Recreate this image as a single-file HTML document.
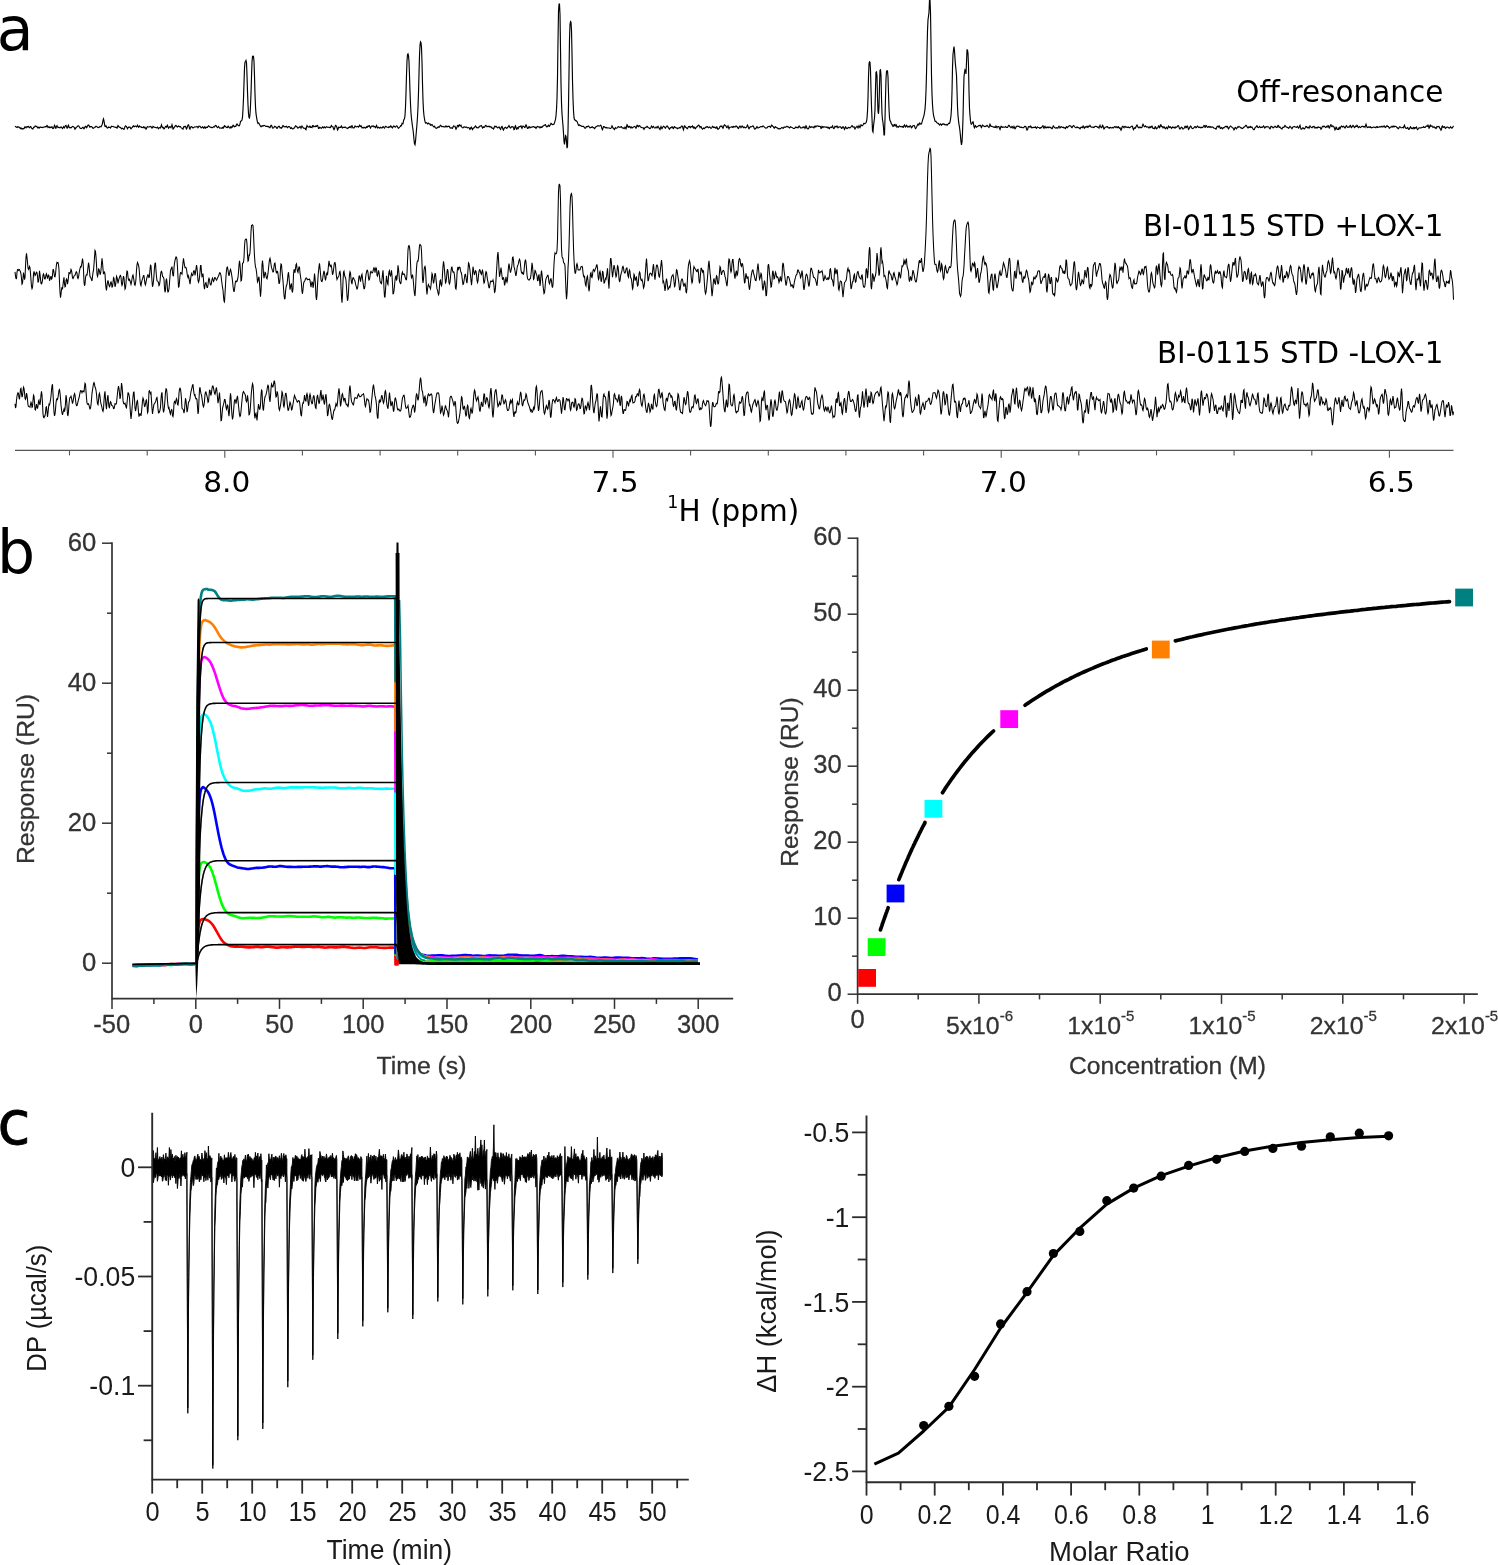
<!DOCTYPE html>
<html lang="en">
<head>
<meta charset="utf-8">
<title>BI-0115 binding to LOX-1: STD NMR, SPR and ITC</title>
<style>
html,body{margin:0;padding:0;background:#fff;}
body{width:1498px;height:1565px;overflow:hidden;}
svg{display:block;will-change:transform;}
text{white-space:pre;}
.pb text{stroke:#333;stroke-width:0.3px;}
.pb text.pl{stroke:none;}
</style>
</head>
<body>
<svg width="1498" height="1565" viewBox="0 0 1498 1565">
<rect x="0" y="0" width="1498" height="1565" fill="#ffffff"/>
<g id="panel-a">
<polyline points="15,126.9 15.5,126.5 16,126.9 16.5,127.3 17,127.5 17.5,126.8 18,126.6 18.5,127.2 19,127.2 19.5,127.2 20,128.2 20.5,128.6 21,127.8 21.5,128.3 22,129.2 22.5,128.8 23,128.4 23.5,128.9 24,128.8 24.5,127.5 25,126.7 25.5,127.4 26,127.8 26.5,127 27,126.7 27.5,127.1 28,126.6 28.5,126.4 29,127.4 29.5,127.8 30,127.2 30.5,126.6 31,126.9 31.5,128.1 32,128.6 32.5,128.8 33,128.8 33.5,127.6 34,127.1 34.5,127.1 35,126.2 35.5,126 36,126.4 36.5,126.4 37,126.9 37.5,127.7 38,127.1 38.5,127.3 39,128.2 39.5,127.8 40,127.1 40.5,127 41,127.3 41.5,127.3 42,127.4 42.5,127.6 43,127.2 43.5,127 44,127.2 44.5,127.1 45,126.5 45.5,126.5 46,127 46.5,126.4 47,125.5 47.5,126.1 48,127.5 48.5,127.1 49,126.7 49.5,127.6 50,127.6 50.5,127.2 51,127.5 51.5,126.9 52,126.7 52.5,128.1 53,128.6 53.5,128.3 54,127 54.5,125.3 55,125.9 55.5,128.1 56,128.1 56.5,126.4 57,125.7 57.5,126.7 58,127.6 58.5,127.4 59,127.3 59.5,127.7 60,127.8 60.5,127.2 61,127 61.5,127.3 62,128 62.5,128.5 63,127.7 63.5,126.7 64,127.5 64.5,127.9 65,126.6 65.5,125.6 66,125.5 66.5,126.6 67,128.1 67.5,128 68,125.9 68.5,125.2 69,127.2 69.5,127.8 70,127.4 70.5,127.8 71,127.9 71.5,127.6 72,126.9 72.5,126.4 73,126.5 73.5,126.8 74,127.1 74.5,128 75,129.3 75.5,128.8 76,127.5 76.5,127.2 77,126.9 77.5,126.2 78,125.8 78.5,125.8 79,126.3 79.5,127.3 80,128.1 80.5,128.3 81,128.3 81.5,128.5 82,128.1 82.5,127.5 83,127.3 83.5,128.1 84,128.8 84.5,128 85,126.7 85.5,126.2 86,126.7 86.5,127.8 87,127.3 87.5,125.8 88,125.3 88.5,124.9 89,125.3 89.5,127 90,127.1 90.5,126.6 91,126.5 91.5,126.6 92,126.9 92.5,127.6 93,128.4 93.5,128.2 94,127.8 94.5,127.6 95,127.3 95.5,126.7 96,126.3 96.5,126.6 97,126.8 97.5,127.2 98,127.5 98.5,127.6 99,127.4 99.5,126.9 100,126.5 100.5,126.7 101,126.8 101.5,125.8 102,125 102.5,123.3 103,120.2 103.5,118.9 104,120.9 104.5,124.1 105,126.4 105.5,126.5 106,125.8 106.5,126.7 107,127.8 107.5,128 108,127.6 108.5,127 109,127.5 109.5,127.2 110,127.2 110.5,128 111,127.2 111.5,126.2 112,126.5 112.5,126.5 113,126.4 113.5,126.7 114,127 114.5,127 115,127.2 115.5,127.4 116,127.2 116.5,127.8 117,128.1 117.5,126.8 118,125.6 118.5,126.1 119,127 119.5,127.1 120,127.4 120.5,127.5 121,128.1 121.5,128.9 122,128.4 122.5,128.2 123,128.7 123.5,129.2 124,129.3 124.5,128.2 125,126.4 125.5,125.8 126,126.3 126.5,126.6 127,127.8 127.5,128.7 128,127.7 128.5,127.1 129,127.3 129.5,127 130,127.1 130.5,128.2 131,128.8 131.5,128.1 132,127.6 132.5,127.3 133,126.1 133.5,125.8 134,126.7 134.5,126.6 135,126.1 135.5,126 136,126.4 136.5,126.9 137,126.1 137.5,125.2 138,126.2 138.5,127.2 139,126.6 139.5,126 140,126.8 140.5,127 141,126.8 141.5,127.4 142,127.4 142.5,127.5 143,127.7 143.5,126.7 144,127 144.5,127.8 145,127.4 145.5,128.1 146,129.1 146.5,128.4 147,127.1 147.5,126.7 148,126.9 148.5,127 149,127 149.5,126.8 150,126.4 150.5,126.6 151,126.8 151.5,127.2 152,128.1 152.5,127.6 153,126.3 153.5,126.6 154,127.2 154.5,127.3 155,127.4 155.5,127.5 156,127.6 156.5,127.9 157,127.8 157.5,127.1 158,127.7 158.5,128.7 159,128.2 159.5,127.6 160,127.7 160.5,127.9 161,126.1 161.5,124.9 162,126.8 162.5,127.6 163,127.3 163.5,127.9 164,128.9 164.5,128.6 165,127.4 165.5,126.5 166,126.3 166.5,127.1 167,126.3 167.5,125.3 168,127.1 168.5,128.2 169,127.6 169.5,127 170,126.6 170.5,127.1 171,127.7 171.5,126.4 172,124.8 172.5,126.4 173,128.9 173.5,128.7 174,127.7 174.5,127.2 175,126.4 175.5,125.6 176,125.5 176.5,126.2 177,126.8 177.5,127.1 178,126.5 178.5,126 179,126.5 179.5,126.8 180,126.4 180.5,126.7 181,127.5 181.5,128.1 182,128.2 182.5,128.9 183,129.2 183.5,127.3 184,126.5 184.5,126.8 185,126.4 185.5,126.4 186,127.7 186.5,129 187,128.1 187.5,126.3 188,125.2 188.5,124.8 189,125.9 189.5,128.4 190,129.1 190.5,127.6 191,126.7 191.5,126.6 192,126.9 192.5,127.7 193,128.1 193.5,127.6 194,127.3 194.5,127 195,126.8 195.5,127 196,127 196.5,126.8 197,126.5 197.5,126.8 198,127.7 198.5,127.2 199,126.2 199.5,126.3 200,126.4 200.5,126.8 201,127.8 201.5,127.9 202,127.3 202.5,126.7 203,127.1 203.5,128.1 204,128.1 204.5,126.9 205,126.9 205.5,128.2 206,127.9 206.5,127.3 207,127.2 207.5,127.3 208,126.5 208.5,125.8 209,126.2 209.5,126.6 210,127 210.5,127.4 211,127.1 211.5,127.4 212,127.8 212.5,127.6 213,127.1 213.5,126.7 214,127.1 214.5,127 215,125.9 215.5,125.4 216,125.6 216.5,126.2 217,127.1 217.5,127.6 218,127.1 218.5,126.5 219,127.2 219.5,128.1 220,128.2 220.5,128 221,127.9 221.5,128.3 222,128.4 222.5,127.4 223,127.6 223.5,128 224,126.3 224.5,125.7 225,126.6 225.5,126.4 226,126.9 226.5,127.6 227,127.7 227.5,127.5 228,126.2 228.5,126.3 229,127.3 229.5,127.8 230,128.1 230.5,127.2 231,126.7 231.5,127.7 232,127.5 232.5,126.2 233,125.2 233.5,125.2 234,126.5 234.5,126.8 235,126.3 235.5,126.3 236,126 236.5,124.6 237,124 237.5,124.8 238,125.2 238.5,125.4 239,126 239.5,125.5 240,123.8 240.5,121.6 241,120.9 241.5,120.7 242,120 242.5,117.2 243,109.4 243.5,97.9 244,83 244.5,68.1 245,62 245.5,61.6 246,60.5 246.5,62.9 247,75 247.5,91.6 248,104.7 248.5,113.5 249,117.6 249.5,118 250,114.3 250.5,105.8 251,93.5 251.5,76.8 252,62 252.5,56.5 253,56 253.5,56.6 254,61.4 254.5,76 255,94 255.5,106.9 256,113.7 256.5,116.9 257,119.8 257.5,122.4 258,123.5 258.5,122.9 259,123.3 259.5,124.5 260,125.2 260.5,126.2 261,126.8 261.5,126.5 262,125.7 262.5,125.8 263,126.2 263.5,125.6 264,125.3 264.5,125.5 265,125.7 265.5,126.3 266,126.5 266.5,126.3 267,126.2 267.5,126.5 268,126.8 268.5,126.4 269,126.9 269.5,127.7 270,127.7 270.5,126.4 271,125.3 271.5,125.3 272,126.5 272.5,128 273,128.2 273.5,127.9 274,127.4 274.5,126.4 275,126.4 275.5,126.8 276,127 276.5,127.9 277,128.4 277.5,127.8 278,126.9 278.5,126.4 279,126.1 279.5,126.6 280,127.9 280.5,127.9 281,127.7 281.5,128.2 282,127.6 282.5,126.2 283,125.5 283.5,125.9 284,126.8 284.5,126.9 285,126.6 285.5,126.9 286,126.5 286.5,126.2 287,127.2 287.5,127.7 288,127.2 288.5,126.5 289,126.5 289.5,126.7 290,127.3 290.5,128.5 291,128.3 291.5,127.7 292,128.3 292.5,128.9 293,128.9 293.5,128.4 294,128 294.5,127.9 295,126.8 295.5,125.9 296,126.2 296.5,126.2 297,126.9 297.5,128 298,128.2 298.5,127.7 299,127.4 299.5,127.3 300,126.4 300.5,127 301,128.2 301.5,126.8 302,126.1 302.5,126.9 303,127.4 303.5,128.1 304,128.3 304.5,128.2 305,128.1 305.5,129.3 306,129.7 306.5,127.1 307,125.6 307.5,126.5 308,126.8 308.5,127 309,127.2 309.5,126.3 310,126.2 310.5,127.3 311,127.1 311.5,127.3 312,127.6 312.5,125.8 313,125.6 313.5,126.6 314,126.3 314.5,126.6 315,126.8 315.5,126.1 316,126.4 316.5,126.4 317,125.5 317.5,125.4 318,126.6 318.5,128.5 319,128.5 319.5,127.3 320,127.4 320.5,127.9 321,128 321.5,128.2 322,127.6 322.5,126.9 323,127.4 323.5,127.8 324,127 324.5,126.9 325,127.8 325.5,127.9 326,127.2 326.5,126.7 327,126.9 327.5,127.3 328,127.4 328.5,127.2 329,127.1 329.5,127.4 330,127.8 330.5,127.4 331,126.1 331.5,125.6 332,126.7 332.5,126.7 333,126.8 333.5,128.9 334,129.7 334.5,128.8 335,126.9 335.5,125.3 336,125.6 336.5,126.3 337,127.9 337.5,130 338,129.5 338.5,127.3 339,127.2 339.5,127.7 340,127.5 340.5,127.5 341,126.4 341.5,126 342,127.7 342.5,128 343,127.4 343.5,127.4 344,127.4 344.5,127.5 345,127 345.5,127 346,127.8 346.5,128 347,128.1 347.5,128.6 348,128.3 348.5,127.4 349,127.3 349.5,127.3 350,126.5 350.5,127.2 351,127.7 351.5,126 352,125.6 352.5,127.1 353,127.9 353.5,127.8 354,127.8 354.5,127.1 355,126 355.5,126.3 356,126.8 356.5,126.9 357,126.8 357.5,126.3 358,126.4 358.5,127.1 359,126.4 359.5,125.2 360,126.1 360.5,126.4 361,125.8 361.5,126.8 362,127.8 362.5,127.4 363,127.8 363.5,127.8 364,127.2 364.5,127.4 365,128 365.5,128.1 366,127.4 366.5,126.8 367,127.5 367.5,127.1 368,126.1 368.5,126.3 369,125.8 369.5,125.7 370,127.3 370.5,128.1 371,127.1 371.5,126.1 372,126.2 372.5,126.3 373,125.7 373.5,126.1 374,126.9 374.5,126.4 375,126.7 375.5,127.6 376,126.9 376.5,125.5 377,126.4 377.5,128 378,127.8 378.5,127.2 379,127.5 379.5,128.1 380,128 380.5,127.3 381,127.6 381.5,127.9 382,127.9 382.5,127.5 383,126.6 383.5,126.7 384,127.7 384.5,128.1 385,127.3 385.5,126.4 386,126.4 386.5,126.9 387,127.2 387.5,127.2 388,127.5 388.5,127.6 389,126.7 389.5,127.1 390,127.1 390.5,126 391,126.1 391.5,126.9 392,127.7 392.5,128 393,126.7 393.5,126 394,126.3 394.5,126.3 395,127.1 395.5,127.2 396,126.3 396.5,125.9 397,126 397.5,126.8 398,127.8 398.5,128.2 399,127.8 399.5,127.4 400,126.8 400.5,125.8 401,126.1 401.5,125.4 402,123.4 402.5,123.8 403,123.7 403.5,121 404,119.4 404.5,118.8 405,115.6 405.5,107.1 406,92.9 406.5,75.2 407,60.9 407.5,54.8 408,54 408.5,55.7 409,61.5 409.5,75.5 410,91.7 410.5,104.1 411,113 411.5,118.5 412,122.6 412.5,126.5 413,129.7 413.5,134.3 414,139.8 414.5,143.8 415,144.7 415.5,141.3 416,135.5 416.5,129.8 417,124 417.5,116.8 418,107.2 418.5,92.8 419,73.6 419.5,55.5 420,45.3 420.5,41.8 421,42.6 421.5,47.6 422,62.2 422.5,83.4 423,100.4 423.5,110.6 424,115.8 424.5,118.9 425,121.6 425.5,123.1 426,123 426.5,122.7 427,123.2 427.5,123.9 428,123.5 428.5,123.1 429,123.9 429.5,124.1 430,124 430.5,125.1 431,125.4 431.5,124.7 432,124.5 432.5,125.3 433,126 433.5,126.7 434,126.9 434.5,126.3 435,127 435.5,128 436,128 436.5,128.4 437,128.1 437.5,127.5 438,127.1 438.5,126.9 439,127.4 439.5,127 440,125.8 440.5,125.3 441,125.6 441.5,126.4 442,126.8 442.5,126.5 443,126.4 443.5,126.8 444,126.9 444.5,126.8 445,127 445.5,126.3 446,125.8 446.5,126.6 447,127 447.5,126.5 448,126.3 448.5,126.3 449,126.2 449.5,126.7 450,127.8 450.5,128.1 451,127.9 451.5,127.8 452,128.2 452.5,128.3 453,127 453.5,125.9 454,126.1 454.5,126.2 455,126.3 455.5,128.1 456,129.2 456.5,128.3 457,127 457.5,125.5 458,125.6 458.5,126.4 459,125.2 459.5,124.8 460,125.8 460.5,125.7 461,125.2 461.5,126.4 462,127.4 462.5,127.7 463,127.9 463.5,127.4 464,126.9 464.5,126.8 465,127.2 465.5,127.3 466,127 466.5,127.1 467,127.5 467.5,127.9 468,127.8 468.5,127.6 469,127.7 469.5,128.4 470,129.4 470.5,128.8 471,127.3 471.5,127.2 472,128.8 472.5,129.6 473,128.7 473.5,127.9 474,128 474.5,127.7 475,126.5 475.5,125.9 476,126.6 476.5,127.6 477,127.5 477.5,127.8 478,128 478.5,127 479,127 479.5,127 480,126 480.5,125.8 481,125.8 481.5,125.7 482,126.7 482.5,128 483,127.6 483.5,126.9 484,127.4 484.5,127.3 485,126.4 485.5,125.5 486,125.4 486.5,126.1 487,126.7 487.5,126.4 488,126.5 488.5,126.6 489,126.1 489.5,126.6 490,127.1 490.5,126.6 491,126.7 491.5,127.4 492,128.1 492.5,128.1 493,128.3 493.5,129 494,128.2 494.5,126.4 495,126.4 495.5,126.7 496,126.3 496.5,126.7 497,127.4 497.5,127.9 498,127.7 498.5,127.2 499,126.9 499.5,127.4 500,128.8 500.5,129.4 501,128.3 501.5,126.9 502,126.5 502.5,127.5 503,129.5 503.5,130.1 504,128.8 504.5,127.9 505,127.6 505.5,127.2 506,127.6 506.5,128.4 507,128.2 507.5,127.4 508,127.1 508.5,126.4 509,125.6 509.5,126.5 510,127.6 510.5,128 511,127.6 511.5,126.7 512,126.6 512.5,126.9 513,126.9 513.5,127.7 514,129.7 514.5,129.4 515,126.4 515.5,125.7 516,127.5 516.5,128.9 517,128.2 517.5,127.7 518,128.8 518.5,128.1 519,126.6 519.5,126.5 520,126.6 520.5,126.1 521,125.8 521.5,127.5 522,128.4 522.5,126.9 523,126 523.5,126.3 524,126.6 524.5,127.6 525,127.7 525.5,126 526,124.9 526.5,125.6 527,127.3 527.5,128.5 528,128.5 528.5,127.5 529,126.6 529.5,127 530,127.9 530.5,127.5 531,127 531.5,127 532,127.1 532.5,127 533,126.6 533.5,126.6 534,127.1 534.5,127.3 535,127 535.5,127.7 536,128.4 536.5,127.5 537,126.6 537.5,126.4 538,126.7 538.5,127 539,126.8 539.5,127 540,127.9 540.5,127.6 541,126.7 541.5,127.4 542,127.4 542.5,126.3 543,126 543.5,125.9 544,125.4 544.5,125.3 545,124.8 545.5,124.7 546,126.1 546.5,126.8 547,126.7 547.5,126.7 548,125.7 548.5,125.2 549,126.3 549.5,126.4 550,125.3 550.5,124.2 551,123.4 551.5,123.7 552,124.5 552.5,124.7 553,124.3 553.5,124.3 554,124.1 554.5,122.7 555,121.1 555.5,119.4 556,115.8 556.5,109.4 557,98.8 557.5,77.6 558,41.2 558.5,11.4 559,4.2 559.5,4 560,14.3 560.5,48.7 561,83.2 561.5,103 562,113.7 562.5,120 563,125.6 563.5,133.1 564,141.5 564.5,144.4 565,139.9 565.5,135.6 566,136.2 566.5,141.4 567,148.1 567.5,146.4 568,130.6 568.5,105.7 569,72.9 569.5,39.8 570,24.2 570.5,21.6 571,22.3 571.5,30.2 572,53.3 572.5,80.7 573,99 573.5,110.6 574,117.7 574.5,119.7 575,119.8 575.5,120.5 576,120.9 576.5,120.9 577,121.6 577.5,122.6 578,124.1 578.5,125.4 579,125 579.5,124.9 580,125.6 580.5,125.4 581,125.6 581.5,126.3 582,126.5 582.5,126.4 583,126.4 583.5,126.4 584,126.9 584.5,127.8 585,128.1 585.5,128.1 586,127.4 586.5,126.5 587,126.5 587.5,126.8 588,126.2 588.5,126 589,126.7 589.5,127.1 590,127.8 590.5,127.7 591,127.3 591.5,127.4 592,126.8 592.5,126.8 593,127.6 593.5,127.6 594,128 594.5,128.6 595,128.1 595.5,127.2 596,126.7 596.5,126.6 597,126.3 597.5,126.1 598,125.6 598.5,125.8 599,126.2 599.5,126 600,125.6 600.5,125.1 601,125.4 601.5,127.2 602,129.1 602.5,129.7 603,128.1 603.5,126.6 604,126.5 604.5,127 605,127.6 605.5,127.8 606,127.4 606.5,127.6 607,128 607.5,127.8 608,128 608.5,128 609,127.8 609.5,128.1 610,128.5 610.5,128.5 611,128.2 611.5,127.2 612,125.9 612.5,126.8 613,128 613.5,128.2 614,129.1 614.5,129.5 615,128.2 615.5,127.6 616,128.2 616.5,128.2 617,128.1 617.5,127.5 618,126.8 618.5,126.6 619,127 619.5,127.3 620,127 620.5,127.1 621,126.9 621.5,126.7 622,127.7 622.5,128.1 623,127.7 623.5,128.2 624,128.7 624.5,128.1 625,127.1 625.5,127.9 626,128.7 626.5,126.8 627,124.8 627.5,125.4 628,127 628.5,127.2 629,126.5 629.5,126.4 630,127.3 630.5,127.8 631,126.9 631.5,127 632,128.1 632.5,127.9 633,127.2 633.5,127 634,126.6 634.5,126.3 635,126.6 635.5,127.6 636,128.1 636.5,126.8 637,125.3 637.5,125.3 638,126.6 638.5,126.8 639,125.7 639.5,125.6 640,126.2 640.5,126.9 641,127.3 641.5,127.4 642,127.7 642.5,127.7 643,127.6 643.5,128.4 644,129.3 644.5,128.5 645,127.4 645.5,127.3 646,127.4 646.5,126.9 647,126.3 647.5,126.7 648,127.5 648.5,127.7 649,127.8 649.5,128.6 650,128.7 650.5,128.2 651,127.2 651.5,126.1 652,126.6 652.5,127.6 653,127 653.5,126.4 654,127.3 654.5,128 655,128 655.5,127.7 656,127 656.5,127 657,127.9 657.5,127.2 658,126.3 658.5,127.1 659,127.9 659.5,129 660,129.6 660.5,127.9 661,126.6 661.5,127.9 662,128.7 662.5,127.7 663,126.8 663.5,126.2 664,126.4 664.5,127 665,127.8 665.5,128.1 666,127.1 666.5,126.3 667,126 667.5,126.2 668,127.2 668.5,127.8 669,128.7 669.5,129.2 670,128.1 670.5,127.6 671,127.8 671.5,127.1 672,126.8 672.5,127.2 673,128.3 673.5,128.6 674,127.1 674.5,126.6 675,127.3 675.5,127.7 676,127.7 676.5,127.7 677,128.5 677.5,128.7 678,128 678.5,128.2 679,128.2 679.5,127.5 680,127.8 680.5,127.9 681,126.8 681.5,126.1 682,126 682.5,126.4 683,128.6 683.5,129.8 684,127.7 684.5,125.8 685,126.1 685.5,127.3 686,127.4 686.5,127.8 687,128.7 687.5,128.7 688,127.4 688.5,126.6 689,126.6 689.5,126.4 690,127.3 690.5,127.7 691,126.6 691.5,126.9 692,126.6 692.5,126 693,127.5 693.5,128 694,126.9 694.5,127.3 695,128.5 695.5,128.7 696,127.6 696.5,126.8 697,126.9 697.5,126.3 698,125.4 698.5,125.2 699,125.3 699.5,126.4 700,127.6 700.5,126.8 701,126.6 701.5,127.6 702,128.7 702.5,129.2 703,128.7 703.5,128.1 704,128.4 704.5,128.5 705,127.8 705.5,127.1 706,127.3 706.5,127 707,126.5 707.5,126.8 708,127.3 708.5,127.7 709,127.4 709.5,127 710,127.3 710.5,127.9 711,128.3 711.5,128 712,127.3 712.5,126.4 713,126.7 713.5,127.6 714,127.4 714.5,127.2 715,127.3 715.5,128 716,128.2 716.5,126.9 717,127 717.5,128.7 718,129.3 718.5,128.8 719,128.5 719.5,127.7 720,126.4 720.5,126.1 721,126.5 721.5,126 722,126.1 722.5,127.8 723,128.3 723.5,127 724,125.6 724.5,124.8 725,125.1 725.5,125.6 726,126.1 726.5,127.3 727,127.6 727.5,126.8 728,125.9 728.5,127.3 729,128.8 729.5,127.7 730,127.1 730.5,127.2 731,127.2 731.5,127 732,126.6 732.5,127.2 733,127.4 733.5,126.4 734,126.5 734.5,126.9 735,126.9 735.5,126.7 736,126 736.5,126.3 737,126.8 737.5,127.2 738,128.2 738.5,128.4 739,127.4 739.5,126.4 740,126 740.5,126.8 741,127.7 741.5,127 742,126.1 742.5,126.1 743,127.1 743.5,127.6 744,127.1 744.5,127.1 745,127.7 745.5,127.9 746,127.5 746.5,127.1 747,126.1 747.5,125.1 748,126.2 748.5,128 749,128.7 749.5,128 750,126.9 750.5,126.7 751,126.9 751.5,126.7 752,126.5 752.5,125.9 753,125.8 753.5,126.6 754,127.8 754.5,129 755,129.2 755.5,128.7 756,128.3 756.5,127.1 757,126.6 757.5,127.4 758,128 758.5,127.8 759,127.5 759.5,127.5 760,127 760.5,126.8 761,126.6 761.5,126.6 762,126.9 762.5,126.5 763,125.9 763.5,126.4 764,126.7 764.5,127.1 765,127.7 765.5,128.1 766,128 766.5,127.8 767,127.9 767.5,127.4 768,126.6 768.5,126.5 769,126.4 769.5,126.3 770,126.8 770.5,127.3 771,126.4 771.5,125 772,125.3 772.5,126.1 773,126.4 773.5,127 774,128.1 774.5,128.2 775,127 775.5,126.7 776,127.3 776.5,127.7 777,127.7 777.5,128 778,128.7 778.5,128.8 779,128.5 779.5,128.9 780,128.9 780.5,128.5 781,128.2 781.5,127.7 782,127.5 782.5,127.9 783,128.3 783.5,128 784,127 784.5,127 785,127.4 785.5,127.1 786,127 786.5,126.5 787,126.2 787.5,126.8 788,127 788.5,126.9 789,127.7 789.5,128 790,127.1 790.5,126.8 791,127.2 791.5,127.3 792,127.6 792.5,127.8 793,128.1 793.5,128.5 794,128.5 794.5,128.5 795,127.9 795.5,127 796,127.4 796.5,127.6 797,127.2 797.5,127.5 798,127.9 798.5,127.2 799,126.1 799.5,126.1 800,127.2 800.5,127.8 801,127.8 801.5,127.9 802,127.9 802.5,127.3 803,126.9 803.5,127.4 804,126.8 804.5,126.9 805,128.4 805.5,127.6 806,125.9 806.5,126.6 807,128.3 807.5,128.7 808,128.8 808.5,128.7 809,127.5 809.5,126.2 810,126.6 810.5,127.6 811,127.4 811.5,126.7 812,126.9 812.5,127.2 813,127 813.5,127.7 814,127.8 814.5,126.5 815,126 815.5,126.8 816,126.8 816.5,126 817,126 817.5,125.9 818,126 818.5,126.5 819,126.4 819.5,126.4 820,126.4 820.5,126.9 821,128.5 821.5,128.2 822,126.4 822.5,126.7 823,127.5 823.5,126.9 824,126.6 824.5,127 825,127 825.5,127.1 826,127.4 826.5,127 827,126.9 827.5,127.8 828,127.7 828.5,127.4 829,128.5 829.5,128.7 830,127.4 830.5,127.1 831,127.3 831.5,127.6 832,126.9 832.5,125.9 833,127.1 833.5,128.5 834,128.6 834.5,127.5 835,126.3 835.5,126.5 836,127 836.5,126.7 837,126 837.5,126.9 838,127.8 838.5,127.3 839,127 839.5,126.9 840,126.8 840.5,126.9 841,127.4 841.5,128.4 842,128.3 842.5,127.1 843,126.8 843.5,127.2 844,128.2 844.5,129.3 845,128.3 845.5,126.9 846,127.4 846.5,128.3 847,128.6 847.5,128.2 848,127.7 848.5,127.4 849,127.5 849.5,127.8 850,127.8 850.5,127.2 851,126.9 851.5,126.4 852,125.7 852.5,126.2 853,127.1 853.5,127 854,126.8 854.5,127.9 855,128.9 855.5,128 856,127.2 856.5,127 857,126.3 857.5,126.9 858,127.9 858.5,126.8 859,125.7 859.5,127 860,127.6 860.5,126.1 861,124.8 861.5,125.1 862,125.9 862.5,125.8 863,125 863.5,123.8 864,123.3 864.5,123.7 865,123.6 865.5,123.2 866,122.6 866.5,121.5 867,118.3 867.5,111.4 868,98 868.5,77 869,63.8 869.5,61.8 870,62.3 870.5,70.2 871,89.8 871.5,106.4 872,118.4 872.5,130.8 873,131.9 873.5,125.7 874,121.9 874.5,117.8 875,109.5 875.5,88.8 876,72.3 876.5,71.9 877,76.1 877.5,96.9 878,111.3 878.5,113.8 879,106.7 879.5,86.5 880,70.2 880.5,69.8 881,75 881.5,97.9 882,114 882.5,119.7 883,122.7 883.5,127.4 884,134.9 884.5,134.9 885,119.1 885.5,97.5 886,79 886.5,71.4 887,70.7 887.5,70.9 888,77 888.5,92.9 889,108.4 889.5,117.6 890,120.8 890.5,121.2 891,122.7 891.5,124.1 892,124.4 892.5,125.4 893,126.5 893.5,126.2 894,124.6 894.5,124.4 895,125.9 895.5,125.9 896,124.6 896.5,125.3 897,127.3 897.5,126.9 898,126.5 898.5,127.2 899,126.7 899.5,126 900,126.2 900.5,126.6 901,126.8 901.5,126.7 902,126.4 902.5,126.5 903,127.4 903.5,127.2 904,125.6 904.5,124.9 905,125.9 905.5,127 906,126.5 906.5,125.3 907,125.8 907.5,127 908,126.8 908.5,126.5 909,127 909.5,126.8 910,125.7 910.5,125.7 911,126.9 911.5,127.8 912,127.4 912.5,126.2 913,125.8 913.5,125.7 914,125.4 914.5,125.8 915,127.5 915.5,128.6 916,128.2 916.5,127.3 917,126.1 917.5,124.7 918,124.1 918.5,125 919,124.8 919.5,123.1 920,123.3 920.5,124.1 921,124.2 921.5,123.8 922,122.1 922.5,120.3 923,118.6 923.5,117.1 924,115.3 924.5,112.6 925,109.1 925.5,102.5 926,91.2 926.5,74 927,51.3 927.5,30.9 928,19.7 928.5,16.3 929,12.2 929.5,0.3 930,0.3 930.5,12 931,43.6 931.5,75.2 932,94.3 932.5,104.7 933,111 933.5,115.2 934,117.2 934.5,119.1 935,121.1 935.5,121.4 936,121.4 936.5,122.4 937,122.8 937.5,123.1 938,123.6 938.5,123.5 939,124.2 939.5,125.1 940,124.5 940.5,123.9 941,124.4 941.5,125.2 942,124.6 942.5,124 943,124.2 943.5,123.9 944,123.9 944.5,124.6 945,124.9 945.5,124.7 946,124.4 946.5,124.8 947,125.2 947.5,124.8 948,124.2 948.5,123.4 949,123.2 949.5,123.4 950,122.1 950.5,119.3 951,115.6 951.5,107.9 952,91.7 952.5,68.1 953,54.3 953.5,50.2 954,46.5 954.5,50.7 955,58.9 955.5,65.1 956,69.8 956.5,75.2 957,90.7 957.5,106.9 958,115.6 958.5,120.6 959,124.3 959.5,127.4 960,131.2 960.5,136.5 961,141.9 961.5,144.8 962,142 962.5,132.9 963,118.1 963.5,95.2 964,76.8 964.5,72.5 965,69.8 965.5,70.5 966,74 966.5,62.3 967,49.9 967.5,50 968,53.2 968.5,65.8 969,91.4 969.5,108.2 970,115.6 970.5,120.9 971,124 971.5,124.3 972,123.5 972.5,122.3 973,121.8 973.5,123.5 974,126.7 974.5,127.7 975,126 975.5,125.6 976,126.9 976.5,127.2 977,126.7 977.5,126.4 978,126.2 978.5,125.7 979,125.4 979.5,125.7 980,125.2 980.5,125.2 981,127 981.5,127.6 982,126 982.5,125.1 983,125.5 983.5,126 984,126.2 984.5,126.4 985,126.6 985.5,126.4 986,126.1 986.5,125.9 987,125.3 987.5,125.8 988,126.6 988.5,127 989,127.4 989.5,125.7 990,124.3 990.5,125.3 991,126.3 991.5,126.3 992,126.4 992.5,126.7 993,126.7 993.5,127 994,127.3 994.5,127 995,127.5 995.5,127.4 996,126 996.5,126.7 997,127.7 997.5,126.8 998,126.5 998.5,126.5 999,126.7 999.5,128.4 1000,129.5 1000.5,128 1001,126.4 1001.5,126.4 1002,127.2 1002.5,127.3 1003,126.9 1003.5,127.1 1004,127.2 1004.5,127.2 1005,127 1005.5,126.5 1006,127.1 1006.5,127.4 1007,127.5 1007.5,127.4 1008,126.5 1008.5,125.5 1009,125.3 1009.5,126.2 1010,126.8 1010.5,127.1 1011,127.7 1011.5,127.3 1012,126.4 1012.5,126.8 1013,128.2 1013.5,127.9 1014,126.5 1014.5,127.4 1015,128.9 1015.5,128.5 1016,127.1 1016.5,126.2 1017,126.2 1017.5,126.1 1018,126.3 1018.5,126.3 1019,126.3 1019.5,126.9 1020,127.1 1020.5,127.5 1021,127.4 1021.5,127.1 1022,127.4 1022.5,127.6 1023,127.7 1023.5,127.6 1024,127.1 1024.5,126.5 1025,126.6 1025.5,126.4 1026,126.9 1026.5,129 1027,130 1027.5,129.6 1028,128 1028.5,126.6 1029,126.4 1029.5,127 1030,127.1 1030.5,126.1 1031,126.4 1031.5,127.7 1032,127.9 1032.5,127.5 1033,127.5 1033.5,127.6 1034,127.1 1034.5,127.3 1035,127.3 1035.5,126.9 1036,127.9 1036.5,128.3 1037,127.3 1037.5,127 1038,127.3 1038.5,127.5 1039,127.5 1039.5,128.2 1040,128.4 1040.5,127.6 1041,127.8 1041.5,127.5 1042,126.8 1042.5,125.9 1043,125.7 1043.5,127.5 1044,128.3 1044.5,126.9 1045,126.3 1045.5,127.4 1046,127.9 1046.5,127.3 1047,127.6 1047.5,127.4 1048,126.9 1048.5,127.6 1049,127.6 1049.5,127.1 1050,127.1 1050.5,127.5 1051,127.9 1051.5,128.1 1052,128.7 1052.5,128.1 1053,126.4 1053.5,125.9 1054,126.8 1054.5,127.6 1055,127.7 1055.5,127.9 1056,128.2 1056.5,127.6 1057,127.7 1057.5,128.2 1058,128.1 1058.5,126.8 1059,126.2 1059.5,127 1060,128 1060.5,127.5 1061,126.7 1061.5,126.9 1062,127.1 1062.5,127.5 1063,127.5 1063.5,127.3 1064,128.1 1064.5,127.9 1065,127.8 1065.5,128.4 1066,127.4 1066.5,126.7 1067,127.3 1067.5,127.7 1068,126.8 1068.5,126.2 1069,126.1 1069.5,125.6 1070,125.7 1070.5,125.9 1071,126.2 1071.5,127.4 1072,127.7 1072.5,126.9 1073,126.1 1073.5,125.5 1074,125.8 1074.5,126.6 1075,127.1 1075.5,127.5 1076,127.8 1076.5,127.4 1077,126.9 1077.5,127.4 1078,127.6 1078.5,127.5 1079,127.7 1079.5,128.4 1080,128.8 1080.5,127.9 1081,127.3 1081.5,127.1 1082,127.6 1082.5,127.6 1083,126.1 1083.5,126.1 1084,127.7 1084.5,128.2 1085,127.2 1085.5,126.8 1086,127.2 1086.5,126.6 1087,126.2 1087.5,127.2 1088,127.4 1088.5,126.3 1089,126.5 1089.5,126.3 1090,125.4 1090.5,126.2 1091,127 1091.5,127.1 1092,127.2 1092.5,127 1093,127.1 1093.5,127.6 1094,127.4 1094.5,126.8 1095,126.5 1095.5,126.2 1096,126.2 1096.5,126.4 1097,126.8 1097.5,127.3 1098,127 1098.5,127.1 1099,128 1099.5,126.4 1100,125.3 1100.5,126.8 1101,127.3 1101.5,127.7 1102,126.9 1102.5,125.3 1103,125.8 1103.5,127.7 1104,129 1104.5,128.4 1105,127.3 1105.5,127.2 1106,127.2 1106.5,126.8 1107,126.6 1107.5,126.6 1108,127.5 1108.5,127.8 1109,127.7 1109.5,128.2 1110,127.5 1110.5,127.3 1111,127.8 1111.5,127.8 1112,127.7 1112.5,127.5 1113,127.8 1113.5,127.8 1114,127.2 1114.5,126.8 1115,126.5 1115.5,127.1 1116,127.6 1116.5,126.8 1117,126.8 1117.5,127.7 1118,127.3 1118.5,126.7 1119,127.7 1119.5,128.2 1120,127.9 1120.5,129 1121,130.1 1121.5,129.2 1122,127.3 1122.5,126.4 1123,126.4 1123.5,127.2 1124,127.7 1124.5,126.8 1125,126.4 1125.5,127 1126,126.9 1126.5,127.1 1127,127.1 1127.5,127.4 1128,127.6 1128.5,127 1129,127.4 1129.5,127.8 1130,127.5 1130.5,126.9 1131,126.7 1131.5,126.5 1132,126.1 1132.5,126.6 1133,128.5 1133.5,129.6 1134,128.6 1134.5,127.9 1135,128.3 1135.5,128 1136,126.7 1136.5,125.5 1137,125 1137.5,126 1138,127.2 1138.5,127.8 1139,127.9 1139.5,127.1 1140,126.9 1140.5,127.6 1141,127.6 1141.5,127.7 1142,127.3 1142.5,125.4 1143,124.2 1143.5,125.1 1144,126.1 1144.5,126.8 1145,126.6 1145.5,125.9 1146,126.5 1146.5,127.1 1147,126.9 1147.5,126.9 1148,126.8 1148.5,127.3 1149,128 1149.5,127.3 1150,126.6 1150.5,127.7 1151,127.6 1151.5,126.3 1152,126 1152.5,127.1 1153,128.4 1153.5,128.4 1154,128.6 1154.5,128.6 1155,127 1155.5,126.8 1156,128.3 1156.5,128.8 1157,128.1 1157.5,128 1158,127.4 1158.5,125.8 1159,126.1 1159.5,127.5 1160,126.9 1160.5,124.9 1161,124.9 1161.5,126.6 1162,126.7 1162.5,126.6 1163,127.9 1163.5,127.6 1164,126.7 1164.5,127.4 1165,128.3 1165.5,128.7 1166,128 1166.5,127.3 1167,128.1 1167.5,128.7 1168,127.5 1168.5,126.1 1169,126.7 1169.5,127.5 1170,127.2 1170.5,126.8 1171,127.7 1171.5,128.4 1172,127.8 1172.5,127 1173,127.2 1173.5,127.6 1174,127.2 1174.5,127.9 1175,128.2 1175.5,127.1 1176,127 1176.5,127.3 1177,126.9 1177.5,126.1 1178,125.7 1178.5,125.8 1179,126.9 1179.5,128.8 1180,129 1180.5,128.1 1181,127.7 1181.5,127.2 1182,127.5 1182.5,128.7 1183,129 1183.5,128.8 1184,128.4 1184.5,127.5 1185,126.4 1185.5,126.4 1186,127.7 1186.5,127.5 1187,126 1187.5,126 1188,127.7 1188.5,129.3 1189,128.8 1189.5,127.8 1190,126.9 1190.5,126 1191,126.4 1191.5,127.5 1192,128.4 1192.5,128.7 1193,128.4 1193.5,128.1 1194,127.6 1194.5,127 1195,126.6 1195.5,127 1196,127.8 1196.5,127.6 1197,126.5 1197.5,126.1 1198,126.7 1198.5,127.4 1199,127.6 1199.5,127.1 1200,127.1 1200.5,127.8 1201,127.9 1201.5,127.3 1202,127.3 1202.5,127.6 1203,127.2 1203.5,126.5 1204,125.5 1204.5,125.7 1205,127.3 1205.5,127 1206,125.5 1206.5,125.7 1207,126.8 1207.5,127.4 1208,127.3 1208.5,126.5 1209,126.8 1209.5,127.2 1210,126.6 1210.5,127 1211,127.5 1211.5,127 1212,126.8 1212.5,127 1213,127.3 1213.5,127.8 1214,128.2 1214.5,128.2 1215,128.2 1215.5,128.7 1216,129.1 1216.5,128 1217,126.6 1217.5,126.2 1218,126.6 1218.5,127.1 1219,125.9 1219.5,126 1220,127.9 1220.5,128.5 1221,128 1221.5,127.5 1222,128.1 1222.5,128.8 1223,127.9 1223.5,127.6 1224,127.8 1224.5,127.1 1225,126.8 1225.5,126.4 1226,126.6 1226.5,126.9 1227,126.3 1227.5,126.5 1228,128 1228.5,128.9 1229,128.1 1229.5,127.1 1230,126.6 1230.5,126 1231,126.4 1231.5,126.9 1232,127.3 1232.5,127.8 1233,128 1233.5,128.7 1234,129.9 1234.5,129.2 1235,127.6 1235.5,127.4 1236,128.1 1236.5,128.7 1237,128 1237.5,126.9 1238,127.1 1238.5,127.1 1239,126.4 1239.5,126.9 1240,127.2 1240.5,127.2 1241,128 1241.5,127.9 1242,128.2 1242.5,128.5 1243,128.1 1243.5,127.4 1244,127.1 1244.5,127 1245,126.5 1245.5,125.6 1246,125.3 1246.5,125.9 1247,126.6 1247.5,127.7 1248,128 1248.5,127.3 1249,126.7 1249.5,127.3 1250,127.3 1250.5,126.5 1251,127.2 1251.5,127.4 1252,127.1 1252.5,128.2 1253,129 1253.5,129.5 1254,129.8 1254.5,129.2 1255,127.8 1255.5,127.2 1256,127 1256.5,126 1257,125.8 1257.5,126.9 1258,127.6 1258.5,127.7 1259,127.2 1259.5,126.4 1260,126.8 1260.5,127.5 1261,127.4 1261.5,127.1 1262,127.3 1262.5,127.2 1263,126.7 1263.5,125.9 1264,126.5 1264.5,128 1265,127.7 1265.5,127 1266,127.1 1266.5,126.7 1267,126.5 1267.5,126.8 1268,127 1268.5,126.9 1269,127.3 1269.5,128.5 1270,128.9 1270.5,127.8 1271,126.3 1271.5,126.3 1272,126.8 1272.5,127.2 1273,127.9 1273.5,127.7 1274,127.1 1274.5,126.7 1275,126.2 1275.5,126.5 1276,127.2 1276.5,127.4 1277,127.4 1277.5,126.7 1278,125.3 1278.5,125.4 1279,127.2 1279.5,127.3 1280,127 1280.5,127.9 1281,128.3 1281.5,128.7 1282,129 1282.5,127.7 1283,127.1 1283.5,127.3 1284,127.2 1284.5,126.2 1285,125.4 1285.5,126 1286,126.8 1286.5,127.2 1287,127.3 1287.5,127.4 1288,127.8 1288.5,128.3 1289,128 1289.5,127 1290,126.4 1290.5,126.9 1291,127.5 1291.5,128.2 1292,128.7 1292.5,127.5 1293,126.9 1293.5,126.7 1294,126.5 1294.5,126.8 1295,126.9 1295.5,127 1296,127.2 1296.5,127.3 1297,126.7 1297.5,126.3 1298,127.4 1298.5,128.1 1299,127.6 1299.5,126.2 1300,125.3 1300.5,127.4 1301,129.2 1301.5,129.1 1302,128.9 1302.5,128.2 1303,127.8 1303.5,128.2 1304,128.8 1304.5,128.8 1305,128.1 1305.5,127.3 1306,126.3 1306.5,126.4 1307,127.6 1307.5,127.8 1308,127.1 1308.5,127.3 1309,128.2 1309.5,127.2 1310,125.9 1310.5,126.5 1311,127.1 1311.5,127.6 1312,127.8 1312.5,126.9 1313,126.6 1313.5,126.8 1314,126.4 1314.5,127.1 1315,128.2 1315.5,127.8 1316,127.4 1316.5,127.6 1317,128 1317.5,127.8 1318,126.9 1318.5,127 1319,127.5 1319.5,127.5 1320,127.3 1320.5,128.1 1321,129.3 1321.5,128.8 1322,127.4 1322.5,126.3 1323,126.3 1323.5,126.7 1324,126.1 1324.5,126.2 1325,127 1325.5,127.6 1326,127.3 1326.5,126.4 1327,126.9 1327.5,126.9 1328,125.7 1328.5,126 1329,127.7 1329.5,127.9 1330,126.6 1330.5,124.9 1331,124.7 1331.5,126.2 1332,126.6 1332.5,126 1333,126.1 1333.5,126.7 1334,126.9 1334.5,128.3 1335,129.9 1335.5,129.1 1336,127.2 1336.5,127.3 1337,129.2 1337.5,129.3 1338,129.1 1338.5,129.4 1339,127.6 1339.5,127.3 1340,128.7 1340.5,127.7 1341,126.5 1341.5,126 1342,126.5 1342.5,127.1 1343,126.8 1343.5,126.3 1344,126.6 1344.5,127.5 1345,128 1345.5,127.3 1346,126.2 1346.5,125.7 1347,126.5 1347.5,127.4 1348,127.3 1348.5,126.9 1349,127.2 1349.5,127.1 1350,125.5 1350.5,125.4 1351,127.1 1351.5,127.6 1352,126.9 1352.5,126.2 1353,125.4 1353.5,125.8 1354,126.9 1354.5,127.7 1355,127.2 1355.5,126.1 1356,126.5 1356.5,126.4 1357,125.2 1357.5,125.7 1358,127.2 1358.5,127.7 1359,127 1359.5,126.5 1360,127.1 1360.5,127.6 1361,127.2 1361.5,126.5 1362,126.4 1362.5,126.3 1363,126.5 1363.5,127 1364,126.4 1364.5,126.5 1365,127.3 1365.5,125.7 1366,124.3 1366.5,125.7 1367,127.2 1367.5,127.6 1368,127.4 1368.5,127 1369,126.7 1369.5,127.3 1370,127.5 1370.5,126.8 1371,127.2 1371.5,127.9 1372,127.8 1372.5,127.6 1373,127.2 1373.5,127.1 1374,127.1 1374.5,127.2 1375,127.4 1375.5,127.6 1376,127.6 1376.5,126.6 1377,126.4 1377.5,127.5 1378,127.5 1378.5,127 1379,127 1379.5,126.9 1380,126.5 1380.5,127.1 1381,127.2 1381.5,126.4 1382,126.2 1382.5,126.7 1383,127 1383.5,126.7 1384,125.9 1384.5,126 1385,127.3 1385.5,127.5 1386,126.9 1386.5,126.1 1387,125.7 1387.5,126.4 1388,126.5 1388.5,126.6 1389,127.9 1389.5,128.3 1390,127.7 1390.5,127.2 1391,127.1 1391.5,126.7 1392,126.2 1392.5,127 1393,127.1 1393.5,126.1 1394,126.1 1394.5,126.7 1395,126.5 1395.5,126.3 1396,126.5 1396.5,126.9 1397,127.5 1397.5,128 1398,128.6 1398.5,128.8 1399,127.8 1399.5,126.8 1400,126.9 1400.5,127.4 1401,127.7 1401.5,127.7 1402,127.7 1402.5,127.5 1403,127.4 1403.5,127.8 1404,126.3 1404.5,125.2 1405,126.7 1405.5,128 1406,128.3 1406.5,128.4 1407,128.2 1407.5,127.5 1408,127.9 1408.5,129.2 1409,129.4 1409.5,128.9 1410,127.6 1410.5,126.8 1411,127.6 1411.5,128.5 1412,128.2 1412.5,128.3 1413,128.7 1413.5,127.5 1414,127.6 1414.5,128.4 1415,127.8 1415.5,128.1 1416,127.5 1416.5,127 1417,128.7 1417.5,129.6 1418,129.2 1418.5,128.5 1419,127.9 1419.5,127.9 1420,128 1420.5,127.8 1421,127.9 1421.5,127.8 1422,127.3 1422.5,127.5 1423,127.3 1423.5,126.7 1424,127.2 1424.5,127.4 1425,127.4 1425.5,127 1426,126.4 1426.5,125.9 1427,126.2 1427.5,126.3 1428,125.2 1428.5,126.2 1429,128.2 1429.5,127.7 1430,125.3 1430.5,125.1 1431,126.3 1431.5,126.1 1432,125.9 1432.5,126.8 1433,127.5 1433.5,127.1 1434,126.6 1434.5,127.3 1435,127.8 1435.5,127.7 1436,128.5 1436.5,127.9 1437,126.4 1437.5,126.5 1438,126.9 1438.5,126.6 1439,126.4 1439.5,127.6 1440,128.6 1440.5,128.9 1441,130.2 1441.5,129.3 1442,126.4 1442.5,126 1443,127.2 1443.5,127.4 1444,126.8 1444.5,126.7 1445,127.7 1445.5,128.4 1446,127.9 1446.5,127.2 1447,127.1 1447.5,127.1 1448,127.2 1448.5,127.7 1449,127.9 1449.5,128.1 1450,127.7 1450.5,126.8 1451,127.3 1451.5,128.1 1452,127.9 1452.5,127.7 1453,126.8 1453.5,125.9" fill="none" stroke="#000" stroke-width="1.15" stroke-linejoin="miter"/>
<polyline points="15,271.9 15.5,276.1 16,278.6 16.5,278.7 17,272.3 17.5,269.7 18,269.4 18.5,270.3 19,269.7 19.5,269.6 20,271.1 20.5,271.8 21,274.1 21.5,278.5 22,284.1 22.5,283.3 23,278 23.5,272.5 24,275.6 24.5,279.7 25,277.7 25.5,266.6 26,257.4 26.5,253.4 27,257.3 27.5,262.5 28,268.1 28.5,269.4 29,268.2 29.5,266.5 30,267.9 30.5,273.4 31,280.1 31.5,286.5 32,288.7 32.5,287.3 33,282 33.5,273.9 34,271.3 34.5,273 35,275.6 35.5,275 36,273.2 36.5,272.2 37,272.8 37.5,275.7 38,282.1 38.5,281.9 39,278 39.5,270.9 40,274.2 40.5,278.9 41,283.5 41.5,283.9 42,282.8 42.5,280.1 43,275.1 43.5,273.9 44,275.1 44.5,278.7 45,279 45.5,277.5 46,274.6 46.5,273.7 47,275.9 47.5,278.6 48,276.5 48.5,275.2 49,275.9 49.5,280.7 50,279.4 50.5,277.6 51,276.1 51.5,279.1 52,278.6 52.5,275 53,269.7 53.5,269.6 54,272.3 54.5,276.7 55,276.9 55.5,274.3 56,268.8 56.5,264.4 57,262.4 57.5,263 58,262.6 58.5,264.7 59,269.8 59.5,282.3 60,292.2 60.5,297.7 61,294.2 61.5,289.3 62,287.2 62.5,289.4 63,284.8 63.5,280.4 64,277.4 64.5,284 65,286.9 65.5,286.3 66,280.6 66.5,279 67,280.2 67.5,284.2 68,281.1 68.5,276.7 69,272.1 69.5,273.7 70,273.7 70.5,272.2 71,269.4 71.5,270.5 72,273.6 72.5,277.9 73,278.5 73.5,277.7 74,276 74.5,275.7 75,275.2 75.5,274.1 76,272 76.5,271.7 77,273.1 77.5,277.5 78,278.5 78.5,277.3 79,273.8 79.5,270.9 80,268.5 80.5,266.6 81,267 81.5,265.5 82,262.2 82.5,258.5 83,261.7 83.5,269.8 84,282 84.5,285.8 85,284.4 85.5,277.8 86,275.5 86.5,274.7 87,274.9 87.5,271.9 88,267.4 88.5,262.7 89,265 89.5,271 90,276.8 90.5,276.9 91,278.2 91.5,279.7 92,281 92.5,276.5 93,272.7 93.5,270.2 94,264.5 94.5,257.3 95,250.5 95.5,251.5 96,256.9 96.5,264.7 97,273.9 97.5,276.5 98,275 98.5,269 99,269.4 99.5,271.3 100,274.1 100.5,274.2 101,270 101.5,263.7 102,258.3 102.5,262.5 103,269.1 103.5,274.2 104,272.6 104.5,272.1 105,274.1 105.5,282.3 106,287.9 106.5,290.5 107,285.6 107.5,282.1 108,280.4 108.5,282.9 109,285.4 109.5,286.6 110,285.7 110.5,282.8 111,281.8 111.5,283.1 112,287.1 112.5,286.7 113,283 113.5,277.6 114,278.3 114.5,282 115,286.7 115.5,285.4 116,281.8 116.5,276.2 117,277.3 117.5,279.9 118,283.3 118.5,280.8 119,278.9 119.5,277.4 120,275.9 120.5,275.4 121,277.2 121.5,283.2 122,285.4 122.5,284.1 123,278.8 123.5,276.1 124,278.2 124.5,284 125,289.2 125.5,288.2 126,283.2 126.5,274.7 127,271.1 127.5,271.6 128,277 128.5,279.8 129,280.5 129.5,279.4 130,280.7 130.5,282.7 131,284.4 131.5,282.4 132,279 132.5,275.9 133,275 133.5,277.4 134,280.7 134.5,284.6 135,285.3 135.5,283.4 136,278.7 136.5,270.1 137,264.8 137.5,262.5 138,263.8 138.5,265.1 139,267.8 139.5,273.6 140,280.3 140.5,284.5 141,285.7 141.5,282.6 142,280.4 142.5,278.9 143,277.1 143.5,275.6 144,275.7 144.5,280.3 145,283.8 145.5,285 146,282.2 146.5,279.6 147,277.5 147.5,275.7 148,274.7 148.5,276 149,278 149.5,275.8 150,269.8 150.5,264.8 151,266 151.5,273.7 152,281.3 152.5,286.8 153,285 153.5,280.9 154,274.9 154.5,267.3 155,263.2 155.5,263.1 156,270.8 156.5,276.8 157,280.7 157.5,281.2 158,281.5 158.5,282.9 159,285.6 159.5,284.9 160,281.2 160.5,275.4 161,271.9 161.5,271.3 162,272.7 162.5,276.4 163,276.8 163.5,277.3 164,279.4 164.5,288.2 165,292.3 165.5,290.3 166,280.9 166.5,278.7 167,282 167.5,289.8 168,291.9 168.5,291.2 169,288.7 169.5,282.7 170,276.3 170.5,270.5 171,269.2 171.5,267.9 172,266.6 172.5,272.2 173,275.6 173.5,275.8 174,267.8 174.5,263.2 175,260.3 175.5,258.5 176,256.9 176.5,257.1 177,259.4 177.5,267.5 178,277.2 178.5,287 179,286.7 179.5,281.7 180,275.4 180.5,272.5 181,272.6 181.5,273.5 182,274.1 182.5,268.1 183,262.5 183.5,258.3 184,262.1 184.5,265.2 185,267.6 185.5,267.4 186,267.6 186.5,269 187,272.8 187.5,276.1 188,277.5 188.5,276 189,278.3 189.5,281.2 190,284.1 190.5,280.1 191,276.3 191.5,273.6 192,274.8 192.5,275.5 193,274.7 193.5,271.2 194,270.7 194.5,272 195,275.3 195.5,272.4 196,268.7 196.5,265 197,267.9 197.5,274.1 198,280.5 198.5,282.3 199,280.8 199.5,277.4 200,271.7 200.5,265.4 201,265.4 201.5,272.4 202,276.7 202.5,276 203,273.6 203.5,279.7 204,285.9 204.5,289.2 205,285.5 205.5,283 206,282.6 206.5,285 207,287.4 207.5,287.4 208,284.9 208.5,279.9 209,278.3 209.5,279.5 210,283.3 210.5,285 211,284.9 211.5,282.6 212,279.3 212.5,278.1 213,279.9 213.5,281.4 214,280.5 214.5,277.9 215,277.5 215.5,278.2 216,279.3 216.5,280.2 217,279.3 217.5,278 218,276.9 218.5,276.2 219,274.8 219.5,272.8 220,272.8 220.5,273.7 221,275.7 221.5,279.7 222,283.7 222.5,287.3 223,290 223.5,296.5 224,301.1 224.5,301.9 225,293.6 225.5,284.8 226,276.3 226.5,270.2 227,267.3 227.5,267 228,270.2 228.5,273.8 229,275.8 229.5,273.9 230,270.6 230.5,269.4 231,271 231.5,273.8 232,277.1 232.5,281 233,286 233.5,289.9 234,291.9 234.5,290 235,285.1 235.5,281.3 236,281 236.5,281.8 237,281.4 237.5,279.5 238,277.5 238.5,272.2 239,265.3 239.5,260.8 240,264.4 240.5,271.8 241,281 241.5,280.4 242,274.4 242.5,263.3 243,263.1 243.5,262.4 244,257.9 244.5,246.8 245,240.3 245.5,239.4 246,239.1 246.5,239.2 247,243.9 247.5,255 248,261.2 248.5,260.6 249,255.1 249.5,255.4 250,252.5 250.5,244.1 251,231.7 251.5,225.6 252,225.3 252.5,224.8 253,225.6 253.5,233.6 254,245.9 254.5,256.2 255,263 255.5,267.1 256,268.4 256.5,271.8 257,276.8 257.5,282 258,280.9 258.5,277.9 259,276.7 259.5,283.1 260,290.3 260.5,296.6 261,290.6 261.5,279.6 262,265.2 262.5,260.6 263,265.2 263.5,273.9 264,278.1 264.5,275.4 265,272.3 265.5,272.7 266,275.9 266.5,278.1 267,278.8 267.5,276.6 268,273.2 268.5,268.7 269,263.5 269.5,259.9 270,258.3 270.5,260.6 271,264.5 271.5,267.7 272,268.9 272.5,270.9 273,272 273.5,271.7 274,266.2 274.5,263.3 275,263.1 275.5,267.5 276,271.2 276.5,273.3 277,271.5 277.5,271.4 278,273.7 278.5,279.1 279,283.4 279.5,283.3 280,278.8 280.5,268.4 281,264.1 281.5,264.7 282,271 282.5,275.9 283,281 283.5,287.7 284,294.9 284.5,298.8 285,298.6 285.5,291.9 286,287.6 286.5,285.3 287,284.3 287.5,279.9 288,274.6 288.5,272.2 289,277 289.5,283.5 290,289.6 290.5,287.2 291,284.7 291.5,283.5 292,290.9 292.5,292.5 293,288.3 293.5,274.4 294,269.7 294.5,269.7 295,272.8 295.5,268.5 296,264.7 296.5,263.9 297,268.4 297.5,271.4 298,272.4 298.5,268.9 299,266.9 299.5,267.1 300,272.8 300.5,276.3 301,279.8 301.5,284.7 302,291.7 302.5,293.8 303,289.5 303.5,284.2 304,281.8 304.5,281.5 305,280.3 305.5,278.9 306,277.9 306.5,277.9 307,278.9 307.5,279.7 308,279.4 308.5,279.5 309,279.4 309.5,279.1 310,280.5 310.5,283.8 311,287.1 311.5,284 312,282 312.5,282.4 313,287.8 313.5,285.3 314,280.3 314.5,273.5 315,277.5 315.5,285.5 316,296.4 316.5,300 317,294.9 317.5,285.1 318,277.2 318.5,271.3 319,266.6 319.5,263.4 320,268 320.5,273.7 321,279.6 321.5,281.4 322,281.6 322.5,280 323,276.4 323.5,273 324,270.8 324.5,272.8 325,277.8 325.5,280.5 326,277.7 326.5,273.8 327,272.9 327.5,275.1 328,270.5 328.5,265.2 329,260.8 329.5,264.1 330,266.1 330.5,266.6 331,264.7 331.5,266.8 332,270.3 332.5,274.7 333,273.4 333.5,270.3 334,265.6 334.5,262.6 335,262.5 335.5,265 336,271.7 336.5,276.7 337,279.4 337.5,278.3 338,277.4 338.5,276.6 339,275.7 339.5,271.9 340,271.4 340.5,274.7 341,286.9 341.5,297.4 342,302.8 342.5,294.6 343,281.6 343.5,272.2 344,271.2 344.5,274.7 345,276.9 345.5,277.5 346,280.5 346.5,287.3 347,295.8 347.5,300.8 348,298.4 348.5,291.8 349,281.8 349.5,274.9 350,271.7 350.5,272.8 351,278.8 351.5,282.7 352,284.1 352.5,279.7 353,277.8 353.5,277.8 354,279.2 354.5,280 355,281.2 355.5,283.8 356,285.7 356.5,287.4 357,289 357.5,288.3 358,285.3 358.5,280.7 359,276.2 359.5,276 360,278.3 360.5,281.6 361,278.6 361.5,275.4 362,274.3 362.5,278.5 363,282.4 363.5,285.6 364,288.7 364.5,288.5 365,285.4 365.5,278.4 366,274.6 366.5,272.2 367,270.2 367.5,270.2 368,272.6 368.5,277.8 369,280 369.5,279.4 370,276.2 370.5,272.2 371,271.4 371.5,272.3 372,273 372.5,272.6 373,271.4 373.5,269 374,267.8 374.5,268.9 375,272.8 375.5,269.2 376,267.7 376.5,268.6 377,275.3 377.5,276.1 378,273.7 378.5,270.4 379,272.4 379.5,276.3 380,281.1 380.5,282.4 381,283.2 381.5,283.7 382,279.4 382.5,274 383,270.2 383.5,278.1 384,288.5 384.5,296.8 385,297 385.5,290.2 386,282.5 386.5,275.8 387,280.2 387.5,283.5 388,284.5 388.5,276.1 389,271.6 389.5,270.6 390,274.8 390.5,275.8 391,274.4 391.5,270.4 392,275.4 392.5,283.5 393,293.7 393.5,293.5 394,290.8 394.5,285.9 395,280 395.5,276.6 396,276 396.5,280.5 397,278.6 397.5,273.4 398,265.2 398.5,268.9 399,274.5 399.5,280.8 400,282.6 400.5,283.6 401,283 401.5,276.8 402,273.3 402.5,272.1 403,274.5 403.5,274.2 404,273.9 404.5,274.5 405,276.5 405.5,278.3 406,279.7 406.5,279.7 407,273.5 407.5,261.8 408,250.1 408.5,246 409,245.6 409.5,246.9 410,251.7 410.5,262.7 411,274.5 411.5,277.8 412,276.8 412.5,274.5 413,277.6 413.5,283.2 414,289.7 414.5,294 415,296 415.5,288.6 416,277.9 416.5,268.3 417,262.6 417.5,261.1 418,261.2 418.5,258.1 419,251.4 419.5,245.6 420,244.5 420.5,245.1 421,245.8 421.5,251.1 422,263.7 422.5,279.5 423,282.9 423.5,279.1 424,270.7 424.5,267.2 425,266.4 425.5,269.1 426,279.5 426.5,289.4 427,294.4 427.5,289.2 428,285.7 428.5,284.5 429,286.1 429.5,286.5 430,287.7 430.5,288.9 431,285.5 431.5,279.1 432,273.5 432.5,274.6 433,280 433.5,283.4 434,281.7 434.5,276.4 435,273.5 435.5,273.6 436,279.1 436.5,284.4 437,288.9 437.5,290.1 438,292.7 438.5,294.7 439,293.4 439.5,286.1 440,280.8 440.5,280.1 441,284.4 441.5,285.8 442,283.8 442.5,274 443,266.2 443.5,261.4 444,264.5 444.5,270.4 445,277 445.5,282.9 446,282.1 446.5,278.3 447,271.9 447.5,269.2 448,271.3 448.5,277.3 449,282.9 449.5,284 450,281.9 450.5,277.1 451,271.2 451.5,267.2 452,267.1 452.5,270.3 453,272.1 453.5,271.9 454,272.1 454.5,275.5 455,281.2 455.5,288.3 456,289 456.5,284.7 457,274.1 457.5,268.7 458,266.9 458.5,269.1 459,267.8 459.5,267.1 460,267.3 460.5,270.7 461,272.3 461.5,273.5 462,277 462.5,281.4 463,284.4 463.5,283.9 464,280.8 464.5,277.5 465,274.5 465.5,274.4 466,277.1 466.5,281.7 467,283.2 467.5,277.7 468,269.4 468.5,262.8 469,263.6 469.5,266.8 470,270.6 470.5,275.2 471,280.2 471.5,285.3 472,280.4 472.5,273.3 473,266.7 473.5,269.5 474,273 474.5,275 475,272.4 475.5,270.8 476,271.3 476.5,274.5 477,280.3 477.5,282.6 478,281.1 478.5,275.2 479,271.6 479.5,269.7 480,269.9 480.5,271.9 481,273.8 481.5,274.5 482,271.4 482.5,270.4 483,272.6 483.5,280 484,283.1 484.5,282.4 485,278.3 485.5,274.4 486,271.6 486.5,272.2 487,276.1 487.5,279.8 488,281.8 488.5,285.7 489,287.8 489.5,287.8 490,283.8 490.5,281.6 491,280.9 491.5,281.6 492,281.7 492.5,281.2 493,280 493.5,282.1 494,286.3 494.5,292.3 495,291.8 495.5,287.4 496,279.6 496.5,271.6 497,263.2 497.5,255.4 498,252 498.5,259 499,268.7 499.5,276.8 500,274.5 500.5,271 501,267.6 501.5,271.6 502,276 502.5,279.8 503,278 503.5,277.8 504,279.7 504.5,285.4 505,283.9 505.5,280.4 506,276.7 506.5,280.8 507,282.2 507.5,279.9 508,272.7 508.5,266.9 509,263.5 509.5,266.8 510,270.4 510.5,272.6 511,270.5 511.5,268.2 512,264.2 512.5,257.5 513,257 513.5,260.4 514,266.9 514.5,268.4 515,271 515.5,274.1 516,276 516.5,272.7 517,268.5 517.5,266 518,264.9 518.5,263.2 519,260.4 519.5,259.2 520,260.7 520.5,264.5 521,270.1 521.5,272.6 522,273.3 522.5,272.6 523,274 523.5,274.2 524,271.2 524.5,265.2 525,261.1 525.5,259.6 526,262.4 526.5,267.9 527,274.7 527.5,278.4 528,279.4 528.5,279.6 529,280.1 529.5,279.4 530,278.7 530.5,278.4 531,274.5 531.5,268.9 532,262.8 532.5,266 533,272.7 533.5,279.5 534,278.9 534.5,274.2 535,270.4 535.5,271 536,273 536.5,274.7 537,275.7 537.5,280.7 538,280.6 538.5,276.7 539,274.3 539.5,279.8 540,285.9 540.5,282 541,274.5 541.5,270.6 542,274.4 542.5,279.9 543,285 543.5,289.6 544,293.5 544.5,292.7 545,288.4 545.5,281.8 546,278.8 546.5,277.5 547,276.7 547.5,275.2 548,275.2 548.5,277.9 549,282.5 549.5,283.9 550,282.2 550.5,279.2 551,278.9 551.5,280.9 552,286.1 552.5,287.7 553,284.8 553.5,274.7 554,264.3 554.5,256.8 555,252.9 555.5,253.7 556,253.9 556.5,253 557,250.5 557.5,239.4 558,215.3 558.5,192.1 559,184.7 559.5,184.4 560,186 560.5,200.3 561,227.2 561.5,248.9 562,256.4 562.5,257.9 563,258.6 563.5,262.4 564,263.2 564.5,263.4 565,265.9 565.5,278.4 566,291 566.5,299.2 567,294.2 567.5,282.9 568,267.9 568.5,259.9 569,247 569.5,227.9 570,207.5 570.5,197.1 571,194.2 571.5,193.5 572,196.5 572.5,208.6 573,229.5 573.5,247.4 574,259.8 574.5,268.1 575,272.9 575.5,273.2 576,270.4 576.5,265 577,263.7 577.5,265.3 578,269.9 578.5,270 579,269.8 579.5,270 580,269.8 580.5,268.5 581,266.8 581.5,266.7 582,266.3 582.5,267.4 583,272.6 583.5,275.8 584,277 584.5,275.8 585,281.2 585.5,284.9 586,286 586.5,280.6 587,277.1 587.5,276.1 588,281 588.5,287.5 589,291.3 589.5,288.2 590,279.2 590.5,273.4 591,272.7 591.5,276.8 592,277.5 592.5,275.1 593,270.6 593.5,269.5 594,270.1 594.5,271.3 595,270 595.5,268.4 596,267.5 596.5,264.9 597,264.8 597.5,267.8 598,276.3 598.5,279.5 599,278.4 599.5,272.4 600,271.2 600.5,273.8 601,281.1 601.5,281.3 602,277.8 602.5,271 603,272.2 603.5,276.6 604,283 604.5,282.8 605,280.7 605.5,278.4 606,279.1 606.5,276.3 607,272.3 607.5,268.3 608,275.6 608.5,283 609,288.6 609.5,277.1 610,266.8 610.5,258.6 611,258.7 611.5,264.1 612,271.5 612.5,277.3 613,273.8 613.5,268.7 614,265.1 614.5,267 615,270 615.5,273.9 616,276.8 616.5,275.5 617,271.3 617.5,265.9 618,266.5 618.5,270.8 619,278.6 619.5,281.5 620,281 620.5,276.4 621,274.1 621.5,272.2 622,270.6 622.5,267 623,266.4 623.5,267.8 624,271.3 624.5,272.9 625,273.1 625.5,271.8 626,269.4 626.5,267.9 627,267.9 627.5,272.8 628,276.1 628.5,277.2 629,271.5 629.5,270 630,271.6 630.5,277.3 631,278.1 631.5,279.5 632,283.9 632.5,289 633,287.9 633.5,280 634,274.4 634.5,275.5 635,280.1 635.5,280 636,277.7 636.5,277.1 637,282.6 637.5,285.9 638,285.4 638.5,280.1 639,274.4 639.5,272 640,272.9 640.5,277.8 641,280.1 641.5,280.6 642,279.5 642.5,281.1 643,284 643.5,288 644,286.8 644.5,283.3 645,277.7 645.5,270.8 646,263.9 646.5,258.6 647,265.1 647.5,273.8 648,281.1 648.5,280 649,277.1 649.5,274.5 650,273.4 650.5,273.1 651,273.5 651.5,274.7 652,275.6 652.5,272.4 653,267.1 653.5,264.2 654,269.5 654.5,276.4 655,279.7 655.5,274.8 656,269.3 656.5,265.3 657,265 657.5,265.9 658,268.2 658.5,273.5 659,276.4 659.5,277 660,273.2 660.5,268.9 661,264.4 661.5,260 662,264.7 662.5,272.4 663,282.2 663.5,281.2 664,283 664.5,286.9 665,291 665.5,287.6 666,281.5 666.5,278.7 667,281.5 667.5,285.6 668,289.6 668.5,289 669,287.8 669.5,286.4 670,287.2 670.5,285 671,281 671.5,277.3 672,276 672.5,275.4 673,274.7 673.5,277.2 674,281.2 674.5,286.7 675,286.1 675.5,281.8 676,274.4 676.5,269.8 677,270.3 677.5,273.7 678,277 678.5,280.1 679,284 679.5,289.7 680,289.9 680.5,287.1 681,281.7 681.5,279.6 682,278.9 682.5,279.7 683,282.3 683.5,285 684,286.6 684.5,284.1 685,283.4 685.5,285.5 686,292 686.5,292.5 687,287.9 687.5,278.4 688,269.8 688.5,264.9 689,262.5 689.5,260.7 690,262.5 690.5,267 691,274.9 691.5,280.4 692,282.9 692.5,281.7 693,274.7 693.5,269.4 694,266.6 694.5,267.9 695,268.6 695.5,269 696,270.2 696.5,271.5 697,271.8 697.5,269.7 698,269.4 698.5,272.7 699,280.2 699.5,283.5 700,281 700.5,274 701,268.3 701.5,268.1 702,270.3 702.5,272 703,270.5 703.5,271 704,276.5 704.5,285 705,290.9 705.5,293.8 706,292.4 706.5,288.5 707,282.9 707.5,277.6 708,270.7 708.5,264.4 709,260.9 709.5,266.4 710,272.5 710.5,276.9 711,282.8 711.5,289.7 712,296.2 712.5,292.4 713,286.4 713.5,280.3 714,278.3 714.5,280.8 715,283.7 715.5,284.1 716,278.8 716.5,275.8 717,276.5 717.5,281.6 718,284 718.5,283.7 719,278.8 719.5,272.1 720,266.6 720.5,267.6 721,272.3 721.5,275 722,272.6 722.5,271.3 723,270.6 723.5,270.4 724,271.3 724.5,273.7 725,276.7 725.5,277.8 726,280.9 726.5,284.2 727,286.2 727.5,281.5 728,273.6 728.5,262.9 729,259.1 729.5,259.7 730,264.5 730.5,270 731,272.1 731.5,270.7 732,263.3 732.5,259.6 733,259.6 733.5,265 734,271.1 734.5,275.9 735,278.7 735.5,274.7 736,271.9 736.5,270.7 737,275.5 737.5,274.8 738,270.6 738.5,262.8 739,259.6 739.5,258.6 740,259.4 740.5,263.2 741,265.7 741.5,266.4 742,263.7 742.5,263.8 743,266.3 743.5,271.4 744,277.8 744.5,282.8 745,282.4 745.5,276.5 746,273.4 746.5,276.1 747,278.4 747.5,278.2 748,276.4 748.5,282 749,286.9 749.5,289.8 750,286.2 750.5,281.7 751,277.5 751.5,274.4 752,271.6 752.5,270 753,270 753.5,272.9 754,275 754.5,276.6 755,279 755.5,280.6 756,280.7 756.5,277.3 757,272.2 757.5,267.3 758,263.5 758.5,268.2 759,273.9 759.5,279.4 760,278.4 760.5,276 761,273.4 761.5,274.5 762,280.9 762.5,287.7 763,290.5 763.5,287.4 764,283.6 764.5,280.6 765,283.1 765.5,288.4 766,295.6 766.5,295.5 767,287.9 767.5,276.4 768,265.8 768.5,264.2 769,267.2 769.5,273.7 770,277.4 770.5,281.6 771,287 771.5,286.5 772,280.9 772.5,272.2 773,270.8 773.5,274.5 774,278.9 774.5,278.4 775,274.7 775.5,272.2 776,273.5 776.5,276.3 777,277.4 777.5,276.8 778,277.7 778.5,279.9 779,282.4 779.5,280.9 780,277.9 780.5,276.5 781,280.7 781.5,281.1 782,276.5 782.5,265.7 783,262.8 783.5,264.6 784,270.4 784.5,274.1 785,278 785.5,281.9 786,285.5 786.5,283.8 787,280.3 787.5,276.8 788,276.4 788.5,276.9 789,277.8 789.5,279.6 790,281.7 790.5,284.1 791,286.3 791.5,285.8 792,284.7 792.5,285.4 793,287.5 793.5,287.7 794,284.1 794.5,281.3 795,279.1 795.5,277.4 796,275.4 796.5,274.7 797,274.2 797.5,270.8 798,270 798.5,270.6 799,272.4 799.5,272.6 800,274.1 800.5,277.7 801,276.6 801.5,274 802,270.7 802.5,273.8 803,280.1 803.5,287.1 804,289.8 804.5,287 805,282.4 805.5,277.5 806,275 806.5,274.2 807,274.9 807.5,277.3 808,280.7 808.5,284.6 809,286.5 809.5,283.7 810,278.1 810.5,270.5 811,268.2 811.5,268.4 812,270.6 812.5,272.5 813,274.6 813.5,277.2 814,277.3 814.5,277.8 815,278.5 815.5,279.5 816,281.5 816.5,283.9 817,285.8 817.5,280.8 818,275 818.5,269.9 819,271.7 819.5,272.8 820,272.8 820.5,271.7 821,271.7 821.5,271.8 822,270.9 822.5,272.7 823,276.2 823.5,281.1 824,279.8 824.5,277.8 825,275.8 825.5,277.2 826,278.4 826.5,279.3 827,279.5 827.5,278.5 828,277.7 828.5,279.3 829,278.8 829.5,275.8 830,269.3 830.5,268.8 831,272.2 831.5,278.9 832,279.2 832.5,280.3 833,282.3 833.5,286.5 834,280.3 834.5,271.8 835,267.8 835.5,271.9 836,274.1 836.5,271 837,269.4 837.5,272.7 838,280.5 838.5,288.8 839,290.1 839.5,287 840,282.1 840.5,281.1 841,281.4 841.5,281.6 842,286.4 842.5,291.8 843,297.3 843.5,292.3 844,287.2 844.5,282.7 845,282 845.5,281.5 846,280.6 846.5,278.7 847,273.8 847.5,269.6 848,268.2 848.5,270.6 849,271.6 849.5,270.7 850,275.1 850.5,282.1 851,289 851.5,287.8 852,284.6 852.5,281.8 853,281.8 853.5,278.2 854,275.2 854.5,274.3 855,279.6 855.5,282.1 856,281.6 856.5,277.2 857,274 857.5,271.8 858,271.5 858.5,273.7 859,276.3 859.5,277.7 860,278.1 860.5,278.5 861,279.2 861.5,275.7 862,275 862.5,277.2 863,284.1 863.5,286.7 864,287.1 864.5,287.1 865,285.4 865.5,280.3 866,270 866.5,268.4 867,271.6 867.5,278.3 868,273 868.5,264.1 869,253.4 869.5,247.2 870,249.8 870.5,267.8 871,285.9 871.5,289.1 872,283.9 872.5,273.4 873,274.6 873.5,277.8 874,281.8 874.5,278.3 875,276.8 875.5,275.5 876,272.2 876.5,261.4 877,253 877.5,257.1 878,263.7 878.5,268.9 879,275.7 879.5,273.8 880,264.5 880.5,251.3 881,247.2 881.5,253.6 882,262.4 882.5,261.4 883,264.5 883.5,269.5 884,276.2 884.5,275.4 885,275.8 885.5,278.2 886,279.9 886.5,283.4 887,287.5 887.5,288.3 888,281.5 888.5,273.6 889,270.5 889.5,272.1 890,273.8 890.5,274.1 891,275 891.5,277 892,279.9 892.5,280 893,277.2 893.5,273.4 894,272.6 894.5,274.8 895,277.3 895.5,278.6 896,280.6 896.5,282.6 897,284.7 897.5,283.5 898,280.3 898.5,275.6 899,271.8 899.5,273.3 900,276.6 900.5,278.3 901,274.6 901.5,270 902,266.1 902.5,266.5 903,265.8 903.5,263.8 904,260.1 904.5,261.3 905,264.6 905.5,262.6 906,259.7 906.5,259.2 907,266 907.5,268 908,269.5 908.5,271.8 909,279.2 909.5,281.6 910,279.2 910.5,276.3 911,278 911.5,280.7 912,277.8 912.5,273.1 913,270.2 913.5,271.8 914,274.2 914.5,276.9 915,279.8 915.5,281.6 916,281.9 916.5,280.8 917,277.3 917.5,273.6 918,269.8 918.5,265.9 919,261.9 919.5,260.1 920,262.5 920.5,262.3 921,260.7 921.5,258 922,264.1 922.5,269 923,271.9 923.5,269.8 924,266.9 924.5,261.6 925,252.7 925.5,243.3 926,232.3 926.5,217.4 927,198.8 927.5,179.3 928,164.4 928.5,155.8 929,152.6 929.5,151 930,148.4 930.5,148.9 931,156.2 931.5,174.1 932,196.6 932.5,217.4 933,233.8 933.5,245.6 934,254.8 934.5,262.3 935,264.4 935.5,264.4 936,264.3 936.5,268 937,270.8 937.5,272 938,270.6 938.5,265.7 939,262 939.5,260.5 940,268.3 940.5,271 941,269.6 941.5,264 942,265.1 942.5,269.8 943,276.5 943.5,279.2 944,277.9 944.5,271.6 945,266.9 945.5,265.9 946,268.5 946.5,271.5 947,272.9 947.5,272.9 948,271.2 948.5,269.5 949,268 949.5,266.8 950,267.3 950.5,267.5 951,265.9 951.5,259.9 952,247.7 952.5,237.3 953,228 953.5,223.1 954,220.9 954.5,220 955,220.3 955.5,224.2 956,234.2 956.5,247 957,259.9 957.5,268.5 958,273.9 958.5,278.9 959,285.1 959.5,293.2 960,294.9 960.5,296.4 961,294.9 961.5,289.6 962,281.8 962.5,277.9 963,276.6 963.5,272.7 964,265.8 964.5,256.4 965,247.8 965.5,238.1 966,230.1 966.5,225.8 967,224.2 967.5,223.1 968,222.2 968.5,223.8 969,230.4 969.5,243.2 970,258.2 970.5,270 971,271.3 971.5,269.4 972,266.1 972.5,263.3 973,263.7 973.5,265 974,266.2 974.5,262.7 975,263.8 975.5,270.4 976,277.4 976.5,276.7 977,271.2 977.5,268.2 978,271.5 978.5,277.2 979,282.8 979.5,281.6 980,278.3 980.5,274.1 981,272.5 981.5,269.5 982,265.2 982.5,260.1 983,257.1 983.5,256.4 984,260.3 984.5,263.3 985,264.6 985.5,262.7 986,263.4 986.5,265.4 987,268.5 987.5,274.9 988,283.2 988.5,292 989,293.1 989.5,288.6 990,282.4 990.5,279.3 991,276.2 991.5,274.2 992,274.2 992.5,283 993,289 993.5,290.7 994,281.8 994.5,276.1 995,273.7 995.5,277.1 996,281.7 996.5,286 997,288.2 997.5,286.1 998,283.2 998.5,280.2 999,275.3 999.5,272.1 1000,271 1000.5,274.5 1001,275.5 1001.5,274.8 1002,272.5 1002.5,269.1 1003,265.7 1003.5,262.8 1004,264.2 1004.5,266.1 1005,267.8 1005.5,270 1006,273.5 1006.5,277.4 1007,277.5 1007.5,274.3 1008,269.6 1008.5,264.5 1009,259.8 1009.5,258 1010,261.1 1010.5,271.2 1011,280.1 1011.5,286.6 1012,289.2 1012.5,290.7 1013,290.8 1013.5,286.7 1014,278.7 1014.5,271.7 1015,271.3 1015.5,276.3 1016,278.7 1016.5,275.4 1017,268.1 1017.5,262.8 1018,259.9 1018.5,263.3 1019,268.3 1019.5,273.1 1020,274.1 1020.5,272.7 1021,271.9 1021.5,273.5 1022,279 1022.5,282.3 1023,282.3 1023.5,277.6 1024,276.6 1024.5,278.3 1025,277.8 1025.5,275 1026,271.6 1026.5,270.4 1027,271.5 1027.5,273.8 1028,277.1 1028.5,278.6 1029,282 1029.5,287.6 1030,292.1 1030.5,291.3 1031,286.9 1031.5,282.3 1032,282.8 1032.5,284.4 1033,283.5 1033.5,278.9 1034,276.6 1034.5,278.6 1035,278.9 1035.5,277.9 1036,276.1 1036.5,276.7 1037,275.1 1037.5,272.6 1038,271.1 1038.5,270.8 1039,270.9 1039.5,271 1040,276.3 1040.5,280.9 1041,283.9 1041.5,281.9 1042,280.7 1042.5,279.9 1043,277.5 1043.5,276.8 1044,276.8 1044.5,277.2 1045,274.2 1045.5,273.9 1046,279.8 1046.5,289.6 1047,292.4 1047.5,287.1 1048,278.1 1048.5,274.4 1049,275 1049.5,280.4 1050,283.5 1050.5,283.5 1051,277.8 1051.5,277.6 1052,282.1 1052.5,292.2 1053,294.2 1053.5,294.6 1054,294 1054.5,296.5 1055,292.4 1055.5,284.8 1056,278 1056.5,278.4 1057,280.6 1057.5,281.8 1058,281 1058.5,278.6 1059,274.4 1059.5,268.8 1060,266 1060.5,265.6 1061,267.6 1061.5,268.1 1062,268.6 1062.5,271.4 1063,272.8 1063.5,272.7 1064,270.5 1064.5,273.4 1065,273.2 1065.5,268.9 1066,260.2 1066.5,260.3 1067,266.6 1067.5,275.4 1068,278.3 1068.5,278.9 1069,279.2 1069.5,281.9 1070,284.3 1070.5,285.6 1071,284.9 1071.5,284.3 1072,283.6 1072.5,278.7 1073,273.3 1073.5,267.7 1074,262.2 1074.5,261.9 1075,267.2 1075.5,280.8 1076,287.9 1076.5,290.1 1077,287 1077.5,281.2 1078,275.9 1078.5,271.9 1079,274.7 1079.5,279.2 1080,283.5 1080.5,285.4 1081,284.6 1081.5,282.6 1082,279.8 1082.5,280.5 1083,282.1 1083.5,284.1 1084,279.5 1084.5,274.3 1085,270.1 1085.5,273.4 1086,276.6 1086.5,277.2 1087,271.4 1087.5,267.6 1088,267.9 1088.5,273.8 1089,282.6 1089.5,287.5 1090,288.4 1090.5,284.5 1091,284.6 1091.5,286.2 1092,285 1092.5,277.5 1093,269.6 1093.5,265 1094,264.3 1094.5,263.5 1095,262.1 1095.5,267.3 1096,272.6 1096.5,276.8 1097,273.3 1097.5,271.4 1098,270.1 1098.5,268.4 1099,265.5 1099.5,263.5 1100,263.5 1100.5,264.4 1101,267.6 1101.5,273.1 1102,279.4 1102.5,282.7 1103,284 1103.5,285.7 1104,287.7 1104.5,288.2 1105,284.4 1105.5,281.8 1106,282.7 1106.5,288.7 1107,297.2 1107.5,299.8 1108,296.2 1108.5,286.7 1109,280.5 1109.5,276.6 1110,274.5 1110.5,275.4 1111,277.9 1111.5,281.9 1112,286 1112.5,288 1113,287.5 1113.5,281.8 1114,275.2 1114.5,268.2 1115,262.9 1115.5,265.5 1116,272.6 1116.5,282.1 1117,283.4 1117.5,282.3 1118,280.8 1118.5,280.5 1119,277 1119.5,270.2 1120,267.4 1120.5,268.4 1121,270.7 1121.5,267.4 1122,267 1122.5,268.6 1123,272.7 1123.5,267.2 1124,261.6 1124.5,258.6 1125,261.6 1125.5,263.2 1126,263.3 1126.5,264.6 1127,265.2 1127.5,266.2 1128,269.8 1128.5,274.9 1129,278.4 1129.5,277.6 1130,277.5 1130.5,279.3 1131,283.3 1131.5,286.2 1132,288 1132.5,288.3 1133,284 1133.5,280.8 1134,279.7 1134.5,283.8 1135,284.1 1135.5,283.7 1136,283.6 1136.5,283.6 1137,281.6 1137.5,277.6 1138,275.5 1138.5,273.1 1139,271.1 1139.5,271.7 1140,273.3 1140.5,274.5 1141,273.7 1141.5,270.9 1142,269 1142.5,269.1 1143,273.7 1143.5,274.4 1144,271.3 1144.5,267.3 1145,266.6 1145.5,267.4 1146,266.7 1146.5,270.4 1147,276.4 1147.5,284.8 1148,289 1148.5,291.3 1149,292 1149.5,291.3 1150,287.4 1150.5,280.9 1151,273.9 1151.5,272.8 1152,275.3 1152.5,280.4 1153,283.3 1153.5,285.1 1154,286.2 1154.5,288.3 1155,286.2 1155.5,279.5 1156,268.1 1156.5,265.5 1157,269 1157.5,274.7 1158,271.5 1158.5,266.1 1159,263.5 1159.5,268.8 1160,275 1160.5,280.2 1161,285.1 1161.5,286.2 1162,282.5 1162.5,264.9 1163,254.4 1163.5,252.5 1164,269.3 1164.5,278.5 1165,279.7 1165.5,268.6 1166,263.8 1166.5,262.3 1167,263.7 1167.5,264.7 1168,267.9 1168.5,272.2 1169,272.5 1169.5,271.8 1170,271.5 1170.5,273.8 1171,274.8 1171.5,275.2 1172,275.2 1172.5,274.6 1173,276.5 1173.5,281.3 1174,287.1 1174.5,288.8 1175,288 1175.5,288.9 1176,291.2 1176.5,292.2 1177,288.9 1177.5,282.5 1178,278.2 1178.5,277.9 1179,277.1 1179.5,273.4 1180,267.8 1180.5,268.6 1181,275.2 1181.5,283.9 1182,288.4 1182.5,284.7 1183,279.8 1183.5,277.9 1184,277.7 1184.5,277 1185,275.3 1185.5,277.9 1186,278.1 1186.5,276.2 1187,271.2 1187.5,271 1188,272.9 1188.5,274.4 1189,269.9 1189.5,264.2 1190,259.2 1190.5,260.5 1191,264.7 1191.5,271.2 1192,272.6 1192.5,271.3 1193,269 1193.5,270.7 1194,273.6 1194.5,276.7 1195,279.1 1195.5,281.4 1196,283.7 1196.5,285.8 1197,284.4 1197.5,281.8 1198,279.1 1198.5,282.5 1199,285.9 1199.5,287 1200,279 1200.5,269.4 1201,264.2 1201.5,269.6 1202,282.2 1202.5,289.2 1203,287.9 1203.5,279.2 1204,275.1 1204.5,274.9 1205,277 1205.5,278 1206,278.8 1206.5,280.8 1207,280.8 1207.5,279.5 1208,276.9 1208.5,279.5 1209,279.7 1209.5,276.5 1210,267.7 1210.5,264.5 1211,266 1211.5,272.1 1212,276.5 1212.5,280 1213,282.4 1213.5,283 1214,281.1 1214.5,276 1215,272.1 1215.5,271.3 1216,273.2 1216.5,272.9 1217,271.7 1217.5,270.7 1218,272.6 1218.5,273.7 1219,273.6 1219.5,271.7 1220,271.8 1220.5,273.2 1221,276.1 1221.5,282.6 1222,286.8 1222.5,287.8 1223,278.2 1223.5,272.5 1224,270.6 1224.5,275.6 1225,276.8 1225.5,276.9 1226,276.9 1226.5,277.6 1227,275.6 1227.5,270.8 1228,266.5 1228.5,264.3 1229,264.6 1229.5,270.4 1230,277.3 1230.5,281.8 1231,279.4 1231.5,275 1232,270.2 1232.5,265.4 1233,262.5 1233.5,262.8 1234,265.7 1234.5,263.7 1235,260 1235.5,258 1236,266.7 1236.5,273.7 1237,277.6 1237.5,276.1 1238,274.8 1238.5,270.6 1239,262.6 1239.5,258.2 1240,257 1240.5,258.3 1241,260.3 1241.5,266 1242,273.5 1242.5,281.2 1243,281 1243.5,277.8 1244,272.4 1244.5,271.5 1245,271.9 1245.5,273.6 1246,277.4 1246.5,279.3 1247,278.7 1247.5,273 1248,269.4 1248.5,268.7 1249,273.4 1249.5,280.8 1250,284.3 1250.5,281.3 1251,273.5 1251.5,272.6 1252,278.4 1252.5,284.3 1253,283.4 1253.5,278.9 1254,275.1 1254.5,275 1255,275.4 1255.5,274 1256,275.3 1256.5,278.2 1257,282.7 1257.5,283.4 1258,284.3 1258.5,284.8 1259,281.2 1259.5,277.3 1260,275.1 1260.5,279.3 1261,283.6 1261.5,286 1262,285 1262.5,281.9 1263,281.9 1263.5,285.2 1264,295 1264.5,298.1 1265,295.2 1265.5,284.8 1266,279.8 1266.5,277.7 1267,278 1267.5,277.7 1268,278.2 1268.5,280.1 1269,281 1269.5,279.7 1270,276.4 1270.5,273.2 1271,272.5 1271.5,274.1 1272,278.7 1272.5,281.7 1273,283.3 1273.5,283 1274,284.9 1274.5,285.7 1275,284.6 1275.5,279.8 1276,275.5 1276.5,271.5 1277,267.6 1277.5,266.1 1278,266.9 1278.5,271 1279,275 1279.5,277.9 1280,278.9 1280.5,275.1 1281,270.2 1281.5,265 1282,268.9 1282.5,275.6 1283,282.5 1283.5,281.2 1284,277.8 1284.5,275.3 1285,277.4 1285.5,277.4 1286,275.6 1286.5,271.7 1287,272.3 1287.5,274.6 1288,277.9 1288.5,276.7 1289,274.1 1289.5,270.8 1290,267.3 1290.5,265.5 1291,266.4 1291.5,271.5 1292,273.7 1292.5,275 1293,275.9 1293.5,280 1294,282.2 1294.5,282.8 1295,284.9 1295.5,288.7 1296,292.6 1296.5,294.9 1297,291.6 1297.5,284.6 1298,273.2 1298.5,268.4 1299,266.7 1299.5,268 1300,267.8 1300.5,270 1301,274.1 1301.5,280.2 1302,281.7 1302.5,279.4 1303,272.2 1303.5,266.5 1304,264.3 1304.5,266.9 1305,274 1305.5,280.1 1306,284.5 1306.5,282.6 1307,276.9 1307.5,270 1308,266.9 1308.5,268.6 1309,271.8 1309.5,275.1 1310,277.7 1310.5,278.2 1311,276.3 1311.5,274.1 1312,273.8 1312.5,274.6 1313,273 1313.5,274 1314,277.8 1314.5,286.1 1315,290.6 1315.5,291.5 1316,287.8 1316.5,285.7 1317,284.5 1317.5,283.7 1318,276.5 1318.5,270.2 1319,266.7 1319.5,273.2 1320,284.4 1320.5,293.9 1321,294.5 1321.5,282.1 1322,270.8 1322.5,264.8 1323,269.3 1323.5,272.6 1324,274.4 1324.5,276.6 1325,277.1 1325.5,276.2 1326,272.9 1326.5,272.1 1327,270.4 1327.5,265.4 1328,262 1328.5,261 1329,262.7 1329.5,265.1 1330,268.9 1330.5,273.2 1331,272.4 1331.5,267.5 1332,261.4 1332.5,257.6 1333,262.9 1333.5,269.3 1334,273.4 1334.5,272 1335,273.1 1335.5,277.5 1336,278.6 1336.5,276.7 1337,273 1337.5,269.4 1338,268.2 1338.5,268.4 1339,269.6 1339.5,273.5 1340,280 1340.5,289.5 1341,288.3 1341.5,281.2 1342,270.1 1342.5,271.4 1343,277 1343.5,282.8 1344,279.1 1344.5,276.6 1345,275 1345.5,274.8 1346,269.7 1346.5,267.8 1347,271.1 1347.5,273.7 1348,272.1 1348.5,268.3 1349,272.3 1349.5,276.1 1350,277.7 1350.5,272.8 1351,268.8 1351.5,267.3 1352,270.1 1352.5,278 1353,283.2 1353.5,284.7 1354,279.7 1354.5,280.7 1355,286 1355.5,293 1356,290.7 1356.5,284.7 1357,278.8 1357.5,277 1358,275.6 1358.5,273.8 1359,276.4 1359.5,280.8 1360,286.6 1360.5,290.9 1361,291.4 1361.5,288.9 1362,282.5 1362.5,278 1363,274.7 1363.5,272.8 1364,276.5 1364.5,282.5 1365,290.5 1365.5,288 1366,285.6 1366.5,283.8 1367,285.9 1367.5,285.9 1368,284.6 1368.5,282.7 1369,280.6 1369.5,278.8 1370,277.6 1370.5,278.4 1371,278.6 1371.5,277.7 1372,272.7 1372.5,268 1373,264.2 1373.5,264 1374,268.5 1374.5,274.2 1375,278.6 1375.5,278.5 1376,278.9 1376.5,281.3 1377,282.7 1377.5,281.6 1378,278.3 1378.5,277.5 1379,278.6 1379.5,280.6 1380,282 1380.5,281.9 1381,281.4 1381.5,280.9 1382,278.3 1382.5,273.7 1383,266.8 1383.5,265.5 1384,267.6 1384.5,272.3 1385,276.6 1385.5,277.4 1386,275.7 1386.5,271.9 1387,268.2 1387.5,267.2 1388,271.1 1388.5,276.6 1389,279 1389.5,278.2 1390,277.6 1390.5,275.2 1391,272.6 1391.5,275.3 1392,279.2 1392.5,281 1393,276.5 1393.5,276.9 1394,280 1394.5,285.9 1395,284.8 1395.5,283 1396,281.7 1396.5,286.3 1397,285.2 1397.5,280.2 1398,272.6 1398.5,273.3 1399,275.7 1399.5,276.4 1400,272.9 1400.5,269.5 1401,267.2 1401.5,274.3 1402,283.8 1402.5,293.1 1403,287.6 1403.5,280.5 1404,274.3 1404.5,273.5 1405,270.3 1405.5,269.5 1406,274.1 1406.5,280.4 1407,279.8 1407.5,271.8 1408,267.2 1408.5,269.1 1409,274.8 1409.5,278.5 1410,281.7 1410.5,284.1 1411,284.4 1411.5,280.3 1412,276.1 1412.5,272.9 1413,272.9 1413.5,270.8 1414,266.8 1414.5,264.9 1415,272.5 1415.5,284.1 1416,290.1 1416.5,285 1417,279 1417.5,278.8 1418,279.6 1418.5,277.8 1419,272.5 1419.5,278 1420,283.1 1420.5,286.3 1421,278.8 1421.5,270.1 1422,263.1 1422.5,263.6 1423,274.5 1423.5,285.1 1424,290.6 1424.5,286.5 1425,282.8 1425.5,280.4 1426,280.5 1426.5,283 1427,286.9 1427.5,289.7 1428,286.3 1428.5,279.7 1429,271.5 1429.5,270.4 1430,272 1430.5,275.8 1431,274.1 1431.5,273.1 1432,273.3 1432.5,277.4 1433,279.2 1433.5,277.9 1434,269.2 1434.5,261.3 1435,258.7 1435.5,267 1436,276.3 1436.5,281.5 1437,281.4 1437.5,277.6 1438,276.3 1438.5,278.1 1439,287 1439.5,288.7 1440,284.9 1440.5,274.3 1441,270.9 1441.5,270.3 1442,271.4 1442.5,273.8 1443,277 1443.5,281 1444,281.4 1444.5,283.7 1445,286.6 1445.5,286.7 1446,283.2 1446.5,280.8 1447,282.7 1447.5,282.7 1448,282.2 1448.5,281.4 1449,283.9 1449.5,281.7 1450,275.1 1450.5,270.2 1451,272.2 1451.5,277.2 1452,278.9 1452.5,282.3 1453,288.5 1453.5,299.7" fill="none" stroke="#000" stroke-width="1.05" stroke-linejoin="miter"/>
<polyline points="15,403.8 15.5,408 16,406.4 16.5,400.4 17,396.3 17.5,393.9 18,392.8 18.5,393.4 19,397.6 19.5,399.3 20,394.7 20.5,389 21,388.4 21.5,393.4 22,397.1 22.5,395.8 23,391.1 23.5,387.2 24,388.3 24.5,392.3 25,398.4 25.5,399.4 26,397.6 26.5,393.1 27,395.1 27.5,399.4 28,405.1 28.5,406.3 29,406.7 29.5,406.7 30,407.2 30.5,404.4 31,402.3 31.5,403.7 32,407.3 32.5,406.7 33,400.4 33.5,395.1 34,396.1 34.5,402.1 35,409.4 35.5,409.9 36,407.1 36.5,404.1 37,406.9 37.5,408.6 38,406.1 38.5,401.1 39,400.1 39.5,403.5 40,404.9 40.5,401.3 41,394.9 41.5,391.2 42,395.3 42.5,403.4 43,413.9 43.5,417.3 44,417.8 44.5,416 45,416 45.5,412.8 46,407.2 46.5,406.8 47,411.7 47.5,417 48,413 48.5,407.8 49,404.2 49.5,404.8 50,402.8 50.5,399.9 51,396.2 51.5,390.2 52,385.8 52.5,384.2 53,393.4 53.5,403.5 54,412.3 54.5,415.9 55,414.2 55.5,409.8 56,402.9 56.5,399.7 57,398.7 57.5,399.4 58,397.3 58.5,393.9 59,390.2 59.5,389.5 60,392.9 60.5,398.4 61,404.9 61.5,409.5 62,412.8 62.5,414.8 63,412.7 63.5,410.6 64,409.1 64.5,411.7 65,409.1 65.5,403.2 66,395.2 66.5,398.1 67,405.5 67.5,415 68,415.4 68.5,411.6 69,404 69.5,399.5 70,397.4 70.5,397.2 71,396.2 71.5,398 72,401.1 72.5,403.7 73,401.8 73.5,398.6 74,395.3 74.5,393.6 75,394.9 75.5,399.5 76,403.8 76.5,405.6 77,405.5 77.5,403.8 78,401.7 78.5,399.6 79,398 79.5,395.4 80,392.9 80.5,390.8 81,390.7 81.5,391.5 82,392.7 82.5,391.1 83,390.9 83.5,391.6 84,391.9 84.5,387.3 85,383.3 85.5,384.2 86,391.3 86.5,397.9 87,403 87.5,404.3 88,404.4 88.5,403.8 89,405.1 89.5,407.3 90,409 90.5,408.4 91,404.7 91.5,399.6 92,393.3 92.5,390.2 93,387 93.5,383.6 94,382.6 94.5,384.1 95,387 95.5,387.9 96,390.3 96.5,394.1 97,399.7 97.5,403.8 98,404.6 98.5,400.6 99,394.7 99.5,393.3 100,396.3 100.5,401 101,403.8 101.5,405.6 102,407.7 102.5,410.3 103,411.4 103.5,409 104,400.6 104.5,394.2 105,391.3 105.5,399 106,405.4 106.5,409.3 107,402.5 107.5,397 108,395.2 108.5,402.8 109,407.1 109.5,407.6 110,403.1 110.5,401.7 111,402.4 111.5,405.2 112,405.5 112.5,405.8 113,406.5 113.5,408.7 114,408.6 114.5,407 115,403.7 115.5,403.9 116,404.1 116.5,403.1 117,398 117.5,393.2 118,388.9 118.5,386.2 119,388.3 119.5,393.3 120,398.9 120.5,396.6 121,390.8 121.5,383 122,385.7 122.5,391.8 123,400.4 123.5,403 124,404 124.5,403.9 125,403.2 125.5,404.9 126,407.1 126.5,407.8 127,403.2 127.5,397.7 128,392.9 128.5,393 129,394.8 129.5,397.9 130,406.2 130.5,413.7 131,419 131.5,414.6 132,408.9 132.5,402.8 133,397.1 133.5,392.2 134,392.1 134.5,398.9 135,407.7 135.5,411 136,409 136.5,404.2 137,401.2 137.5,400.6 138,405.7 138.5,412.4 139,416.7 139.5,415 140,413.8 140.5,414.1 141,415.9 141.5,411.9 142,406.6 142.5,400.8 143,398 143.5,399.4 144,402.8 144.5,406.5 145,406.2 145.5,404.1 146,400.5 146.5,400 147,404.2 147.5,412.8 148,411.9 148.5,403.1 149,391.2 149.5,390.7 150,392.2 150.5,393.7 151,392.8 151.5,400.6 152,408.4 152.5,413.9 153,410.2 153.5,406.8 154,404.2 154.5,403.6 155,402.8 155.5,401.8 156,400.4 156.5,397.9 157,397.4 157.5,401.9 158,408.9 158.5,412.9 159,412.8 159.5,411.8 160,410.1 160.5,407.1 161,399.4 161.5,393.8 162,392.3 162.5,400.8 163,408.4 163.5,412.4 164,410.5 164.5,406 165,399.8 165.5,392.3 166,388.8 166.5,389.1 167,392.7 167.5,400.6 168,405.7 168.5,408.4 169,407.6 169.5,410.2 170,412.8 170.5,414.1 171,411.1 171.5,409.7 172,410.1 172.5,415.9 173,416.6 173.5,413 174,403.6 174.5,401.5 175,402.1 175.5,403.2 176,400.1 176.5,398.6 177,400 177.5,404.6 178,405 178.5,401.5 179,393 179.5,389.1 180,388.1 180.5,389.1 181,393.1 181.5,399.4 182,408.3 182.5,408.9 183,409.3 183.5,410.3 184,413.2 184.5,410.3 185,403.6 185.5,398.2 186,400.5 186.5,406 187,412.2 187.5,410.3 188,406.5 188.5,402.1 189,401.7 189.5,400.7 190,398.6 190.5,394.5 191,391.7 191.5,389.7 192,387.5 192.5,384.9 193,384.7 193.5,389.6 194,393.4 194.5,395.3 195,394.7 195.5,397.8 196,398.8 196.5,398.5 197,399.6 197.5,406.9 198,414 198.5,411.4 199,399.3 199.5,389.3 200,387.2 200.5,390.9 201,393.7 201.5,395.2 202,398.4 202.5,402 203,405.5 203.5,406.8 204,405.1 204.5,401.1 205,394.5 205.5,392 206,392 206.5,394.5 207,395.8 207.5,398.6 208,402.3 208.5,401.7 209,396.5 209.5,390.3 210,390.5 210.5,393.7 211,395.5 211.5,392.6 212,388.4 212.5,386 213,386 213.5,388.2 214,390.7 214.5,393.3 215,394.2 215.5,392.1 216,389 216.5,387.5 217,391.8 217.5,397.5 218,403.1 218.5,400.4 219,396.5 219.5,392.6 220,399.4 220.5,409.9 221,420.7 221.5,420.4 222,414.6 222.5,408.4 223,406.3 223.5,404.4 224,402.3 224.5,399.6 225,399.6 225.5,402.4 226,407.4 226.5,409.3 227,407.4 227.5,404.7 228,406.8 228.5,412.9 229,416.1 229.5,410.6 230,398.8 230.5,393.4 231,397.3 231.5,407.9 232,415.4 232.5,419.5 233,417.2 233.5,411.8 234,405.4 234.5,400.4 235,399.6 235.5,400.7 236,403.6 236.5,400.5 237,397.7 237.5,395.9 238,400.5 238.5,405.5 239,410.5 239.5,414.8 240,416.4 240.5,415.6 241,411.3 241.5,405.6 242,400.2 242.5,395.4 243,392.4 243.5,391.6 244,392.5 244.5,393.5 245,394.3 245.5,395.7 246,400.4 246.5,401.8 247,400.4 247.5,395.2 248,399.3 248.5,406.2 249,414.8 249.5,414.4 250,411.4 250.5,405.8 251,397.6 251.5,391.4 252,386.7 252.5,383.7 253,385.1 253.5,391.6 254,405.3 254.5,415.3 255,418.3 255.5,414.1 256,413.1 256.5,416.3 257,420.5 257.5,415.1 258,408.5 258.5,404.1 259,406.8 259.5,409.2 260,409 260.5,405.1 261,395.2 261.5,390 262,390.6 262.5,402.5 263,409 263.5,410.5 264,404.5 264.5,399.9 265,396.8 265.5,396 266,394.7 266.5,392.7 267,390.1 267.5,386.7 268,385.2 268.5,386.1 269,393.2 269.5,399.1 270,401.9 270.5,396.3 271,388.8 271.5,384 272,385.1 272.5,387 273,386.9 273.5,384.6 274,381.2 274.5,381.1 275,384.4 275.5,393.5 276,397 276.5,396.6 277,391.8 277.5,392 278,395.8 278.5,403.6 279,408.8 279.5,410.1 280,407.8 280.5,405.5 281,401.9 281.5,397.4 282,391.8 282.5,392.9 283,397.6 283.5,405.7 284,406.9 284.5,404 285,397 285.5,393.5 286,393.4 286.5,396.3 287,401.5 287.5,406.4 288,410.1 288.5,410.1 289,407.7 289.5,404.8 290,402.2 290.5,403.2 291,405.9 291.5,409.9 292,409.4 292.5,407.2 293,404 293.5,401.1 294,397.7 294.5,395.4 295,396.8 295.5,398.2 296,399.3 296.5,399.7 297,401.7 297.5,402.2 298,401.2 298.5,400.6 299,400.7 299.5,401.7 300,405.3 300.5,410.9 301,415.3 301.5,415.7 302,409.4 302.5,404.6 303,402.7 303.5,403 304,399.9 304.5,395.1 305,398.5 305.5,400.9 306,401 306.5,395.1 307,393.6 307.5,395.5 308,401.8 308.5,405.8 309,403.9 309.5,396 310,394.1 310.5,396 311,400.1 311.5,402.3 312,403.7 312.5,403.2 313,398.4 313.5,395.8 314,395.9 314.5,399.4 315,404.7 315.5,407.9 316,408.5 316.5,402.2 317,397.4 317.5,394.9 318,397.6 318.5,401 319,403.3 319.5,402.7 320,397.1 320.5,392.5 321,390.1 321.5,397.1 322,399.8 322.5,398.7 323,394.6 323.5,397.6 324,402.8 324.5,404.5 325,400.6 325.5,396.3 326,394.2 326.5,400 327,407.6 327.5,416 328,414.4 328.5,410.1 329,404.9 329.5,404.3 330,406.3 330.5,409.4 331,412.6 331.5,416.6 332,419 332.5,419.2 333,415.7 333.5,412.6 334,410.1 334.5,410.2 335,408.6 335.5,406.1 336,403.7 336.5,405.3 337,406.1 337.5,402.7 338,396.6 338.5,391.6 339,388.3 339.5,392.7 340,399.3 340.5,406.4 341,404 341.5,399.2 342,394.6 342.5,393.7 343,396.5 343.5,399.4 344,400.9 344.5,398.5 345,398.4 345.5,401.1 346,404.1 346.5,404.8 347,404.3 347.5,405.9 348,406.6 348.5,404.6 349,396.1 349.5,388.2 350,385.6 350.5,390.5 351,397.4 351.5,401.4 352,402.4 352.5,403.4 353,404.6 353.5,404.9 354,401.5 354.5,398.9 355,397.5 355.5,397.9 356,398 356.5,398.2 357,398.4 357.5,396.5 358,395 358.5,394.1 359,395.6 359.5,396.4 360,396.8 360.5,396.6 361,396.3 361.5,395.8 362,394.8 362.5,394.8 363,394.4 363.5,393.9 364,396 364.5,400.2 365,405.2 365.5,406.5 366,403.9 366.5,400.3 367,398.7 367.5,399.5 368,400.2 368.5,400 369,402.7 369.5,407 370,412.2 370.5,411.8 371,407.7 371.5,401.8 372,397.1 372.5,391.5 373,386.8 373.5,384.5 374,388.2 374.5,392.3 375,395.9 375.5,397.7 376,400.6 376.5,405 377,413.5 377.5,418.2 378,418.1 378.5,408.2 379,402 379.5,399.5 380,402.1 380.5,401.5 381,399.2 381.5,395.6 382,395.5 382.5,397.9 383,401.6 383.5,403.2 384,401.3 384.5,397.4 385,391.6 385.5,390.8 386,393.8 386.5,401.1 387,404.8 387.5,407.4 388,408.7 388.5,403.7 389,397.3 389.5,392.5 390,397.6 390.5,403.1 391,406.2 391.5,404.3 392,401.8 392.5,402.5 393,407.5 393.5,411.7 394,409.8 394.5,403.4 395,398.4 395.5,398 396,400 396.5,402.9 397,406.5 397.5,409.2 398,410 398.5,409 399,409.1 399.5,410.5 400,411.2 400.5,411.1 401,409.8 401.5,405.5 402,401.3 402.5,397.9 403,396.8 403.5,395.4 404,395.2 404.5,397.1 405,402.5 405.5,406.2 406,408.2 406.5,408.2 407,407.6 407.5,406.7 408,405.6 408.5,409.2 409,413.7 409.5,417.2 410,417.2 410.5,416.3 411,414.7 411.5,410.6 412,408.3 412.5,407.3 413,405.4 413.5,405.2 414,407 414.5,412.5 415,410.6 415.5,405.1 416,396.7 416.5,393.9 417,394.5 417.5,398.5 418,400.4 418.5,398.1 419,392.7 419.5,386.4 420,380.8 420.5,377.6 421,380.1 421.5,386.3 422,390.7 422.5,391.4 423,395.5 423.5,399.8 424,403.2 424.5,397.3 425,396.3 425.5,399 426,405.7 426.5,404.9 427,401.5 427.5,397.8 428,395 428.5,393.9 429,394.9 429.5,395.7 430,395.4 430.5,394.3 431,394 431.5,394 432,395.8 432.5,403.2 433,409.7 433.5,413 434,411.1 434.5,406.8 435,403.3 435.5,400.6 436,397.6 436.5,395 437,393 437.5,393.1 438,392.8 438.5,392.9 439,394.9 439.5,400.7 440,407 440.5,413 441,412.1 441.5,409.3 442,405.6 442.5,408.3 443,412 443.5,415.2 444,414.2 444.5,411 445,407.5 445.5,405.3 446,407.4 446.5,409.3 447,410.3 447.5,411.2 448,414 448.5,417.3 449,412.1 449.5,404.8 450,398.1 450.5,396.5 451,396.2 451.5,396.8 452,398.4 452.5,399.8 453,401.7 453.5,404 454,405.5 454.5,403.9 455,401.1 455.5,403.2 456,410.2 456.5,417.8 457,422 457.5,423.2 458,423 458.5,421.6 459,419 459.5,416.1 460,412.9 460.5,407.7 461,401.8 461.5,396.8 462,397.4 462.5,403.2 463,408.6 463.5,409.2 464,406.9 464.5,406.5 465,409.1 465.5,413.8 466,416 466.5,415.2 467,408.2 467.5,405.3 468,406.2 468.5,413.2 469,417.5 469.5,418.4 470,414.8 470.5,409.8 471,408.3 471.5,410.5 472,413.7 472.5,412 473,406.6 473.5,398.6 474,393.1 474.5,390.2 475,391.5 475.5,395.5 476,399 476.5,400.8 477,399.6 477.5,398.1 478,396.9 478.5,399.7 479,404.7 479.5,410 480,411.6 480.5,408.6 481,404.7 481.5,401.8 482,404.4 482.5,406.3 483,406.1 483.5,398 484,394 484.5,394.2 485,401.7 485.5,403.4 486,401.6 486.5,397.7 487,397.7 487.5,399.3 488,401.9 488.5,406.3 489,407.6 489.5,405.2 490,396.9 490.5,390.9 491,388.1 491.5,394.1 492,404.3 492.5,413.9 493,417.5 493.5,412.4 494,404.9 494.5,396.3 495,392 495.5,389.9 496,389.7 496.5,393.3 497,398.4 497.5,403.6 498,406.6 498.5,405.8 499,404 499.5,402.2 500,404.1 500.5,404.8 501,403.2 501.5,397.5 502,394.9 502.5,395.2 503,399.3 503.5,402.2 504,403.8 504.5,403.1 505,400.9 505.5,399.8 506,401.3 506.5,405.4 507,408.5 507.5,410.4 508,410.4 508.5,410 509,408.9 509.5,405 510,401.8 510.5,400.4 511,403.2 511.5,402 512,400.5 512.5,399.5 513,408.5 513.5,414.5 514,416.9 514.5,412.4 515,411.9 515.5,413 516,412.4 516.5,408.1 517,403.7 517.5,401.9 518,403.8 518.5,404.9 519,404.4 519.5,399.8 520,395.7 520.5,392.4 521,393 521.5,397.8 522,403.6 522.5,406.2 523,404.3 523.5,401.7 524,399.9 524.5,400.4 525,399.6 525.5,397.1 526,393.9 526.5,394.9 527,398.5 527.5,401.1 528,403 528.5,404.5 529,405.7 529.5,407.2 530,408.9 530.5,410.9 531,409.6 531.5,410.2 532,412.4 532.5,412 533,409.9 533.5,407.7 534,409.4 534.5,408.1 535,403.5 535.5,393.7 536,387.4 536.5,386.3 537,391.4 537.5,399.7 538,406.3 538.5,410.9 539,408.9 539.5,403.2 540,396.5 540.5,392.7 541,391.5 541.5,391 542,390.7 542.5,393.8 543,399.2 543.5,407 544,412.2 544.5,413.9 545,412.6 545.5,409.2 546,406.7 546.5,405.6 547,407.4 547.5,409.3 548,408.6 548.5,404.1 549,400 549.5,401.9 550,409.6 550.5,417.2 551,416.9 551.5,411.6 552,404.6 552.5,401.1 553,399.4 553.5,399.6 554,400.5 554.5,401.6 555,402.7 555.5,400.5 556,398.6 556.5,397.5 557,400.2 557.5,401.4 558,401.4 558.5,399.8 559,399.5 559.5,399.8 560,400.7 560.5,404.3 561,408.9 561.5,413.6 562,409.5 562.5,403.3 563,397.2 563.5,399.1 564,404.6 564.5,409.6 565,409.8 565.5,405.4 566,401.1 566.5,398.5 567,398.8 567.5,399.7 568,400.8 568.5,399.5 569,399 569.5,400.5 570,407.8 570.5,410.2 571,409.1 571.5,403.6 572,402.4 572.5,402.2 573,402.6 573.5,406.2 574,407.2 574.5,405.6 575,398.7 575.5,399.2 576,403.8 576.5,410.3 577,409.8 577.5,407.4 578,404.7 578.5,403.8 579,404 579.5,405.5 580,408.6 580.5,408.4 581,405.7 581.5,400.5 582,398.3 582.5,398.7 583,402.6 583.5,409.5 584,413.8 584.5,413.5 585,407.3 585.5,405.5 586,407.9 586.5,409.7 587,407.7 587.5,404.1 588,402.5 588.5,404.4 589,407.3 589.5,410.1 590,405.3 590.5,397.1 591,385.8 591.5,385.4 592,390.1 592.5,398.7 593,405.9 593.5,411.1 594,413.2 594.5,409 595,405 595.5,402 596,400.8 596.5,396.3 597,393.9 597.5,394.3 598,404.1 598.5,413.9 599,421.4 599.5,416.9 600,410.4 600.5,406.4 601,411.3 601.5,416.5 602,416.9 602.5,410.1 603,400.6 603.5,395.2 604,394.1 604.5,396.4 605,396.7 605.5,397.1 606,401.7 606.5,412 607,418.8 607.5,414.7 608,401.2 608.5,392.3 609,390.9 609.5,397.3 610,404.2 610.5,411 611,415.5 611.5,414.6 612,411.4 612.5,408.8 613,406.5 613.5,402.5 614,395.1 614.5,393.8 615,395.3 615.5,398.9 616,398.6 616.5,399 617,400.1 617.5,402.4 618,400.3 618.5,396.9 619,394.4 619.5,400.5 620,405.1 620.5,405.3 621,397.9 621.5,395.8 622,399.4 622.5,409.2 623,413.3 623.5,413.4 624,409.8 624.5,409.7 625,410.3 625.5,410.4 626,408.4 626.5,405.4 627,401.5 627.5,401.9 628,403.9 628.5,406.5 629,403.5 629.5,401 630,399.7 630.5,401 631,398.4 631.5,395.9 632,395.3 632.5,400.3 633,402.9 633.5,402.6 634,402.7 634.5,402.3 635,400.9 635.5,396.9 636,396.5 636.5,396.6 637,394.3 637.5,393.7 638,394.3 638.5,396.3 639,391.5 639.5,389.5 640,390.8 640.5,397.8 641,402.3 641.5,405.1 642,406.1 642.5,403.7 643,399.8 643.5,395 644,394.3 644.5,396.3 645,400.9 645.5,405.9 646,409.6 646.5,412 647,412.2 647.5,409.4 648,405.6 648.5,402.9 649,405.1 649.5,408.5 650,412.1 650.5,410.9 651,407.9 651.5,403.8 652,406.7 652.5,408.9 653,408.9 653.5,400.3 654,395.5 654.5,394.5 655,399.7 655.5,403 656,405.4 656.5,406.6 657,405.7 657.5,401.5 658,394.6 658.5,389.6 659,389.3 659.5,392 660,396.1 660.5,397.8 661,397.3 661.5,393.6 662,392.8 662.5,395.4 663,401.8 663.5,405.2 664,408 664.5,410 665,410.4 665.5,405.7 666,399.8 666.5,397.8 667,400 667.5,400.8 668,397.5 668.5,394.9 669,393.4 669.5,393.1 670,394.1 670.5,395.6 671,397 671.5,395.9 672,396.8 672.5,399.4 673,404.2 673.5,406.3 674,405.6 674.5,401.5 675,401.3 675.5,404.1 676,409.2 676.5,409.8 677,405.8 677.5,399.4 678,393.8 678.5,394.6 679,398.5 679.5,404.7 680,409.2 680.5,411.8 681,412.4 681.5,412.5 682,413.2 682.5,413.6 683,407.9 683.5,401.7 684,397.2 684.5,399.1 685,402.4 685.5,404.4 686,403.7 686.5,399.4 687,395.1 687.5,391.2 688,392.5 688.5,397.9 689,405.6 689.5,410.7 690,412.2 690.5,412 691,411 691.5,408.5 692,406.8 692.5,406.8 693,407.7 693.5,405.8 694,401.2 694.5,395.8 695,395.1 695.5,397.7 696,402.6 696.5,403.5 697,402.2 697.5,399.1 698,398.9 698.5,401.5 699,407.1 699.5,409.7 700,409.7 700.5,408 701,408.8 701.5,409.1 702,408.2 702.5,404 703,401.4 703.5,400.6 704,402.7 704.5,403.8 705,404.8 705.5,405.6 706,404.7 706.5,402.8 707,400.7 707.5,401.2 708,400.8 708.5,401.1 709,404.3 709.5,412.2 710,420.2 710.5,426.8 711,425.7 711.5,419.1 712,408.3 712.5,402.7 713,402.8 713.5,405.7 714,406.8 714.5,406.8 715,406.5 715.5,406 716,404.3 716.5,403.4 717,403.8 717.5,402.5 718,398 718.5,391.8 719,391.7 719.5,392.6 720,391.6 720.5,383.2 721,378.2 721.5,377.3 722,381.8 722.5,388.1 723,394.8 723.5,401.9 724,407.2 724.5,410.8 725,412.1 725.5,407 726,401.8 726.5,399.6 727,405.3 727.5,407.4 728,403.6 728.5,391.9 729,384.4 729.5,384.8 730,392.6 730.5,401.6 731,404.9 731.5,405.1 732,405.8 732.5,405.2 733,402.5 733.5,395.9 734,394.6 734.5,397.3 735,404.2 735.5,409.6 736,412.4 736.5,412.8 737,411.6 737.5,411.6 738,411.4 738.5,408.9 739,404.8 739.5,402 740,402.4 740.5,403.2 741,402.7 741.5,400.7 742,397 742.5,396.7 743,400 743.5,410.5 744,415.4 744.5,415.2 745,406.9 745.5,400 746,395.3 746.5,393.3 747,392.4 747.5,392 748,392.3 748.5,397.9 749,402.4 749.5,405.5 750,405.1 750.5,408.1 751,411.2 751.5,412 752,408.9 752.5,406 753,404 753.5,403.1 754,401.8 754.5,400.2 755,399.6 755.5,401.9 756,405 756.5,406.1 757,404.1 757.5,401.9 758,400.6 758.5,401.9 759,405.9 759.5,412.7 760,421.3 760.5,420.5 761,412.6 761.5,400.5 762,398 762.5,399.4 763,401.2 763.5,396.1 764,391.9 764.5,391.2 765,400.1 765.5,406.7 766,410.1 766.5,407.1 767,405.3 767.5,405.5 768,410.8 768.5,417 769,420.5 769.5,417.6 770,409.9 770.5,403.4 771,399.4 771.5,402.8 772,408.5 772.5,415.3 773,416.7 773.5,413.2 774,407.3 774.5,401.5 775,400.4 775.5,402.3 776,407.5 776.5,410 777,410.3 777.5,408.2 778,405.5 778.5,400.7 779,394.9 779.5,391.7 780,396.2 780.5,402 781,403.1 781.5,396.1 782,391 782.5,391 783,395.7 783.5,398.9 784,400.6 784.5,401.3 785,401.4 785.5,401.8 786,404.8 786.5,409.5 787,412.8 787.5,411.8 788,407.3 788.5,403.5 789,400.9 789.5,399.7 790,401.3 790.5,405.4 791,412.6 791.5,415.3 792,414.6 792.5,409.9 793,406.3 793.5,402.5 794,397.6 794.5,394 795,394.7 795.5,400 796,407.3 796.5,409.1 797,406.4 797.5,398.7 798,397.2 798.5,399.3 799,405.1 799.5,407.1 800,407.4 800.5,406.5 801,403.7 801.5,401.6 802,400.7 802.5,405.2 803,408.7 803.5,410.5 804,407.9 804.5,404.2 805,400.7 805.5,398.1 806,396.7 806.5,396.3 807,396.7 807.5,398.5 808,399.4 808.5,399.4 809,397.7 809.5,397.3 810,398.7 810.5,404.2 811,410.1 811.5,413.8 812,413.5 812.5,414.2 813,413.9 813.5,412.1 814,400.8 814.5,392.4 815,387.3 815.5,389.5 816,390.7 816.5,392.4 817,396.2 817.5,401.1 818,404.5 818.5,405.6 819,408.5 819.5,408.9 820,406.6 820.5,401.4 821,398.3 821.5,396.6 822,395.1 822.5,396.6 823,400.2 823.5,406.1 824,409.6 824.5,410.9 825,409.5 825.5,406.9 826,407.3 826.5,409.8 827,410.9 827.5,408.8 828,406.6 828.5,408.9 829,411.2 829.5,412.7 830,412.5 830.5,410.6 831,408.2 831.5,405.5 832,409.7 832.5,413.8 833,417.2 833.5,416.2 834,416.7 834.5,416.8 835,414.5 835.5,406 836,399.8 836.5,399.1 837,403 837.5,400.8 838,393.4 838.5,392.6 839,398 839.5,405.4 840,405.8 840.5,403.4 841,402.6 841.5,407.2 842,412.9 842.5,413.9 843,408.8 843.5,403.5 844,399.9 844.5,398.1 845,401.3 845.5,407.7 846,412.9 846.5,409.8 847,404 847.5,398.5 848,394.6 848.5,391.6 849,391.9 849.5,395.6 850,399.7 850.5,401.4 851,401.4 851.5,401.3 852,400.3 852.5,399.5 853,400.3 853.5,401.6 854,403.3 854.5,405.6 855,409.5 855.5,411.4 856,411.2 856.5,407.7 857,401.5 857.5,395.2 858,394.9 858.5,404.3 859,413.9 859.5,417.7 860,411.9 860.5,407.5 861,406.4 861.5,402.7 862,397.1 862.5,391.4 863,397.1 863.5,403.4 864,407.6 864.5,404.4 865,398.4 865.5,392.5 866,388.5 866.5,393.4 867,400 867.5,407.1 868,402.3 868.5,398 869,395.7 869.5,402.3 870,402.5 870.5,399 871,392.2 871.5,392.9 872,396.4 872.5,401.7 873,403.4 873.5,402.5 874,399 874.5,396.1 875,394.4 875.5,393.4 876,392.6 876.5,392.2 877,391.9 877.5,391.6 878,392.6 878.5,394.1 879,396.1 879.5,395.5 880,392.6 880.5,388.2 881,387.3 881.5,391.9 882,398.8 882.5,404.8 883,410.3 883.5,415.7 884,421.2 884.5,416.9 885,411.7 885.5,406.5 886,407.5 886.5,406 887,402.2 887.5,395.5 888,392.1 888.5,392.9 889,401.3 889.5,412.8 890,420.8 890.5,422.8 891,413.5 891.5,403.7 892,394.7 892.5,393.5 893,396.5 893.5,401.8 894,407.1 894.5,408.8 895,408.1 895.5,405.2 896,401.9 896.5,399.3 897,397.5 897.5,394.6 898,391.6 898.5,389.4 899,392.6 899.5,394.6 900,395 900.5,392.2 901,393.8 901.5,398.8 902,407.9 902.5,414.9 903,417.2 903.5,414.3 904,406.3 904.5,400.9 905,397.7 905.5,397.5 906,395.9 906.5,394.7 907,396.2 907.5,397.1 908,393.7 908.5,384 909,380.5 909.5,383.9 910,393.5 910.5,400.5 911,405.4 911.5,409 912,412.1 912.5,412.3 913,411.5 913.5,410.5 914,409.8 914.5,406.9 915,401.3 915.5,397.8 916,398.9 916.5,403.4 917,406.1 917.5,404.4 918,400.1 918.5,394.3 919,395.8 919.5,401.8 920,412.6 920.5,413.8 921,411.8 921.5,407.3 922,406 922.5,404.4 923,403 923.5,404.6 924,407.9 924.5,410 925,407.4 925.5,403.7 926,401.4 926.5,401.6 927,401.2 927.5,400.8 928,400.2 928.5,398.6 929,398.1 929.5,399.1 930,403.2 930.5,404.3 931,403.9 931.5,402.4 932,399.7 932.5,396.5 933,393 933.5,392.8 934,392.8 934.5,392.8 935,392.8 935.5,394.3 936,396.5 936.5,398.1 937,396 937.5,393 938,390.1 938.5,390.9 939,392.8 939.5,395.7 940,401.8 940.5,408.5 941,414.4 941.5,413 942,407.3 942.5,400 943,393.4 943.5,391.4 944,393.5 944.5,400.3 945,404.7 945.5,404.2 946,399.2 946.5,394.3 947,394.5 947.5,398.5 948,406.1 948.5,411.3 949,414.5 949.5,415.1 950,411.8 950.5,406.7 951,399.9 951.5,394.6 952,389.3 952.5,384.7 953,384.3 953.5,389.2 954,396.2 954.5,401.9 955,401.7 955.5,401.4 956,403.4 956.5,410.9 957,416.2 957.5,418 958,411.3 958.5,404.9 959,400.6 959.5,405.4 960,410.1 960.5,411.9 961,406.7 961.5,404.6 962,403.7 962.5,403.7 963,400.1 963.5,398.7 964,399.4 964.5,398.1 965,398.2 965.5,399.9 966,405.3 966.5,406.7 967,406.5 967.5,405.4 968,404.3 968.5,402.7 969,400.2 969.5,404.6 970,409.5 970.5,413.9 971,412.6 971.5,411.9 972,410.9 972.5,408.7 973,405.8 973.5,403.1 974,401.2 974.5,399.5 975,400.1 975.5,403.2 976,402.9 976.5,399 977,394 977.5,395.1 978,399.3 978.5,403.8 979,406 979.5,406.7 980,407.4 980.5,408.5 981,406.4 981.5,400.9 982,393.6 982.5,397.4 983,407.1 983.5,417.5 984,417.4 984.5,413.3 985,410.9 985.5,414.5 986,416.3 986.5,415 987,410.1 987.5,407.9 988,405 988.5,401.1 989,395.6 989.5,394.5 990,395.6 990.5,397.7 991,398 991.5,398.3 992,399.5 992.5,395.6 993,392 993.5,389.6 994,396.3 994.5,400.1 995,400.7 995.5,394 996,394.2 996.5,400.1 997,414.1 997.5,420.5 998,421.2 998.5,415.3 999,408.6 999.5,402.8 1000,398.1 1000.5,396.8 1001,397.8 1001.5,399.5 1002,399.6 1002.5,398.7 1003,399.5 1003.5,404.9 1004,413.5 1004.5,418.4 1005,418 1005.5,410 1006,407 1006.5,408.5 1007,413.9 1007.5,414.2 1008,411.1 1008.5,405 1009,404.2 1009.5,406.6 1010,412.7 1010.5,409.8 1011,404.1 1011.5,396.5 1012,394.5 1012.5,391.7 1013,389 1013.5,389.4 1014,396.1 1014.5,403 1015,404.4 1015.5,397.3 1016,390.8 1016.5,387.7 1017,393 1017.5,399.5 1018,406.2 1018.5,407.4 1019,404.4 1019.5,400.3 1020,400.7 1020.5,404.8 1021,409 1021.5,410.6 1022,408.6 1022.5,405.3 1023,401.2 1023.5,398 1024,394 1024.5,389.7 1025,388.5 1025.5,389.5 1026,390.9 1026.5,389.7 1027,387.7 1027.5,387.1 1028,389.6 1028.5,394.4 1029,395.5 1029.5,392.3 1030,387.3 1030.5,388.1 1031,392.9 1031.5,398.5 1032,396.6 1032.5,391.8 1033,387.4 1033.5,392.9 1034,398.8 1034.5,402.2 1035,399.1 1035.5,400 1036,404.9 1036.5,412.7 1037,415 1037.5,413.3 1038,407.9 1038.5,402.7 1039,398.2 1039.5,395.1 1040,400 1040.5,406.2 1041,412.6 1041.5,412.7 1042,410.3 1042.5,405.8 1043,400.7 1043.5,398 1044,396 1044.5,392.4 1045,388.6 1045.5,386.2 1046,386.5 1046.5,390.2 1047,395.6 1047.5,402.4 1048,409.5 1048.5,412.4 1049,411.4 1049.5,405.2 1050,400.1 1050.5,396.6 1051,396.4 1051.5,398.4 1052,402 1052.5,407.5 1053,410.5 1053.5,408.3 1054,401.5 1054.5,396 1055,393.5 1055.5,393 1056,393.1 1056.5,396.6 1057,401.2 1057.5,405.3 1058,405.7 1058.5,405.8 1059,406.3 1059.5,407 1060,407.4 1060.5,407.8 1061,409.7 1061.5,408 1062,403.4 1062.5,394.3 1063,392.3 1063.5,394.7 1064,401.7 1064.5,407.6 1065,410.7 1065.5,410.7 1066,406.3 1066.5,401.7 1067,397.7 1067.5,397.2 1068,401.1 1068.5,404.4 1069,401.6 1069.5,397.4 1070,394.9 1070.5,395 1071,390.3 1071.5,387.4 1072,386.9 1072.5,393.2 1073,398 1073.5,400.3 1074,396.3 1074.5,393.8 1075,392.5 1075.5,392.8 1076,391 1076.5,393.5 1077,401.8 1077.5,410.4 1078,409.3 1078.5,400.9 1079,394.3 1079.5,395 1080,398.6 1080.5,400.8 1081,402.5 1081.5,405.6 1082,411.6 1082.5,419.6 1083,423.3 1083.5,421.6 1084,413.7 1084.5,410.9 1085,411.5 1085.5,411.9 1086,406.6 1086.5,400.7 1087,399.3 1087.5,406.1 1088,411.9 1088.5,413.8 1089,407.6 1089.5,402.5 1090,398.7 1090.5,394.8 1091,392.5 1091.5,392.5 1092,397.6 1092.5,399.2 1093,398.7 1093.5,396.3 1094,401.2 1094.5,406.2 1095,410.1 1095.5,403.3 1096,399 1096.5,397.2 1097,399.2 1097.5,399.3 1098,399 1098.5,400.6 1099,400.5 1099.5,400 1100,399.5 1100.5,406.1 1101,411.1 1101.5,413.4 1102,410.3 1102.5,407.3 1103,404.5 1103.5,401.1 1104,403.3 1104.5,407.8 1105,412.7 1105.5,413.8 1106,413 1106.5,410.3 1107,402.1 1107.5,396.4 1108,393.4 1108.5,393.8 1109,393.8 1109.5,394.6 1110,399 1110.5,401.7 1111,402.2 1111.5,399.5 1112,400.8 1112.5,404.9 1113,411.9 1113.5,411.2 1114,406.2 1114.5,399 1115,398.8 1115.5,403.6 1116,409.2 1116.5,409.9 1117,404.7 1117.5,398.9 1118,394.9 1118.5,394.3 1119,396 1119.5,399.8 1120,402.5 1120.5,403.8 1121,405 1121.5,411.1 1122,413.8 1122.5,412.5 1123,404.4 1123.5,396.9 1124,392.2 1124.5,391.5 1125,395.7 1125.5,399 1126,400.9 1126.5,400.6 1127,401.6 1127.5,403.1 1128,403.2 1128.5,402.2 1129,401.7 1129.5,403.4 1130,401.8 1130.5,398.8 1131,394.3 1131.5,397.2 1132,400.1 1132.5,402.5 1133,400.9 1133.5,400 1134,400 1134.5,401.8 1135,406 1135.5,410.7 1136,415.2 1136.5,413.2 1137,407.1 1137.5,397.5 1138,391.5 1138.5,390.6 1139,393.3 1139.5,397.9 1140,401.7 1140.5,404.5 1141,405.2 1141.5,404.8 1142,405.8 1142.5,409.3 1143,410.5 1143.5,407.6 1144,401.4 1144.5,398.5 1145,399.4 1145.5,402.7 1146,406.8 1146.5,409 1147,409.7 1147.5,408.2 1148,409.3 1148.5,412 1149,416.1 1149.5,417.2 1150,415.6 1150.5,412 1151,409.2 1151.5,412 1152,417 1152.5,420.8 1153,418.4 1153.5,414.8 1154,411.9 1154.5,408.5 1155,403.4 1155.5,396.8 1156,401.9 1156.5,409.7 1157,417.1 1157.5,412.2 1158,408.8 1158.5,407.8 1159,411.7 1159.5,410.5 1160,408.5 1160.5,406.7 1161,407.9 1161.5,407.6 1162,405.9 1162.5,404.5 1163,405 1163.5,406.7 1164,408.9 1164.5,409.3 1165,408.3 1165.5,405.5 1166,402.8 1166.5,398.3 1167,391.2 1167.5,384.4 1168,383.8 1168.5,388.5 1169,396.4 1169.5,400.3 1170,401.8 1170.5,401.2 1171,401.9 1171.5,404.1 1172,408.3 1172.5,409.9 1173,409.5 1173.5,407.4 1174,404.2 1174.5,399.3 1175,394.1 1175.5,392.7 1176,395 1176.5,398.4 1177,401.3 1177.5,400.6 1178,398.6 1178.5,395.7 1179,397 1179.5,396.8 1180,394.9 1180.5,390.9 1181,392.1 1181.5,396.6 1182,401.9 1182.5,401.3 1183,398.8 1183.5,396.2 1184,399.7 1184.5,402.3 1185,402.6 1185.5,395.9 1186,390.7 1186.5,387.6 1187,391.3 1187.5,396.8 1188,402 1188.5,403.6 1189,403.5 1189.5,404 1190,406.3 1190.5,409.7 1191,409.5 1191.5,405.2 1192,398.8 1192.5,400.2 1193,406.7 1193.5,412.4 1194,408.7 1194.5,402.5 1195,399.4 1195.5,401.8 1196,404.4 1196.5,405.3 1197,403.2 1197.5,400.6 1198,398.3 1198.5,403.6 1199,410.4 1199.5,415.5 1200,410.6 1200.5,401.1 1201,392.9 1201.5,390.6 1202,395.5 1202.5,400.9 1203,405.6 1203.5,402.4 1204,399.5 1204.5,397.2 1205,398.9 1205.5,398.5 1206,396.7 1206.5,394 1207,394.2 1207.5,395.8 1208,398.5 1208.5,403.2 1209,408.3 1209.5,413.2 1210,410.4 1210.5,404.2 1211,396.6 1211.5,393.7 1212,394.9 1212.5,397.3 1213,399 1213.5,403.2 1214,407.4 1214.5,410.9 1215,407.3 1215.5,405.2 1216,405.4 1216.5,410.9 1217,413.4 1217.5,413.4 1218,410.6 1218.5,408.6 1219,407.6 1219.5,408.4 1220,409.4 1220.5,409 1221,406.7 1221.5,406 1222,407.4 1222.5,410.1 1223,410.8 1223.5,407.6 1224,402.3 1224.5,396.1 1225,396 1225.5,401.3 1226,413.5 1226.5,417.4 1227,413.9 1227.5,403.6 1228,403.2 1228.5,406.6 1229,410.9 1229.5,406 1230,399.1 1230.5,393.7 1231,393.5 1231.5,400.2 1232,409.2 1232.5,419.8 1233,417.1 1233.5,408.9 1234,397 1234.5,394.4 1235,395.9 1235.5,399.8 1236,403.9 1236.5,406.6 1237,408.6 1237.5,409.8 1238,411.4 1238.5,412.5 1239,413 1239.5,413.5 1240,411.1 1240.5,406.3 1241,400.5 1241.5,400.4 1242,402.4 1242.5,402.4 1243,396 1243.5,390.6 1244,389.8 1244.5,398.7 1245,405.6 1245.5,408.7 1246,399.4 1246.5,394.1 1247,392.4 1247.5,396 1248,397 1248.5,398.2 1249,402.1 1249.5,404.9 1250,405.7 1250.5,403.8 1251,402 1251.5,399.6 1252,396.4 1252.5,394.3 1253,395.3 1253.5,397.6 1254,399 1254.5,399.1 1255,399.6 1255.5,402 1256,404.5 1256.5,404.2 1257,400.2 1257.5,393.9 1258,393.2 1258.5,397.5 1259,405.7 1259.5,410 1260,412 1260.5,412.5 1261,412.7 1261.5,412.9 1262,413.4 1262.5,412.5 1263,408.7 1263.5,402 1264,398.2 1264.5,398.9 1265,402.4 1265.5,405.3 1266,406.6 1266.5,406.7 1267,405.5 1267.5,398.3 1268,393.8 1268.5,395.1 1269,406.7 1269.5,411.6 1270,409.6 1270.5,404.3 1271,403 1271.5,404.7 1272,409 1272.5,412.4 1273,413.7 1273.5,410.9 1274,408.6 1274.5,407.1 1275,406.5 1275.5,406.5 1276,404.1 1276.5,400 1277,396.7 1277.5,400.5 1278,407.3 1278.5,413 1279,413.8 1279.5,411.2 1280,404.7 1280.5,398.5 1281,397.6 1281.5,402.4 1282,410.1 1282.5,413 1283,412.1 1283.5,407.9 1284,405.6 1284.5,404.4 1285,404.1 1285.5,406.1 1286,407.9 1286.5,409 1287,409.9 1287.5,410.2 1288,409.6 1288.5,405.9 1289,405.3 1289.5,405.9 1290,404.8 1290.5,398.4 1291,391.4 1291.5,386.7 1292,388.9 1292.5,392.9 1293,398.2 1293.5,402.3 1294,404.7 1294.5,405.2 1295,401.6 1295.5,400.2 1296,400.7 1296.5,404.1 1297,399.5 1297.5,393.3 1298,388.1 1298.5,399.4 1299,410.4 1299.5,418.8 1300,414.3 1300.5,407.5 1301,399.7 1301.5,393.8 1302,392 1302.5,392.8 1303,396.4 1303.5,401.2 1304,404.3 1304.5,404.7 1305,404.3 1305.5,404.8 1306,406.2 1306.5,404.9 1307,403.6 1307.5,403.1 1308,405.4 1308.5,411.3 1309,415.7 1309.5,414.5 1310,405.2 1310.5,398.7 1311,397.3 1311.5,394.9 1312,389.5 1312.5,382.9 1313,384.9 1313.5,390.9 1314,397.8 1314.5,401.3 1315,400.6 1315.5,399.1 1316,398.5 1316.5,397.2 1317,394.2 1317.5,389.9 1318,389.8 1318.5,392.9 1319,398.3 1319.5,404.4 1320,405.2 1320.5,402.7 1321,396.9 1321.5,397.4 1322,399.8 1322.5,403.3 1323,402.2 1323.5,402 1324,402.7 1324.5,404.9 1325,404.6 1325.5,402.4 1326,399.1 1326.5,400.2 1327,403.8 1327.5,409.7 1328,410.5 1328.5,409.9 1329,408.3 1329.5,409.4 1330,408.9 1330.5,407.7 1331,408.8 1331.5,414.5 1332,421.3 1332.5,425.2 1333,421.2 1333.5,415 1334,408.3 1334.5,403.7 1335,400.2 1335.5,397.6 1336,400.2 1336.5,402.4 1337,404 1337.5,403.9 1338,402.2 1338.5,399.9 1339,397.2 1339.5,401.5 1340,406.9 1340.5,412 1341,407.8 1341.5,403.3 1342,399.7 1342.5,403.8 1343,406.3 1343.5,406.3 1344,399.7 1344.5,396.5 1345,396.1 1345.5,399 1346,400.6 1346.5,400.9 1347,399.8 1347.5,399.2 1348,401.4 1348.5,405.6 1349,407.7 1349.5,408.4 1350,408.6 1350.5,409.2 1351,406.1 1351.5,402.8 1352,401.1 1352.5,400 1353,397.1 1353.5,392.5 1354,393.6 1354.5,397.3 1355,402.3 1355.5,405.3 1356,404.3 1356.5,402 1357,400.5 1357.5,404.7 1358,409 1358.5,412 1359,413 1359.5,412.6 1360,410.6 1360.5,406.4 1361,402.9 1361.5,400.1 1362,398.9 1362.5,402.5 1363,406.4 1363.5,407.8 1364,406.8 1364.5,408.6 1365,414.5 1365.5,418.5 1366,417.3 1366.5,412.4 1367,408.7 1367.5,407.5 1368,407.9 1368.5,409.3 1369,411.1 1369.5,409.4 1370,401.1 1370.5,391.6 1371,387 1371.5,388.1 1372,393.2 1372.5,398.8 1373,403.6 1373.5,403.5 1374,401.2 1374.5,399 1375,399.9 1375.5,402.1 1376,404.3 1376.5,406.2 1377,404.6 1377.5,405.2 1378,408.4 1378.5,414.4 1379,413.1 1379.5,407.4 1380,400.1 1380.5,397.5 1381,396.4 1381.5,395.2 1382,394.4 1382.5,396.2 1383,401.4 1383.5,403.6 1384,400.1 1384.5,392.6 1385,389.2 1385.5,390.7 1386,393.9 1386.5,394.9 1387,399.8 1387.5,406.5 1388,414.3 1388.5,415.1 1389,412.5 1389.5,407 1390,400.8 1390.5,399.4 1391,401.5 1391.5,405.2 1392,403.3 1392.5,399.5 1393,396 1393.5,399.7 1394,404.2 1394.5,407.9 1395,407.5 1395.5,407.3 1396,406.9 1396.5,402.9 1397,399.4 1397.5,397.7 1398,401.5 1398.5,404.8 1399,407.7 1399.5,410 1400,409.5 1400.5,404.2 1401,393.3 1401.5,388.5 1402,393.5 1402.5,405.8 1403,416.5 1403.5,420 1404,420.4 1404.5,421.5 1405,421.5 1405.5,419.1 1406,412.7 1406.5,409.8 1407,407.6 1407.5,405.7 1408,401.6 1408.5,401.6 1409,404.6 1409.5,408.1 1410,408.9 1410.5,409.3 1411,411.4 1411.5,412.2 1412,411.7 1412.5,409.3 1413,406.7 1413.5,405.7 1414,406.3 1414.5,407 1415,405 1415.5,401.9 1416,399.6 1416.5,398 1417,397.5 1417.5,398.8 1418,402.6 1418.5,403.1 1419,398.8 1419.5,393.9 1420,396.8 1420.5,405.5 1421,411.7 1421.5,409.5 1422,404 1422.5,400.5 1423,399.6 1423.5,399.1 1424,398.2 1424.5,396.4 1425,395 1425.5,394.3 1426,396.4 1426.5,399.6 1427,404.1 1427.5,410.8 1428,413.5 1428.5,412.2 1429,404.7 1429.5,400.5 1430,400.6 1430.5,406.3 1431,407.5 1431.5,406.5 1432,404.4 1432.5,408.9 1433,415.1 1433.5,420.6 1434,419.2 1434.5,414.3 1435,409.8 1435.5,409 1436,406.7 1436.5,405 1437,404.4 1437.5,407.2 1438,409.8 1438.5,412.3 1439,415.7 1439.5,416 1440,414.2 1440.5,411.1 1441,407.6 1441.5,404.5 1442,401.8 1442.5,400.7 1443,400.6 1443.5,401.5 1444,407.5 1444.5,413.2 1445,417.2 1445.5,413.2 1446,408 1446.5,404.5 1447,406.8 1447.5,407 1448,405.5 1448.5,402.1 1449,404.1 1449.5,408.9 1450,415.3 1450.5,415.4 1451,410.8 1451.5,405.4 1452,407.6 1452.5,412.4 1453,415.1 1453.5,411.7" fill="none" stroke="#000" stroke-width="1.05" stroke-linejoin="miter"/>
<line x1="15" y1="450.4" x2="1453.5" y2="450.4" stroke="#555" stroke-width="1.2" />
<line x1="69.5" y1="450.4" x2="69.5" y2="455.4" stroke="#555" stroke-width="1.1" />
<line x1="147.2" y1="450.4" x2="147.2" y2="455.4" stroke="#555" stroke-width="1.1" />
<line x1="224.8" y1="450.4" x2="224.8" y2="457.8" stroke="#555" stroke-width="1.1" />
<line x1="302.4" y1="450.4" x2="302.4" y2="455.4" stroke="#555" stroke-width="1.1" />
<line x1="380.1" y1="450.4" x2="380.1" y2="455.4" stroke="#555" stroke-width="1.1" />
<line x1="457.7" y1="450.4" x2="457.7" y2="455.4" stroke="#555" stroke-width="1.1" />
<line x1="535.4" y1="450.4" x2="535.4" y2="455.4" stroke="#555" stroke-width="1.1" />
<line x1="613" y1="450.4" x2="613" y2="457.8" stroke="#555" stroke-width="1.1" />
<line x1="690.6" y1="450.4" x2="690.6" y2="455.4" stroke="#555" stroke-width="1.1" />
<line x1="768.3" y1="450.4" x2="768.3" y2="455.4" stroke="#555" stroke-width="1.1" />
<line x1="845.9" y1="450.4" x2="845.9" y2="455.4" stroke="#555" stroke-width="1.1" />
<line x1="923.6" y1="450.4" x2="923.6" y2="455.4" stroke="#555" stroke-width="1.1" />
<line x1="1001.2" y1="450.4" x2="1001.2" y2="457.8" stroke="#555" stroke-width="1.1" />
<line x1="1078.8" y1="450.4" x2="1078.8" y2="455.4" stroke="#555" stroke-width="1.1" />
<line x1="1156.5" y1="450.4" x2="1156.5" y2="455.4" stroke="#555" stroke-width="1.1" />
<line x1="1234.1" y1="450.4" x2="1234.1" y2="455.4" stroke="#555" stroke-width="1.1" />
<line x1="1311.8" y1="450.4" x2="1311.8" y2="455.4" stroke="#555" stroke-width="1.1" />
<line x1="1389.4" y1="450.4" x2="1389.4" y2="457.8" stroke="#555" stroke-width="1.1" />
<text transform="translate(226.8 491.5) scale(1.04 1)" font-family='"DejaVu Sans", "Liberation Sans", sans-serif' font-size="28.5" text-anchor="middle" fill="#000" >8.0</text>
<text transform="translate(615 491.5) scale(1.04 1)" font-family='"DejaVu Sans", "Liberation Sans", sans-serif' font-size="28.5" text-anchor="middle" fill="#000" >7.5</text>
<text transform="translate(1003.2 491.5) scale(1.04 1)" font-family='"DejaVu Sans", "Liberation Sans", sans-serif' font-size="28.5" text-anchor="middle" fill="#000" >7.0</text>
<text transform="translate(1391.4 491.5) scale(1.04 1)" font-family='"DejaVu Sans", "Liberation Sans", sans-serif' font-size="28.5" text-anchor="middle" fill="#000" >6.5</text>
<text x="667.3" y="508.3" font-family='"DejaVu Sans", "Liberation Sans", sans-serif' font-size="17.5" text-anchor="start" fill="#000" >1</text>
<text x="678.4" y="520.8" font-family='"DejaVu Sans", "Liberation Sans", sans-serif' font-size="29.5" text-anchor="start" fill="#000" >H (ppm)</text>
<text x="1443.3" y="102.2" font-family='"DejaVu Sans", "Liberation Sans", sans-serif' font-size="29.5" text-anchor="end" fill="#000" >Off-resonance</text>
<text x="1443.3" y="235.8" font-family='"DejaVu Sans", "Liberation Sans", sans-serif' font-size="29.3" text-anchor="end" fill="#000" >BI-0115 STD +LOX-1</text>
<text x="1443.3" y="363.3" font-family='"DejaVu Sans", "Liberation Sans", sans-serif' font-size="29.3" text-anchor="end" fill="#000" >BI-0115 STD -LOX-1</text>
<text x="-3.2" y="50.2" font-family='"DejaVu Sans", "Liberation Sans", sans-serif' font-size="60" text-anchor="start" fill="#000" >a</text>
</g>
<g id="panel-b-left" class="pb">
<polyline points="132.4,965.7 134.4,965.1 136.4,965.3 138.4,965.8 140.4,965.4 142.4,964.8 144.4,964.8 146.4,964.8 148.4,964.7 150.4,964.7 152.4,964.8 154.4,965 156.4,964.9 158.4,964.7 160.4,964.9 162.4,964.8 164.4,964.3 166.4,964.2 168.4,964.2 170.4,964.1 172.4,964.1 174.4,964.2 176.4,964.3 178.4,964 180.4,963.8 182.4,963.7 184.4,963.5 186.4,963.5 188.4,963.7 190.4,963.8 192.4,964.2 194.4,963.9 196.6,963.2 197.1,947 197.6,936.8 198.1,930.3 198.6,926.2 199.1,923.5 199.6,921.9 200.1,920.8 200.6,920.1 201.1,919.7 201.6,919.4 202.1,919.3 202.6,919.2 203.1,919.1 203.6,919.1 204.1,919 204.6,919 205,919.4 206,919.7 207,920 208,920.5 209,921.1 210,921.9 211,922.9 212,924 213,925.3 214,926.8 215,928.5 216,930.3 217,932.1 218,933.9 219,935.7 220,937.4 221,939 222,940.4 223,941.6 224,942.6 225,943.4 226,944.1 227,944.6 228,945.1 229,945.5 230,945.9 231,946.2 232,946.4 233,946.5 234,946.6 235,946.6 236,946.6 237,946.6 238,946.6 239,946.7 240,946.7 241,946.8 242,946.8 243,946.9 244,947 245,947.1 246,947.2 247,947.3 248,947.4 249,947.4 250,947.4 251,947.3 252,947.3 253,947.2 254,947.1 255,947 256,946.9 257,946.9 258,946.9 259,947 260,947.1 261,947.2 262,947.2 263,947.1 264,947 265,946.9 266,946.8 267,946.7 268,946.7 269,946.8 270,946.9 271,947 272,947.2 273,947.3 274,947.4 275,947.5 276,947.6 277,947.6 278,947.6 279,947.5 280,947.4 281,947.3 282,947.3 283,947.3 284,947.3 285,947.3 286,947.4 287,947.4 288,947.4 289,947.3 290,947.3 291,947.2 292,947.1 293,946.9 294,946.9 295,946.8 296,946.8 297,946.8 298,946.8 299,946.8 300,946.8 301,946.9 302,946.9 303,946.9 304,946.9 305,946.9 306,946.8 307,946.7 308,946.7 309,946.7 310,946.8 311,946.9 312,947 313,947.1 314,947.1 315,947 316,947 317,946.9 318,946.9 319,946.9 320,947 321,947.2 322,947.3 323,947.4 324,947.5 325,947.6 326,947.5 327,947.5 328,947.4 329,947.3 330,947.3 331,947.3 332,947.3 333,947.3 334,947.4 335,947.4 336,947.4 337,947.4 338,947.3 339,947.2 340,947.1 341,947 342,946.9 343,946.9 344,946.9 345,946.9 346,947.1 347,947.2 348,947.3 349,947.4 350,947.5 351,947.7 352,947.8 353,947.9 354,948 355,948 356,947.9 357,947.8 358,947.7 359,947.6 360,947.6 361,947.7 362,947.8 363,948 364,948 365,948 366,947.9 367,947.8 368,947.6 369,947.4 370,947.3 371,947.2 372,947.2 373,947.2 374,947.2 375,947.3 376,947.3 377,947.4 378,947.5 379,947.6 380,947.7 381,947.8 382,947.8 383,947.9 384,947.9 385,947.9 386,947.9 387,947.8 388,947.7 389,947.6 390,947.6 391,947.6 392,947.6 393,947.6 394,947.6 395,947.7 395.2,947.7 395.5,964.5 397.6,964.5 397.8,958 398,950.8 400,954.2 402,956.5 404,958 406,959.2 408,959.9 410,960.5 412,960.9 414,961.4 416,961.6 418,961.6 420,961.5 422,961.4 424,961.6 426,961.7 428,961.8 430,961.8 432,961.8 434,961.8 436,961.7 438,961.6 440,961.6 442,961.8 444,961.8 446,961.7 448,961.6 450,961.7 452,961.8 454,961.9 456,961.8 458,961.7 460,961.7 462,961.8 464,962 466,962.1 468,962.2 470,962.1 472,961.8 474,961.3 476,961.1 478,961 480,961.1 482,961.1 484,961.1 486,961 488,961 490,961.3 492,961.8 494,962 496,962 498,962 500,962 502,961.8 504,961.5 506,961.3 508,961.2 510,961.1 512,961.1 514,961.2 516,961.3 518,961.4 520,961.4 522,961.4 524,961.6 526,961.9 528,962 530,962.1 532,962.2 534,962.1 536,961.8 538,961.5 540,961.3 542,961.2 544,961.2 546,961.1 548,961.1 550,961.3 552,961.5 554,961.6 556,961.5 558,961.5 560,961.5 562,961.6 564,961.7 566,961.8 568,962 570,962.1 572,962.2 574,962.1 576,962 578,962 580,962.1 582,962 584,961.7 586,961.4 588,961.5 590,962 592,962.5 594,962.8 596,962.7 598,962.6 600,962.4 602,962.3 604,962.4 606,962.5 608,962.6 610,962.7 612,962.7 614,962.7 616,962.5 618,962.4 620,962.4 622,962.6 624,962.9 626,963 628,963.1 630,963.1 632,963.1 634,962.9 636,962.8 638,962.9 640,962.9 642,962.8 644,962.7 646,962.6 648,962.7 650,962.8 652,962.9 654,962.8 656,962.9 658,963.1 660,963.3 662,963.2 664,963.1 666,962.9 668,963 670,963.2 672,963.3 674,963.2 676,963.1 678,963 680,963.1 682,963.3 684,963.3 686,963.2 688,963.1 690,963.3 692,963.3 694,963.1 696,962.8 698,962.7" fill="none" stroke="#ff0000" stroke-width="2.6" stroke-linejoin="round" stroke-linecap="butt"/>
<polyline points="132.4,965.9 134.4,965.3 136.4,965.3 138.4,965.7 140.4,965.7 142.4,965.5 144.4,965.3 146.4,965.1 148.4,964.9 150.4,964.9 152.4,964.9 154.4,964.8 156.4,964.7 158.4,965 160.4,965.1 162.4,964.6 164.4,964.5 166.4,964.8 168.4,964.8 170.4,964.9 172.4,964.7 174.4,964.5 176.4,964.6 178.4,964.8 180.4,964.6 182.4,964.4 184.4,964 186.4,963.6 188.4,963.8 190.4,964.3 192.4,964.3 194.4,964.1 196.6,963.2 197.1,926.2 197.6,902.7 198.1,887.8 198.6,878.4 199.1,872.4 199.6,868.6 200.1,866.2 200.6,864.6 201.1,863.6 201.6,863 202.1,862.6 202.6,862.4 203.1,862.2 203.6,862.1 204.1,862.1 204.6,862 205,862.3 206,862.8 207,863.5 208,864.4 209,865.6 210,867.1 211,869 212,871.3 213,874.1 214,877.2 215,880.6 216,884.3 217,888 218,891.8 219,895.4 220,898.7 221,901.7 222,904.4 223,906.6 224,908.6 225,910.2 226,911.5 227,912.6 228,913.5 229,914.1 230,914.6 231,915 232,915.3 233,915.6 234,915.9 235,916.1 236,916.5 237,916.8 238,917.2 239,917.5 240,917.8 241,918 242,918.2 243,918.2 244,918.2 245,918.1 246,918 247,918 248,917.9 249,917.8 250,917.8 251,917.8 252,917.9 253,917.9 254,917.9 255,918 256,918 257,918 258,918 259,918 260,917.9 261,917.8 262,917.7 263,917.5 264,917.3 265,917.1 266,916.9 267,916.7 268,916.5 269,916.3 270,916.2 271,916.2 272,916.2 273,916.2 274,916.3 275,916.4 276,916.5 277,916.5 278,916.5 279,916.5 280,916.5 281,916.5 282,916.6 283,916.5 284,916.5 285,916.4 286,916.3 287,916.1 288,916.1 289,916 290,916 291,916.1 292,916.2 293,916.3 294,916.4 295,916.5 296,916.6 297,916.7 298,916.7 299,916.8 300,916.7 301,916.7 302,916.7 303,916.7 304,916.7 305,916.7 306,916.8 307,916.8 308,916.8 309,916.8 310,916.7 311,916.6 312,916.5 313,916.4 314,916.3 315,916.4 316,916.5 317,916.6 318,916.7 319,916.8 320,916.9 321,917.1 322,917.2 323,917.2 324,917.2 325,917.2 326,917.1 327,916.9 328,916.9 329,916.8 330,916.9 331,917.1 332,917.2 333,917.4 334,917.5 335,917.6 336,917.5 337,917.4 338,917.4 339,917.3 340,917.3 341,917.3 342,917.3 343,917.4 344,917.5 345,917.5 346,917.6 347,917.6 348,917.5 349,917.5 350,917.5 351,917.6 352,917.7 353,917.7 354,917.8 355,917.7 356,917.6 357,917.5 358,917.5 359,917.5 360,917.6 361,917.7 362,917.8 363,917.9 364,918 365,918 366,918 367,918 368,918 369,918 370,918 371,917.9 372,917.8 373,917.8 374,917.8 375,917.8 376,917.9 377,917.9 378,918 379,918.1 380,918.1 381,918.2 382,918.3 383,918.4 384,918.5 385,918.6 386,918.6 387,918.6 388,918.5 389,918.5 390,918.5 391,918.5 392,918.5 393,918.5 394,918.5 395,918.4 395.2,918.4 395.5,955 397.6,955 397.8,958 398,926.8 400,936.9 402,944.2 404,949.5 406,953.2 408,955.6 410,957.3 412,958.7 414,959.8 416,960.4 418,960.6 420,960.7 422,961 424,961.3 426,961.6 428,961.7 430,961.6 432,961.3 434,961.3 436,961.5 438,961.7 440,961.6 442,961.4 444,961.4 446,961.5 448,961.7 450,961.5 452,961.2 454,961.1 456,961.3 458,961.5 460,961.8 462,961.9 464,961.6 466,961.4 468,961.3 470,961.2 472,961.2 474,961.1 476,961.1 478,961 480,961 482,961 484,961 486,961.1 488,961.4 490,961.5 492,961.4 494,961.2 496,961 498,961 500,961.1 502,961 504,960.9 506,960.8 508,961 510,961.2 512,961.3 514,961.3 516,961.1 518,960.9 520,960.9 522,961.1 524,961.3 526,961.4 528,961.3 530,961.2 532,960.9 534,960.5 536,960.3 538,960.3 540,960.5 542,960.6 544,960.8 546,961 548,961.2 550,961.5 552,961.6 554,961.7 556,961.6 558,961.5 560,961.4 562,961.3 564,961.4 566,961.6 568,961.9 570,962 572,962 574,961.9 576,961.7 578,961.6 580,961.6 582,961.7 584,961.9 586,962.1 588,962.4 590,962.5 592,962.4 594,962.3 596,962.4 598,962.4 600,962.3 602,962.4 604,962.3 606,962.2 608,962.2 610,962.4 612,962.7 614,962.9 616,962.8 618,962.7 620,962.5 622,962.4 624,962.4 626,962.3 628,962.1 630,962 632,962.1 634,962.5 636,962.7 638,962.6 640,962.3 642,962.2 644,962.3 646,962.4 648,962.6 650,962.6 652,962.4 654,962.1 656,961.9 658,961.8 660,962 662,962.1 664,962.2 666,962.2 668,962.4 670,962.6 672,962.7 674,962.6 676,962.4 678,962.4 680,962.5 682,962.5 684,962.6 686,962.7 688,962.7 690,962.6 692,962.3 694,962.1 696,961.9 698,961.9" fill="none" stroke="#00ff00" stroke-width="2.6" stroke-linejoin="round" stroke-linecap="butt"/>
<polyline points="132.4,965.7 134.4,965.4 136.4,965 138.4,964.9 140.4,965 142.4,965.2 144.4,965.4 146.4,965.4 148.4,965.4 150.4,965.2 152.4,965.2 154.4,965.2 156.4,964.9 158.4,964.6 160.4,964.7 162.4,964.4 164.4,964.4 166.4,964.6 168.4,964.7 170.4,964.8 172.4,964.5 174.4,964.2 176.4,964.2 178.4,964.4 180.4,964.7 182.4,964.7 184.4,964.4 186.4,964 188.4,964.1 190.4,964.1 192.4,963.7 194.4,963.7 196.6,963.2 197.1,898.7 197.6,857.8 198.1,831.8 198.6,815.3 199.1,804.9 199.6,798.2 200.1,794 200.6,791.3 201.1,789.6 201.6,788.5 202.1,787.9 202.6,787.4 203.1,787.1 203.5,787.2 204.5,788 205.5,788.9 206.5,790 207.5,791.3 208.5,792.9 209.5,794.9 210.5,797.4 211.5,800.5 212.5,804.1 213.5,808.4 214.5,813.1 215.5,818.2 216.5,823.4 217.5,828.7 218.5,833.9 219.5,838.8 220.5,843.3 221.5,847.4 222.5,851 223.5,854.2 224.5,856.9 225.5,859.1 226.5,860.9 227.5,862.3 228.5,863.4 229.5,864.2 230.5,864.8 231.5,865.2 232.5,865.6 233.5,866 234.5,866.4 235.5,866.8 236.5,867.1 237.5,867.5 238.5,867.7 239.5,867.8 240.5,868 241.5,868.1 242.5,868.2 243.5,868.4 244.5,868.6 245.5,868.8 246.5,868.9 247.5,869 248.5,869 249.5,868.9 250.5,868.8 251.5,868.6 252.5,868.4 253.5,868.2 254.5,868.1 255.5,868 256.5,867.9 257.5,867.9 258.5,867.9 259.5,867.9 260.5,867.8 261.5,867.7 262.5,867.7 263.5,867.5 264.5,867.4 265.5,867.2 266.5,867 267.5,866.8 268.5,866.6 269.5,866.5 270.5,866.5 271.5,866.5 272.5,866.6 273.5,866.7 274.5,866.7 275.5,866.7 276.5,866.7 277.5,866.5 278.5,866.3 279.5,866.1 280.5,866.1 281.5,866.1 282.5,866.2 283.5,866.4 284.5,866.5 285.5,866.7 286.5,866.8 287.5,866.9 288.5,866.9 289.5,866.9 290.5,866.9 291.5,866.9 292.5,867 293.5,867 294.5,867 295.5,867 296.5,867 297.5,866.9 298.5,866.9 299.5,866.9 300.5,866.9 301.5,866.9 302.5,866.8 303.5,866.7 304.5,866.7 305.5,866.7 306.5,866.7 307.5,866.7 308.5,866.7 309.5,866.6 310.5,866.6 311.5,866.5 312.5,866.5 313.5,866.4 314.5,866.4 315.5,866.3 316.5,866.4 317.5,866.4 318.5,866.5 319.5,866.6 320.5,866.6 321.5,866.6 322.5,866.5 323.5,866.4 324.5,866.3 325.5,866.2 326.5,866.1 327.5,866.1 328.5,866.2 329.5,866.4 330.5,866.5 331.5,866.6 332.5,866.6 333.5,866.6 334.5,866.6 335.5,866.6 336.5,866.7 337.5,866.8 338.5,866.9 339.5,867.1 340.5,867.2 341.5,867.2 342.5,867.2 343.5,867.2 344.5,867.1 345.5,867.1 346.5,867 347.5,866.9 348.5,866.9 349.5,866.8 350.5,866.8 351.5,866.8 352.5,866.8 353.5,866.8 354.5,866.8 355.5,866.8 356.5,866.8 357.5,866.8 358.5,866.9 359.5,866.9 360.5,867 361.5,866.9 362.5,866.8 363.5,866.8 364.5,866.8 365.5,866.9 366.5,867 367.5,867.1 368.5,867.1 369.5,867.1 370.5,867 371.5,866.8 372.5,866.6 373.5,866.5 374.5,866.5 375.5,866.5 376.5,866.6 377.5,866.7 378.5,866.8 379.5,866.9 380.5,867 381.5,867 382.5,867.1 383.5,867.1 384.5,867.2 385.5,867.4 386.5,867.6 387.5,867.8 388.5,867.9 389.5,868.1 390.5,868.2 391.5,868.2 392.5,868.3 393.5,868.3 394.5,868.2 395.2,868.2 395.5,953.2 397.6,953.2 397.8,958 398,886 400,907.2 402,921.9 404,932 406,939 408,943.8 410,947.2 412,949.8 414,951.7 416,953.2 418,954.3 420,954.8 422,954.9 424,955.1 426,955.5 428,955.7 430,955.7 432,955.6 434,955.5 436,955.5 438,955.3 440,955.2 442,955.2 444,955.5 446,955.9 448,956 450,956 452,955.8 454,955.8 456,955.7 458,955.6 460,955.5 462,955.3 464,955.1 466,955 468,955.2 470,955.4 472,955.6 474,955.7 476,955.6 478,955.6 480,955.7 482,955.9 484,956 486,955.8 488,955.5 490,955.4 492,955.5 494,955.6 496,955.6 498,955.7 500,955.9 502,955.9 504,955.7 506,955.2 508,954.8 510,954.8 512,954.9 514,954.9 516,954.8 518,955 520,955.4 522,955.6 524,955.6 526,955.5 528,955.5 530,955.7 532,955.8 534,955.8 536,955.5 538,955.2 540,955.1 542,955.5 544,956 546,956.4 548,956.4 550,956.2 552,956.1 554,956.2 556,956.3 558,956.2 560,956 562,955.8 564,955.8 566,956 568,956.2 570,956.3 572,956.4 574,956.6 576,956.8 578,956.9 580,956.9 582,956.9 584,957 586,957.1 588,957 590,956.9 592,957 594,957.3 596,957.6 598,957.8 600,957.8 602,957.8 604,957.6 606,957.6 608,957.7 610,957.9 612,958 614,957.8 616,957.6 618,957.5 620,957.6 622,957.8 624,957.8 626,957.7 628,957.8 630,958 632,958.3 634,958.4 636,958.4 638,958.3 640,958.2 642,958.1 644,958.2 646,958.5 648,958.7 650,958.7 652,958.6 654,958.4 656,958.4 658,958.5 660,958.6 662,958.7 664,958.7 666,958.7 668,958.7 670,958.7 672,958.7 674,958.6 676,958.6 678,958.5 680,958.4 682,958.3 684,958.4 686,958.4 688,958.2 690,958.2 692,958.5 694,958.9 696,959.2 698,959.5" fill="none" stroke="#0000ff" stroke-width="2.6" stroke-linejoin="round" stroke-linecap="butt"/>
<polyline points="132.4,965.8 134.4,965.5 136.4,965.4 138.4,965.1 140.4,965.1 142.4,965.5 144.4,965.7 146.4,965.7 148.4,965.5 150.4,965.3 152.4,965.2 154.4,965.1 156.4,965.1 158.4,965.2 160.4,965 162.4,965.1 164.4,965 166.4,964.9 168.4,964.8 170.4,964.9 172.4,964.9 174.4,964.5 176.4,964.2 178.4,964.3 180.4,964.1 182.4,963.8 184.4,964.2 186.4,964.3 188.4,963.7 190.4,963.8 192.4,963.9 194.4,963.6 196.6,963.2 197.1,872.1 197.6,814.3 198.1,777.6 198.6,754.3 199.1,739.5 199.6,730.1 200.1,724.2 200.6,720.4 201.1,718 201.6,716.5 202.1,715.5 202.6,714.9 203.1,714.5 203.6,714.2 204.1,714.1 204.5,714.4 205.5,715.1 206.5,715.9 207.5,717.1 208.5,718.5 209.5,720.4 210.5,722.6 211.5,725.4 212.5,728.7 213.5,732.6 214.5,737 215.5,741.8 216.5,746.9 217.5,752 218.5,757.1 219.5,761.8 220.5,766.1 221.5,769.8 222.5,773 223.5,775.7 224.5,777.9 225.5,779.8 226.5,781.4 227.5,782.9 228.5,784.1 229.5,785.1 230.5,786 231.5,786.7 232.5,787.2 233.5,787.6 234.5,787.9 235.5,788.1 236.5,788.3 237.5,788.6 238.5,789 239.5,789.4 240.5,789.8 241.5,790.2 242.5,790.5 243.5,790.7 244.5,790.8 245.5,790.9 246.5,790.9 247.5,790.8 248.5,790.7 249.5,790.6 250.5,790.4 251.5,790.2 252.5,790 253.5,789.8 254.5,789.6 255.5,789.4 256.5,789.3 257.5,789.3 258.5,789.2 259.5,789.1 260.5,789 261.5,788.8 262.5,788.6 263.5,788.5 264.5,788.4 265.5,788.4 266.5,788.5 267.5,788.6 268.5,788.7 269.5,788.7 270.5,788.7 271.5,788.6 272.5,788.4 273.5,788.2 274.5,788 275.5,787.9 276.5,787.7 277.5,787.6 278.5,787.6 279.5,787.7 280.5,787.8 281.5,787.9 282.5,788.1 283.5,788.1 284.5,788.1 285.5,788 286.5,787.8 287.5,787.7 288.5,787.6 289.5,787.4 290.5,787.4 291.5,787.4 292.5,787.4 293.5,787.4 294.5,787.4 295.5,787.4 296.5,787.4 297.5,787.4 298.5,787.4 299.5,787.4 300.5,787.5 301.5,787.4 302.5,787.4 303.5,787.3 304.5,787.2 305.5,787.2 306.5,787.2 307.5,787.3 308.5,787.3 309.5,787.3 310.5,787.3 311.5,787.3 312.5,787.3 313.5,787.3 314.5,787.4 315.5,787.4 316.5,787.5 317.5,787.5 318.5,787.6 319.5,787.6 320.5,787.6 321.5,787.7 322.5,787.7 323.5,787.7 324.5,787.6 325.5,787.5 326.5,787.5 327.5,787.5 328.5,787.5 329.5,787.5 330.5,787.5 331.5,787.5 332.5,787.5 333.5,787.5 334.5,787.5 335.5,787.6 336.5,787.8 337.5,787.9 338.5,788.1 339.5,788.3 340.5,788.3 341.5,788.4 342.5,788.4 343.5,788.3 344.5,788.3 345.5,788.2 346.5,788.1 347.5,788 348.5,787.9 349.5,787.9 350.5,788 351.5,788.1 352.5,788.2 353.5,788.3 354.5,788.3 355.5,788.2 356.5,788 357.5,787.8 358.5,787.8 359.5,787.8 360.5,787.8 361.5,788 362.5,788.1 363.5,788.2 364.5,788.2 365.5,788.3 366.5,788.3 367.5,788.4 368.5,788.3 369.5,788.3 370.5,788.3 371.5,788.3 372.5,788.4 373.5,788.5 374.5,788.6 375.5,788.7 376.5,788.8 377.5,788.8 378.5,788.8 379.5,788.9 380.5,788.9 381.5,788.9 382.5,788.9 383.5,788.8 384.5,788.7 385.5,788.6 386.5,788.6 387.5,788.6 388.5,788.7 389.5,788.7 390.5,788.7 391.5,788.7 392.5,788.7 393.5,788.7 394.5,788.7 395.2,788.7 395.5,873.7 397.6,873.7 397.8,958 398,822.4 400,863.3 402,892 404,912.1 406,926.1 408,935.7 410,942.5 412,947.4 414,950.7 416,952.9 418,954.5 420,955.7 422,956.6 424,957.2 426,957.4 428,957.5 430,957.6 432,957.6 434,957.5 436,957.4 438,957.6 440,958.2 442,958.5 444,958.6 446,958.5 448,958.5 450,958.4 452,958.2 454,957.9 456,957.7 458,957.7 460,957.7 462,957.9 464,958.1 466,958.3 468,958.4 470,958.4 472,958.1 474,957.6 476,957.4 478,957.6 480,957.8 482,958 484,958 486,958.1 488,958.3 490,958.4 492,958.1 494,957.8 496,957.6 498,957.7 500,957.8 502,957.8 504,957.6 506,957.6 508,957.7 510,957.7 512,957.7 514,957.9 516,958 518,958.1 520,957.9 522,957.8 524,957.7 526,957.8 528,958 530,957.9 532,957.8 534,958 536,958.4 538,958.8 540,958.8 542,958.8 544,958.9 546,958.9 548,958.8 550,958.7 552,958.6 554,958.6 556,958.5 558,958.4 560,958.5 562,958.7 564,959 566,958.9 568,958.5 570,958.4 572,958.6 574,958.9 576,959.2 578,959.4 580,959.3 582,959 584,958.9 586,959.1 588,959.4 590,959.8 592,959.9 594,960 596,960.1 598,960.2 600,960.2 602,960 604,959.9 606,959.9 608,959.9 610,959.9 612,959.9 614,960.1 616,960.2 618,960.2 620,960.3 622,960.5 624,960.5 626,960.4 628,960.3 630,960.4 632,960.4 634,960.4 636,960.2 638,960.2 640,960.5 642,960.6 644,960.5 646,960.2 648,960.3 650,960.5 652,960.7 654,960.7 656,960.7 658,960.8 660,960.9 662,961 664,961.1 666,961.1 668,961.1 670,961 672,960.7 674,960.6 676,960.8 678,960.9 680,961 682,961 684,960.9 686,960.7 688,960.5 690,960.4 692,960.5 694,960.8 696,961.1 698,961.3" fill="none" stroke="#00ffff" stroke-width="2.6" stroke-linejoin="round" stroke-linecap="butt"/>
<polyline points="132.4,965.6 134.4,965.9 136.4,966 138.4,965.7 140.4,965.7 142.4,965.6 144.4,965.4 146.4,965.1 148.4,964.9 150.4,964.9 152.4,964.9 154.4,964.8 156.4,964.7 158.4,964.8 160.4,965 162.4,965.3 164.4,965.2 166.4,964.8 168.4,964.6 170.4,964.7 172.4,964.7 174.4,964.4 176.4,964 178.4,963.9 180.4,964.2 182.4,964.5 184.4,964.3 186.4,964.1 188.4,964.2 190.4,964.1 192.4,963.9 194.4,963.5 196.6,963.2 197.1,851.3 197.6,780.3 198.1,735.2 198.6,706.6 199.1,688.4 199.6,676.9 200.1,669.6 200.6,664.9 201.1,662 201.6,660.1 202.1,658.9 202.6,658.2 203.1,657.7 203.6,657.4 204.1,657.2 204.6,657.1 205,657.2 206,657.7 207,658.4 208,659.2 209,660.3 210,661.7 211,663.4 212,665.4 213,667.7 214,670.3 215,673.2 216,676.3 217,679.5 218,682.8 219,686.1 220,689.2 221,692.1 222,694.8 223,697.1 224,699.1 225,700.7 226,701.9 227,703 228,703.8 229,704.4 230,704.9 231,705.3 232,705.6 233,705.7 234,705.9 235,706.1 236,706.3 237,706.7 238,707 239,707.4 240,707.8 241,708.2 242,708.4 243,708.6 244,708.8 245,708.8 246,708.9 247,708.9 248,708.8 249,708.8 250,708.6 251,708.5 252,708.3 253,708.2 254,708.1 255,708 256,708 257,707.9 258,707.8 259,707.7 260,707.5 261,707.3 262,707.2 263,707.1 264,706.9 265,706.8 266,706.6 267,706.4 268,706.2 269,706 270,705.9 271,705.8 272,705.8 273,705.9 274,705.9 275,705.9 276,706 277,706 278,706 279,706.1 280,706.1 281,706.1 282,706.1 283,706 284,705.9 285,705.8 286,705.8 287,705.8 288,705.8 289,705.9 290,705.9 291,705.9 292,705.8 293,705.7 294,705.6 295,705.5 296,705.3 297,705.2 298,705.2 299,705.1 300,705 301,705 302,705 303,705 304,705.1 305,705.2 306,705.3 307,705.4 308,705.6 309,705.7 310,705.7 311,705.8 312,705.7 313,705.7 314,705.6 315,705.5 316,705.5 317,705.5 318,705.5 319,705.5 320,705.4 321,705.4 322,705.3 323,705.2 324,705.2 325,705.2 326,705.2 327,705.3 328,705.3 329,705.3 330,705.4 331,705.4 332,705.5 333,705.6 334,705.7 335,705.7 336,705.8 337,705.8 338,705.7 339,705.7 340,705.6 341,705.6 342,705.6 343,705.6 344,705.6 345,705.7 346,705.7 347,705.7 348,705.7 349,705.7 350,705.6 351,705.6 352,705.6 353,705.7 354,705.8 355,705.9 356,705.9 357,706 358,706 359,706 360,706.1 361,706.3 362,706.4 363,706.5 364,706.4 365,706.3 366,706.1 367,706 368,705.8 369,705.8 370,705.8 371,705.9 372,706 373,706.2 374,706.3 375,706.4 376,706.5 377,706.5 378,706.4 379,706.3 380,706.3 381,706.2 382,706.3 383,706.3 384,706.4 385,706.5 386,706.5 387,706.5 388,706.4 389,706.3 390,706.3 391,706.3 392,706.4 393,706.5 394,706.5 395,706.5 395.2,706.5 395.5,791.5 397.6,791.5 397.8,958 398,756.9 400,817.2 402,859.5 404,889.2 406,909.9 408,924.2 410,934.1 412,941 414,945.9 416,949.5 418,952.1 420,953.9 422,955.2 424,955.9 426,956.3 428,956.7 430,956.9 432,957 434,957.2 436,957.6 438,957.7 440,957.7 442,957.5 444,957.4 446,957.5 448,957.5 450,957.5 452,957.5 454,957.6 456,957.7 458,957.6 460,957.4 462,957.2 464,957.1 466,957.1 468,957 470,957 472,957.2 474,957.5 476,957.7 478,957.8 480,957.6 482,957.3 484,957.1 486,957 488,957.1 490,957.4 492,957.6 494,957.8 496,957.9 498,957.7 500,957.4 502,957.2 504,957 506,956.9 508,956.7 510,956.7 512,956.9 514,957.1 516,957.2 518,957.3 520,957.4 522,957.6 524,957.7 526,957.8 528,957.7 530,957.6 532,957.5 534,957.5 536,957.3 538,957.3 540,957.2 542,957.1 544,957.1 546,957.1 548,957.3 550,957.5 552,957.5 554,957.4 556,957.4 558,957.6 560,957.7 562,957.7 564,957.7 566,957.7 568,957.6 570,957.7 572,957.9 574,957.9 576,957.8 578,957.8 580,958 582,958.3 584,958.5 586,958.4 588,958.4 590,958.4 592,958.5 594,958.6 596,958.7 598,958.9 600,959.1 602,959.2 604,959.2 606,959.2 608,959.2 610,959.3 612,959.3 614,959.5 616,959.7 618,959.9 620,959.8 622,959.6 624,959.4 626,959.4 628,959.5 630,959.3 632,959.1 634,959.3 636,959.6 638,959.7 640,959.7 642,959.7 644,959.9 646,960 648,959.8 650,959.6 652,959.4 654,959.4 656,959.6 658,960 660,960.3 662,960.3 664,960.1 666,960 668,960 670,960.1 672,960 674,960.1 676,960.4 678,960.7 680,960.9 682,960.8 684,960.6 686,960.4 688,960.3 690,960.3 692,960.3 694,960.3 696,960.3 698,960.4" fill="none" stroke="#ff00ff" stroke-width="2.6" stroke-linejoin="round" stroke-linecap="butt"/>
<polyline points="132.4,965.8 134.4,965.4 136.4,965.3 138.4,965.4 140.4,965.5 142.4,965.4 144.4,965.5 146.4,965.3 148.4,965.2 150.4,965.1 152.4,964.8 154.4,964.6 156.4,964.6 158.4,964.8 160.4,964.8 162.4,964.8 164.4,965.1 166.4,965.1 168.4,964.7 170.4,964.5 172.4,964.4 174.4,964.1 176.4,964.4 178.4,964.8 180.4,964.7 182.4,964.6 184.4,964.6 186.4,964.6 188.4,964.5 190.4,964 192.4,963.8 194.4,964.1 196.6,963.2 197.1,837.8 197.6,758.2 198.1,707.7 198.6,675.7 199.1,655.3 199.6,642.4 200.1,634.2 200.6,629 201.1,625.7 201.6,623.6 202.1,622.2 202.6,621.4 203.1,620.9 203.6,620.5 204.1,620.3 204.6,620.2 205.1,620.1 205.6,620 206,620.5 207,620.8 208,621.2 209,621.6 210,622.2 211,623 212,623.9 213,625 214,626.3 215,627.8 216,629.4 217,631.1 218,632.9 219,634.6 220,636.2 221,637.6 222,638.8 223,639.9 224,640.8 225,641.7 226,642.4 227,643.1 228,643.7 229,644.2 230,644.7 231,645.1 232,645.5 233,645.8 234,646.1 235,646.4 236,646.6 237,646.8 238,647 239,647.1 240,647.3 241,647.4 242,647.4 243,647.3 244,647.3 245,647.2 246,647 247,646.8 248,646.6 249,646.4 250,646.2 251,645.9 252,645.7 253,645.6 254,645.5 255,645.4 256,645.3 257,645.2 258,645.1 259,645.1 260,645 261,644.9 262,644.8 263,644.7 264,644.6 265,644.5 266,644.5 267,644.5 268,644.5 269,644.6 270,644.6 271,644.5 272,644.4 273,644.3 274,644.2 275,644.1 276,644.1 277,644.1 278,644.1 279,644.1 280,644.1 281,644.1 282,644.1 283,644.2 284,644.3 285,644.3 286,644.3 287,644.4 288,644.4 289,644.4 290,644.4 291,644.4 292,644.3 293,644.2 294,644.1 295,644.1 296,644 297,644 298,644 299,644.1 300,644.2 301,644.3 302,644.4 303,644.4 304,644.4 305,644.4 306,644.3 307,644.3 308,644.3 309,644.4 310,644.5 311,644.6 312,644.6 313,644.6 314,644.5 315,644.4 316,644.3 317,644.1 318,644 319,644 320,644 321,644.1 322,644.1 323,644.1 324,644 325,644 326,643.9 327,643.8 328,643.7 329,643.7 330,643.6 331,643.6 332,643.7 333,643.7 334,643.7 335,643.8 336,643.8 337,643.8 338,643.8 339,643.8 340,643.8 341,643.9 342,644 343,644.1 344,644.2 345,644.3 346,644.3 347,644.4 348,644.4 349,644.3 350,644.3 351,644.2 352,644.1 353,644.1 354,644.2 355,644.3 356,644.4 357,644.6 358,644.7 359,644.8 360,645 361,645.1 362,645.1 363,645.1 364,645 365,644.9 366,644.8 367,644.6 368,644.6 369,644.5 370,644.6 371,644.8 372,645 373,645.2 374,645.4 375,645.5 376,645.5 377,645.4 378,645.4 379,645.3 380,645.3 381,645.3 382,645.4 383,645.5 384,645.7 385,645.8 386,645.8 387,645.9 388,645.9 389,645.8 390,645.7 391,645.6 392,645.5 393,645.4 394,645.4 395,645.5 395.2,645.5 395.5,730.5 397.6,730.5 397.8,958 398,708.2 400,783.5 402,836 404,872.8 406,898.7 408,916.8 410,929.4 412,938.1 414,944.2 416,948.3 418,951.3 420,953.5 422,955 424,956 426,956.7 428,957.3 430,957.7 432,958 434,958.2 436,958.6 438,958.8 440,958.8 442,958.5 444,958.2 446,958.2 448,958.4 450,958.6 452,958.7 454,958.6 456,958.4 458,958.1 460,957.8 462,957.6 464,957.6 466,957.6 468,957.6 470,957.7 472,957.9 474,958.1 476,958.2 478,958 480,957.7 482,957.5 484,957.7 486,958.2 488,958.5 490,958.4 492,958.1 494,958 496,958 498,958 500,957.8 502,957.6 504,957.5 506,957.8 508,958 510,957.9 512,957.7 514,957.7 516,957.8 518,958 520,958.1 522,958.2 524,958.1 526,958.1 528,958.1 530,958.1 532,958.2 534,958.5 536,958.6 538,958.4 540,958.3 542,958.3 544,958.4 546,958.4 548,958.2 550,958 552,958.3 554,958.9 556,959.3 558,959.5 560,959.5 562,959.4 564,959.2 566,959.1 568,958.9 570,958.9 572,959 574,959.2 576,959.2 578,959.3 580,959.3 582,959.3 584,959.3 586,959.6 588,959.8 590,959.9 592,959.9 594,960 596,960 598,960 600,959.9 602,959.8 604,959.7 606,959.8 608,959.9 610,960 612,960 614,960.2 616,960.2 618,960 620,959.8 622,959.8 624,959.9 626,960.1 628,960.2 630,960.1 632,960 634,960.1 636,960.4 638,960.4 640,960.4 642,960.2 644,960.2 646,960.3 648,960.5 650,960.8 652,961.1 654,961.3 656,961.4 658,961.3 660,961.4 662,961.4 664,961.3 666,961 668,960.8 670,960.9 672,961.1 674,961 676,960.9 678,961 680,961.2 682,961.3 684,961.2 686,961 688,960.9 690,960.9 692,961.2 694,961.5 696,961.6 698,961.5" fill="none" stroke="#ff8000" stroke-width="2.6" stroke-linejoin="round" stroke-linecap="butt"/>
<polyline points="132.4,965.8 134.4,966 136.4,966.2 138.4,966 140.4,965.6 142.4,965.6 144.4,965.8 146.4,965.5 148.4,965.2 150.4,965.4 152.4,965.2 154.4,965 156.4,965.2 158.4,965.4 160.4,965.1 162.4,964.8 164.4,964.5 166.4,964.5 168.4,964.7 170.4,964.6 172.4,964.6 174.4,964.7 176.4,964.6 178.4,964.6 180.4,964.2 182.4,963.9 184.4,963.7 186.4,963.7 188.4,964 190.4,964.2 192.4,964.1 194.4,963.9 196.6,963.2 197.1,826.5 197.6,739.8 198.1,684.7 198.6,649.7 199.1,627.5 199.6,613.5 200.1,604.5 200.6,598.8 201.1,595.2 201.6,593 202.1,591.5 202.6,590.6 203.1,590 203.6,589.6 204.1,589.4 204.6,589.2 205.1,589.2 205.6,589.1 206.1,589.1 206.6,589 207.1,589 207.6,589 208,589.6 209,589.7 210,589.8 211,589.9 212,590 213,590.3 214,590.8 215,591.6 216,592.9 217,594.6 218,596.3 219,597.7 220,598.8 221,599.5 222,599.9 223,600.1 224,600.2 225,600.2 226,600.3 227,600.3 228,600.4 229,600.5 230,600.6 231,600.6 232,600.5 233,600.4 234,600.3 235,600.2 236,600.1 237,600 238,599.9 239,599.9 240,599.9 241,599.8 242,599.8 243,599.8 244,599.7 245,599.6 246,599.4 247,599.3 248,599.3 249,599.4 250,599.5 251,599.5 252,599.6 253,599.6 254,599.5 255,599.4 256,599.3 257,599.2 258,599.1 259,599 260,598.9 261,598.8 262,598.6 263,598.5 264,598.5 265,598.4 266,598.3 267,598.3 268,598.2 269,598.1 270,598 271,597.9 272,597.8 273,597.8 274,597.8 275,597.8 276,597.7 277,597.7 278,597.7 279,597.7 280,597.8 281,597.8 282,597.9 283,598 284,597.9 285,597.8 286,597.6 287,597.4 288,597.3 289,597.1 290,597 291,596.9 292,596.8 293,596.8 294,596.8 295,596.9 296,596.9 297,596.9 298,596.9 299,596.8 300,596.7 301,596.6 302,596.6 303,596.5 304,596.4 305,596.3 306,596.3 307,596.2 308,596.2 309,596.3 310,596.5 311,596.7 312,596.9 313,597 314,597.1 315,597.1 316,597.1 317,597 318,596.8 319,596.7 320,596.5 321,596.4 322,596.3 323,596.2 324,596.2 325,596.3 326,596.5 327,596.6 328,596.8 329,596.9 330,596.9 331,596.9 332,596.7 333,596.5 334,596.3 335,596.1 336,596 337,595.9 338,595.8 339,595.9 340,596 341,596.1 342,596.3 343,596.5 344,596.6 345,596.7 346,596.7 347,596.7 348,596.7 349,596.7 350,596.8 351,596.8 352,596.8 353,596.8 354,596.8 355,596.7 356,596.6 357,596.5 358,596.5 359,596.6 360,596.6 361,596.7 362,596.7 363,596.7 364,596.6 365,596.6 366,596.5 367,596.5 368,596.6 369,596.7 370,596.7 371,596.8 372,596.8 373,596.8 374,596.7 375,596.7 376,596.6 377,596.6 378,596.6 379,596.7 380,596.7 381,596.7 382,596.7 383,596.7 384,596.7 385,596.6 386,596.5 387,596.4 388,596.4 389,596.4 390,596.3 391,596.3 392,596.3 393,596.4 394,596.3 395,596.3 395.2,596.3 395.5,681.3 397.6,681.3 397.8,958 398,669.1 400,756.3 402,817.2 404,860.1 406,890.3 408,911.4 410,926.2 412,936.3 414,943.1 416,947.8 418,951.1 420,953.5 422,955.3 424,956.6 426,957.7 428,958.3 430,958.5 432,958.5 434,958.6 436,958.9 438,959.1 440,959.2 442,959.1 444,959 446,959 448,959 450,959.1 452,959.3 454,959.5 456,959.4 458,959.2 460,959.1 462,959.1 464,959.2 466,959.2 468,959.2 470,959.1 472,958.9 474,958.9 476,959 478,959 480,959 482,959 484,959.1 486,959.2 488,959.2 490,959.1 492,958.8 494,958.5 496,958.2 498,958.1 500,958.2 502,958.6 504,958.8 506,958.5 508,958.2 510,958 512,958.2 514,958.4 516,958.5 518,958.6 520,958.6 522,958.7 524,958.9 526,959 528,959 530,958.9 532,958.8 534,958.8 536,958.9 538,958.9 540,958.9 542,958.9 544,958.7 546,958.5 548,958.5 550,958.8 552,959 554,959.1 556,959 558,958.9 560,958.8 562,958.9 564,959.2 566,959.3 568,959.2 570,959.1 572,959.2 574,959.5 576,959.9 578,960.1 580,960 582,959.8 584,959.9 586,960.2 588,960.5 590,960.7 592,960.9 594,960.8 596,960.7 598,960.5 600,960.4 602,960.5 604,960.7 606,960.9 608,960.9 610,960.8 612,960.8 614,960.9 616,961.1 618,961.2 620,961.1 622,961 624,961.1 626,961.2 628,961.2 630,961.3 632,961.4 634,961.4 636,961.3 638,961.2 640,961.1 642,961.1 644,961.2 646,961.4 648,961.6 650,961.6 652,961.5 654,961.5 656,961.4 658,961.2 660,960.9 662,960.8 664,961 666,961 668,960.9 670,960.8 672,960.9 674,961 676,961 678,961 680,961 682,961.1 684,961.3 686,961.6 688,961.8 690,961.7 692,961.5 694,961.5 696,961.6 698,961.7" fill="none" stroke="#008080" stroke-width="2.6" stroke-linejoin="round" stroke-linecap="butt"/>
<polyline points="196.8,963.2 197.2,960.8 197.8,958.7 198.2,956.9 198.8,955.3 199.2,953.9 199.8,952.7 200.2,951.6 200.8,950.7 201.2,949.9 201.8,949.2 202.2,948.6 202.8,948.1 203.2,947.7 203.8,947.3 204.2,946.9 204.8,946.6 205.2,946.4 205.8,946.1 206.2,945.9 206.8,945.8 207.2,945.6 207.8,945.5 208.2,945.4 208.8,945.3 209.2,945.2 209.8,945.1 210.2,945 210.8,945 211.2,944.9 211.8,944.9 212.2,944.9 212.8,944.8 213.2,944.8 213.8,944.8 214.2,944.7 214.8,944.7 215.2,944.7 215.8,944.7 216.2,944.7 216.8,944.7 217.2,944.7 217.8,944.7 218.2,944.6 218.8,944.6 219.2,944.6 219.8,944.6 220.2,944.6 220.8,944.6 221.2,944.6 396.6,944.6 396.8,945 397.2,947 397.8,948.9 398.2,950.5 398.8,951.9 399.2,953.2 399.8,954.3 400.2,955.4 400.8,956.3 401.2,957.1 401.8,957.8 402.2,958.4 402.8,959 403.2,959.5 403.8,959.9 404.2,960.3 404.8,960.7 405.2,961 405.8,961.3 406.2,961.6 406.8,961.8 407.2,962 407.8,962.2 408.2,962.3 408.8,962.5 409.2,962.6 409.8,962.7 410.2,962.8 410.8,962.9 411.2,963 411.8,963 412.2,963.1 412.8,963.1 413.2,963.2 413.8,963.2 414.2,963.3 414.8,963.3 415.2,963.3 415.8,963.4 416.2,963.4 416.8,963.4 417.2,963.4 417.8,963.5 418.2,963.5 418.8,963.5 419.2,963.5 419.8,963.5 420.2,963.5 420.8,963.5 421.2,963.5 421.8,963.5 422.2,963.6 422.8,963.6 423.2,963.6 423.8,963.6 424.2,963.6 424.8,963.6 425.2,963.6 425.8,963.6 426.2,963.6 426.8,963.6 427.2,963.6 427.8,963.6 428.2,963.6 428.8,963.6 429.2,963.6 429.8,963.6 430.2,963.6 430.8,963.6 431.2,963.6 431.8,963.6 432.2,963.6 432.8,963.6 433.2,963.6 433.8,963.6 434.2,963.6 434.8,963.6 435.2,963.6 435.8,963.6 436.2,963.6 699.8,963.6" fill="none" stroke="#000" stroke-width="1.6" stroke-linejoin="round"/>
<polyline points="196.8,963.2 197.2,956.6 197.8,950.9 198.2,945.9 198.8,941.6 199.2,937.8 199.8,934.5 200.2,931.7 200.8,929.2 201.2,927 201.8,925.1 202.2,923.5 202.8,922.1 203.2,920.8 203.8,919.8 204.2,918.8 204.8,918 205.2,917.3 205.8,916.7 206.2,916.1 206.8,915.7 207.2,915.2 207.8,914.9 208.2,914.6 208.8,914.3 209.2,914.1 209.8,913.9 210.2,913.7 210.8,913.5 211.2,913.4 211.8,913.3 212.2,913.2 212.8,913.1 213.2,913 213.8,913 214.2,912.9 214.8,912.8 215.2,912.8 215.8,912.8 216.2,912.7 216.8,912.7 217.2,912.7 217.8,912.6 218.2,912.6 218.8,912.6 219.2,912.6 219.8,912.6 220.2,912.6 220.8,912.6 221.2,912.6 396.6,912.5 396.8,912.9 397.2,918.5 397.8,923.4 398.2,927.8 398.8,931.8 399.2,935.3 399.8,938.4 400.2,941.1 400.8,943.6 401.2,945.8 401.8,947.8 402.2,949.5 402.8,951 403.2,952.4 403.8,953.6 404.2,954.7 404.8,955.7 405.2,956.6 405.8,957.3 406.2,958 406.8,958.6 407.2,959.2 407.8,959.7 408.2,960.1 408.8,960.5 409.2,960.8 409.8,961.1 410.2,961.4 410.8,961.6 411.2,961.9 411.8,962.1 412.2,962.2 412.8,962.4 413.2,962.5 413.8,962.6 414.2,962.7 414.8,962.8 415.2,962.9 415.8,963 416.2,963.1 416.8,963.1 417.2,963.2 417.8,963.2 418.2,963.3 418.8,963.3 419.2,963.3 419.8,963.4 420.2,963.4 420.8,963.4 421.2,963.4 421.8,963.4 422.2,963.5 422.8,963.5 423.2,963.5 423.8,963.5 424.2,963.5 424.8,963.5 425.2,963.5 425.8,963.5 426.2,963.5 426.8,963.6 427.2,963.6 427.8,963.6 428.2,963.6 428.8,963.6 429.2,963.6 429.8,963.6 430.2,963.6 430.8,963.6 431.2,963.6 431.8,963.6 432.2,963.6 432.8,963.6 433.2,963.6 433.8,963.6 434.2,963.6 434.8,963.6 435.2,963.6 435.8,963.6 436.2,963.6 699.8,963.6" fill="none" stroke="#000" stroke-width="1.6" stroke-linejoin="round"/>
<polyline points="196.8,963.2 197.2,948.8 197.8,936.4 198.2,925.7 198.8,916.6 199.2,908.7 199.8,901.9 200.2,896.1 200.8,891.1 201.2,886.8 201.8,883.1 202.2,880 202.8,877.3 203.2,874.9 203.8,872.9 204.2,871.2 204.8,869.7 205.2,868.4 205.8,867.3 206.2,866.4 206.8,865.6 207.2,864.9 207.8,864.3 208.2,863.7 208.8,863.3 209.2,862.9 209.8,862.6 210.2,862.3 210.8,862.1 211.2,861.9 211.8,861.7 212.2,861.5 212.8,861.4 213.2,861.3 213.8,861.2 214.2,861.1 214.8,861 215.2,861 215.8,860.9 216.2,860.9 216.8,860.8 217.2,860.8 217.8,860.8 218.2,860.8 218.8,860.7 219.2,860.7 219.8,860.7 220.2,860.7 220.8,860.7 221.2,860.7 396.6,860.6 396.8,861 397.2,872.3 397.8,882.3 398.2,891.2 398.8,899.2 399.2,906.2 399.8,912.5 400.2,918.1 400.8,923.1 401.2,927.6 401.8,931.5 402.2,935 402.8,938.2 403.2,941 403.8,943.5 404.2,945.7 404.8,947.6 405.2,949.4 405.8,950.9 406.2,952.3 406.8,953.6 407.2,954.7 407.8,955.7 408.2,956.5 408.8,957.3 409.2,958 409.8,958.6 410.2,959.2 410.8,959.6 411.2,960.1 411.8,960.5 412.2,960.8 412.8,961.1 413.2,961.4 413.8,961.6 414.2,961.8 414.8,962 415.2,962.2 415.8,962.4 416.2,962.5 416.8,962.6 417.2,962.7 417.8,962.8 418.2,962.9 418.8,963 419.2,963.1 419.8,963.1 420.2,963.2 420.8,963.2 421.2,963.3 421.8,963.3 422.2,963.3 422.8,963.4 423.2,963.4 423.8,963.4 424.2,963.4 424.8,963.4 425.2,963.5 425.8,963.5 426.2,963.5 426.8,963.5 427.2,963.5 427.8,963.5 428.2,963.5 428.8,963.5 429.2,963.5 429.8,963.6 430.2,963.6 430.8,963.6 431.2,963.6 431.8,963.6 432.2,963.6 432.8,963.6 433.2,963.6 433.8,963.6 434.2,963.6 434.8,963.6 435.2,963.6 435.8,963.6 436.2,963.6 699.8,963.6" fill="none" stroke="#000" stroke-width="1.6" stroke-linejoin="round"/>
<polyline points="196.8,963.2 197.2,933.6 197.8,908.9 198.2,888.3 198.8,871 199.2,856.5 199.8,844.4 200.2,834.3 200.8,825.8 201.2,818.7 201.8,812.8 202.2,807.8 202.8,803.7 203.2,800.2 203.8,797.3 204.2,794.9 204.8,792.9 205.2,791.2 205.8,789.8 206.2,788.6 206.8,787.6 207.2,786.7 207.8,786.1 208.2,785.5 208.8,785 209.2,784.6 209.8,784.2 210.2,784 210.8,783.7 211.2,783.5 211.8,783.4 212.2,783.2 212.8,783.1 213.2,783 213.8,782.9 214.2,782.8 214.8,782.8 215.2,782.7 215.8,782.7 216.2,782.7 216.8,782.6 217.2,782.6 217.8,782.6 218.2,782.6 218.8,782.6 219.2,782.6 219.8,782.5 220.2,782.5 220.8,782.5 221.2,782.5 396.6,782.5 396.8,782.9 397.2,802.7 397.8,820.4 398.2,836.1 398.8,850.1 399.2,862.6 399.8,873.7 400.2,883.5 400.8,892.3 401.2,900.1 401.8,907.1 402.2,913.3 402.8,918.8 403.2,923.7 403.8,928.1 404.2,932 404.8,935.5 405.2,938.6 405.8,941.3 406.2,943.8 406.8,945.9 407.2,947.9 407.8,949.6 408.2,951.1 408.8,952.5 409.2,953.7 409.8,954.8 410.2,955.8 410.8,956.6 411.2,957.4 411.8,958.1 412.2,958.7 412.8,959.2 413.2,959.7 413.8,960.1 414.2,960.5 414.8,960.9 415.2,961.2 415.8,961.4 416.2,961.7 416.8,961.9 417.2,962.1 417.8,962.2 418.2,962.4 418.8,962.5 419.2,962.6 419.8,962.7 420.2,962.8 420.8,962.9 421.2,963 421.8,963.1 422.2,963.1 422.8,963.2 423.2,963.2 423.8,963.3 424.2,963.3 424.8,963.3 425.2,963.4 425.8,963.4 426.2,963.4 426.8,963.4 427.2,963.4 427.8,963.5 428.2,963.5 428.8,963.5 429.2,963.5 429.8,963.5 430.2,963.5 430.8,963.5 431.2,963.5 431.8,963.5 432.2,963.6 432.8,963.6 433.2,963.6 433.8,963.6 434.2,963.6 434.8,963.6 435.2,963.6 435.8,963.6 436.2,963.6 699.8,963.6" fill="none" stroke="#000" stroke-width="1.6" stroke-linejoin="round"/>
<polyline points="196.8,963.2 197.2,910.4 197.8,868.3 198.2,834.7 198.8,808 199.2,786.7 199.8,769.8 200.2,756.3 200.8,745.5 201.2,736.9 201.8,730.1 202.2,724.6 202.8,720.3 203.2,716.8 203.8,714.1 204.2,711.9 204.8,710.1 205.2,708.8 205.8,707.6 206.2,706.8 206.8,706.1 207.2,705.5 207.8,705.1 208.2,704.7 208.8,704.4 209.2,704.2 209.8,704 210.2,703.9 210.8,703.7 211.2,703.7 211.8,703.6 212.2,703.5 212.8,703.5 213.2,703.4 213.8,703.4 214.2,703.4 214.8,703.4 215.2,703.4 215.8,703.3 216.2,703.3 216.8,703.3 217.2,703.3 217.8,703.3 218.2,703.3 218.8,703.3 219.2,703.3 219.8,703.3 220.2,703.3 220.8,703.3 221.2,703.3 396.6,703.3 396.8,703.7 397.2,732.2 397.8,757.6 398.2,780.2 398.8,800.4 399.2,818.3 399.8,834.2 400.2,848.4 400.8,861.1 401.2,872.3 401.8,882.4 402.2,891.3 402.8,899.2 403.2,906.3 403.8,912.6 404.2,918.2 404.8,923.2 405.2,927.6 405.8,931.6 406.2,935.1 406.8,938.2 407.2,941 407.8,943.5 408.2,945.7 408.8,947.6 409.2,949.4 409.8,951 410.2,952.3 410.8,953.6 411.2,954.7 411.8,955.7 412.2,956.5 412.8,957.3 413.2,958 413.8,958.6 414.2,959.2 414.8,959.6 415.2,960.1 415.8,960.5 416.2,960.8 416.8,961.1 417.2,961.4 417.8,961.6 418.2,961.8 418.8,962 419.2,962.2 419.8,962.4 420.2,962.5 420.8,962.6 421.2,962.7 421.8,962.8 422.2,962.9 422.8,963 423.2,963.1 423.8,963.1 424.2,963.2 424.8,963.2 425.2,963.3 425.8,963.3 426.2,963.3 426.8,963.4 427.2,963.4 427.8,963.4 428.2,963.4 428.8,963.4 429.2,963.5 429.8,963.5 430.2,963.5 430.8,963.5 431.2,963.5 431.8,963.5 432.2,963.5 432.8,963.5 433.2,963.5 433.8,963.6 434.2,963.6 434.8,963.6 435.2,963.6 435.8,963.6 436.2,963.6 699.8,963.6" fill="none" stroke="#000" stroke-width="1.6" stroke-linejoin="round"/>
<polyline points="196.8,963.2 197.2,877.1 197.8,814.2 198.2,768.1 198.8,734.4 199.2,709.7 199.8,691.7 200.2,678.5 200.8,668.8 201.2,661.8 201.8,656.6 202.2,652.8 202.8,650 203.2,648 203.8,646.5 204.2,645.5 204.8,644.7 205.2,644.1 205.8,643.7 206.2,643.3 206.8,643.1 207.2,643 207.8,642.8 208.2,642.7 208.8,642.7 209.2,642.6 209.8,642.6 210.2,642.6 210.8,642.6 211.2,642.5 211.8,642.5 212.2,642.5 212.8,642.5 213.2,642.5 213.8,642.5 214.2,642.5 214.8,642.5 215.2,642.5 215.8,642.5 216.2,642.5 216.8,642.5 217.2,642.5 217.8,642.5 218.2,642.5 218.8,642.5 219.2,642.5 219.8,642.5 220.2,642.5 220.8,642.5 221.2,642.5 396.6,642.5 396.8,642.9 397.2,678.1 397.8,709.4 398.2,737.3 398.8,762.2 399.2,784.3 399.8,804 400.2,821.5 400.8,837.1 401.2,851 401.8,863.3 402.2,874.4 402.8,884.1 403.2,892.9 403.8,900.6 404.2,907.5 404.8,913.7 405.2,919.2 405.8,924.1 406.2,928.4 406.8,932.3 407.2,935.7 407.8,938.8 408.2,941.5 408.8,943.9 409.2,946.1 409.8,948 410.2,949.7 410.8,951.2 411.2,952.6 411.8,953.8 412.2,954.9 412.8,955.8 413.2,956.7 413.8,957.4 414.2,958.1 414.8,958.7 415.2,959.3 415.8,959.7 416.2,960.2 416.8,960.5 417.2,960.9 417.8,961.2 418.2,961.4 418.8,961.7 419.2,961.9 419.8,962.1 420.2,962.2 420.8,962.4 421.2,962.5 421.8,962.6 422.2,962.7 422.8,962.8 423.2,962.9 423.8,963 424.2,963.1 424.8,963.1 425.2,963.2 425.8,963.2 426.2,963.3 426.8,963.3 427.2,963.3 427.8,963.4 428.2,963.4 428.8,963.4 429.2,963.4 429.8,963.5 430.2,963.5 430.8,963.5 431.2,963.5 431.8,963.5 432.2,963.5 432.8,963.5 433.2,963.5 433.8,963.5 434.2,963.5 434.8,963.6 435.2,963.6 435.8,963.6 436.2,963.6 699.8,963.6" fill="none" stroke="#000" stroke-width="1.6" stroke-linejoin="round"/>
<polyline points="196.8,963.2 197.2,838.9 197.8,757 198.2,703 198.8,667.4 199.2,643.9 199.8,628.4 200.2,618.2 200.8,611.5 201.2,607.1 201.8,604.2 202.2,602.2 202.8,601 203.2,600.1 203.8,599.6 204.2,599.2 204.8,599 205.2,598.8 205.8,598.7 206.2,598.6 206.8,598.6 207.2,598.6 207.8,598.5 208.2,598.5 208.8,598.5 209.2,598.5 209.8,598.5 210.2,598.5 210.8,598.5 211.2,598.5 211.8,598.5 212.2,598.5 212.8,598.5 213.2,598.5 213.8,598.5 214.2,598.5 214.8,598.5 215.2,598.5 215.8,598.5 216.2,598.5 216.8,598.5 217.2,598.5 217.8,598.5 218.2,598.5 218.8,598.5 219.2,598.5 219.8,598.5 220.2,598.5 220.8,598.5 221.2,598.5 396.6,598.5 396.8,598.9 397.2,638.9 397.8,674.6 398.2,706.3 398.8,734.5 399.2,759.7 399.8,782.1 400.2,802 400.8,819.7 401.2,835.5 401.8,849.6 402.2,862.1 402.8,873.2 403.2,883.2 403.8,892 404.2,899.9 404.8,906.9 405.2,913.1 405.8,918.6 406.2,923.6 406.8,928 407.2,931.9 407.8,935.4 408.2,938.5 408.8,941.2 409.2,943.7 409.8,945.9 410.2,947.8 410.8,949.5 411.2,951.1 411.8,952.5 412.2,953.7 412.8,954.8 413.2,955.7 413.8,956.6 414.2,957.4 414.8,958.1 415.2,958.7 415.8,959.2 416.2,959.7 416.8,960.1 417.2,960.5 417.8,960.8 418.2,961.1 418.8,961.4 419.2,961.7 419.8,961.9 420.2,962.1 420.8,962.2 421.2,962.4 421.8,962.5 422.2,962.6 422.8,962.7 423.2,962.8 423.8,962.9 424.2,963 424.8,963.1 425.2,963.1 425.8,963.2 426.2,963.2 426.8,963.3 427.2,963.3 427.8,963.3 428.2,963.4 428.8,963.4 429.2,963.4 429.8,963.4 430.2,963.4 430.8,963.5 431.2,963.5 431.8,963.5 432.2,963.5 432.8,963.5 433.2,963.5 433.8,963.5 434.2,963.5 434.8,963.5 435.2,963.6 435.8,963.6 436.2,963.6 699.8,963.6" fill="none" stroke="#000" stroke-width="1.6" stroke-linejoin="round"/>
<line x1="132.4" y1="964.4" x2="195.5" y2="963.4" stroke="#000" stroke-width="1.6" />
<path d="M196.2 998.6 L195.3 962 L195.5 860 L196.3 700 L197.6 600 L198.4 598 L199.4 600 L200.1 660 L200.3 860 L199.4 935 L198.2 962 L197.2 985 Z" fill="#000"/>
<polyline points="399.6,600 400.5,636.6 401,671.9 401.5,703.4 402,731.4 402.4,756.4 402.9,778.7 403.4,798.6 403.9,816.3 404.4,832.1 404.9,846.2 405.4,858.7 405.9,869.9 406.4,879.9 406.9,888.7 407.4,896.7 407.8,903.7 408.3,910 408.8,915.6 409.3,920.6 409.8,925.1 410.3,929.1 410.8,932.6 411.3,935.8 411.8,938.6 412.2,941.1 412.7,943.3 413.2,945.3 413.7,947.1 414.2,948.7 414.7,950.1 415.2,951.4 415.7,952.5 416.2,953.5 416.7,954.4 417.1,955.2 417.6,955.9 418.1,956.5 418.6,957.1 419.1,957.6 419.6,958 420.1,958.4 420.6,958.8 421.1,959.1 421.6,959.4 422.1,959.6 422.5,959.9 423,960.1 425,960.2" fill="none" stroke="#008080" stroke-width="1.5" />
<path d="M396.5 542.5 L398.5 542.5 L398.6 553 L399.5 553 L399.6 598 L399.5 638.1 L400 673.4 L400.5 704.9 L401 732.9 L401.4 757.9 L401.9 780.2 L402.4 800.1 L402.9 817.8 L403.4 833.6 L403.9 847.7 L404.4 860.2 L404.9 871.4 L405.4 881.4 L405.9 890.2 L406.4 898.2 L406.8 905.2 L407.3 911.5 L407.8 917.1 L408.3 922.1 L408.8 926.6 L409.3 930.6 L409.8 934.1 L410.3 937.3 L410.8 940.1 L411.2 942.6 L411.7 944.8 L412.2 946.8 L412.7 948.6 L413.2 950.2 L413.7 951.6 L414.2 952.9 L414.7 954 L415.2 955 L415.7 955.9 L416.1 956.7 L416.6 957.4 L417.1 958 L417.6 958.6 L418.1 959.1 L418.6 959.5 L419.1 959.9 L419.6 960.3 L420.1 960.6 L420.6 960.9 L421.1 961.1 L421.5 961.4 L422 961.6 L424 964.2 L399 964.2 L397.6 950 L396.2 900 L395.6 553 L396.4 553 Z" fill="#000"/>
<line x1="112" y1="542.2" x2="112" y2="999.4" stroke="#333" stroke-width="1.7" />
<line x1="112" y1="998.6" x2="733.2" y2="998.6" stroke="#333" stroke-width="1.7" />
<line x1="102" y1="963.2" x2="112" y2="963.2" stroke="#333" stroke-width="1.5" />
<text x="96.2" y="970.5" font-family='"Liberation Sans", "DejaVu Sans", sans-serif' font-size="25.6" text-anchor="end" fill="#333" >0</text>
<line x1="107" y1="893.2" x2="112" y2="893.2" stroke="#333" stroke-width="1.5" />
<line x1="102" y1="823.2" x2="112" y2="823.2" stroke="#333" stroke-width="1.5" />
<text x="96.2" y="830.5" font-family='"Liberation Sans", "DejaVu Sans", sans-serif' font-size="25.6" text-anchor="end" fill="#333" >20</text>
<line x1="107" y1="753.2" x2="112" y2="753.2" stroke="#333" stroke-width="1.5" />
<line x1="102" y1="683.2" x2="112" y2="683.2" stroke="#333" stroke-width="1.5" />
<text x="96.2" y="690.5" font-family='"Liberation Sans", "DejaVu Sans", sans-serif' font-size="25.6" text-anchor="end" fill="#333" >40</text>
<line x1="107" y1="613.2" x2="112" y2="613.2" stroke="#333" stroke-width="1.5" />
<line x1="102" y1="543.2" x2="112" y2="543.2" stroke="#333" stroke-width="1.5" />
<text x="96.2" y="550.5" font-family='"Liberation Sans", "DejaVu Sans", sans-serif' font-size="25.6" text-anchor="end" fill="#333" >60</text>
<line x1="112" y1="998.6" x2="112" y2="1008.9" stroke="#333" stroke-width="1.5" />
<text x="111.7" y="1033.4" font-family='"Liberation Sans", "DejaVu Sans", sans-serif' font-size="25.5" text-anchor="middle" fill="#333" >-50</text>
<line x1="153.9" y1="998.6" x2="153.9" y2="1003.9" stroke="#333" stroke-width="1.5" />
<line x1="195.8" y1="998.6" x2="195.8" y2="1008.9" stroke="#333" stroke-width="1.5" />
<text x="195.8" y="1033.4" font-family='"Liberation Sans", "DejaVu Sans", sans-serif' font-size="25.5" text-anchor="middle" fill="#333" >0</text>
<line x1="237.6" y1="998.6" x2="237.6" y2="1003.9" stroke="#333" stroke-width="1.5" />
<line x1="279.5" y1="998.6" x2="279.5" y2="1008.9" stroke="#333" stroke-width="1.5" />
<text x="279.5" y="1033.4" font-family='"Liberation Sans", "DejaVu Sans", sans-serif' font-size="25.5" text-anchor="middle" fill="#333" >50</text>
<line x1="321.4" y1="998.6" x2="321.4" y2="1003.9" stroke="#333" stroke-width="1.5" />
<line x1="363.2" y1="998.6" x2="363.2" y2="1008.9" stroke="#333" stroke-width="1.5" />
<text x="363.2" y="1033.4" font-family='"Liberation Sans", "DejaVu Sans", sans-serif' font-size="25.5" text-anchor="middle" fill="#333" >100</text>
<line x1="405.1" y1="998.6" x2="405.1" y2="1003.9" stroke="#333" stroke-width="1.5" />
<line x1="447" y1="998.6" x2="447" y2="1008.9" stroke="#333" stroke-width="1.5" />
<text x="447" y="1033.4" font-family='"Liberation Sans", "DejaVu Sans", sans-serif' font-size="25.5" text-anchor="middle" fill="#333" >150</text>
<line x1="488.9" y1="998.6" x2="488.9" y2="1003.9" stroke="#333" stroke-width="1.5" />
<line x1="530.8" y1="998.6" x2="530.8" y2="1008.9" stroke="#333" stroke-width="1.5" />
<text x="530.8" y="1033.4" font-family='"Liberation Sans", "DejaVu Sans", sans-serif' font-size="25.5" text-anchor="middle" fill="#333" >200</text>
<line x1="572.6" y1="998.6" x2="572.6" y2="1003.9" stroke="#333" stroke-width="1.5" />
<line x1="614.5" y1="998.6" x2="614.5" y2="1008.9" stroke="#333" stroke-width="1.5" />
<text x="614.5" y="1033.4" font-family='"Liberation Sans", "DejaVu Sans", sans-serif' font-size="25.5" text-anchor="middle" fill="#333" >250</text>
<line x1="656.4" y1="998.6" x2="656.4" y2="1003.9" stroke="#333" stroke-width="1.5" />
<line x1="698.2" y1="998.6" x2="698.2" y2="1008.9" stroke="#333" stroke-width="1.5" />
<text x="698.2" y="1033.4" font-family='"Liberation Sans", "DejaVu Sans", sans-serif' font-size="25.5" text-anchor="middle" fill="#333" >300</text>
<text x="421.5" y="1073.8" font-family='"Liberation Sans", "DejaVu Sans", sans-serif' font-size="24.8" text-anchor="middle" fill="#333" >Time (s)</text>
<text transform="translate(34.4 779) rotate(-90)" font-family='"Liberation Sans", "DejaVu Sans", sans-serif' font-size="24.7" text-anchor="middle" fill="#333" >Response (RU)</text>
<text x="-3" y="573" font-family='"DejaVu Sans", "Liberation Sans", sans-serif' font-size="60" text-anchor="start" fill="#000" class="pl">b</text>
</g>
<g id="panel-b-right" class="pb">
<polyline points="880.4,929.9 880.9,928.4 881.4,927 881.9,925.6 882.3,924.2 882.8,922.8 883.3,921.4 883.8,920 884.3,918.6 884.8,917.2 885.3,915.9 885.7,914.5 886.2,913.1 886.7,911.8 887.2,910.4 887.7,909.1 888.2,907.7" fill="none" stroke="#000" stroke-width="3.7" stroke-linecap="round" stroke-linejoin="round"/>
<polyline points="898.8,879.6 899.3,878.4 899.8,877.2 900.3,876 900.8,874.8 901.3,873.6 901.8,872.4 902.2,871.3 902.7,870.1 903.2,868.9 903.7,867.8 904.2,866.6 904.7,865.5 905.1,864.4 905.6,863.2 906.1,862.1 906.6,861 907.1,859.9 907.6,858.8 908.1,857.7 908.5,856.6 909,855.5 909.5,854.4 910,853.3 910.5,852.2 911,851.2 911.5,850.1 911.9,849 912.4,848 912.9,847 913.4,845.9 913.9,844.9 914.4,843.8 914.9,842.8 915.3,841.8 915.8,840.8 916.3,839.8 916.8,838.8 917.3,837.8 917.8,836.8 918.3,835.8 918.7,834.8 919.2,833.9 919.7,832.9 920.2,831.9 920.7,831 921.2,830 921.6,829.1 922.1,828.1 922.6,827.2 923.1,826.2 923.6,825.3 924.1,824.4 924.6,823.5 925,822.5" fill="none" stroke="#000" stroke-width="3.7" stroke-linecap="round" stroke-linejoin="round"/>
<polyline points="942.5,792.7 944.9,788.9 947.4,785.3 949.8,781.8 952.2,778.3 954.6,775 957.1,771.7 959.5,768.5 961.9,765.4 964.3,762.3 966.8,759.4 969.2,756.5 971.6,753.6 974,750.9 976.5,748.2 978.9,745.6 981.3,743 983.8,740.5 986.2,738 988.6,735.6 991,733.3 993.5,731" fill="none" stroke="#000" stroke-width="3.7" stroke-linecap="round" stroke-linejoin="round"/>
<polyline points="1025,705.3 1027.4,703.6 1029.8,702 1032.3,700.3 1034.7,698.7 1037.1,697.2 1039.6,695.6 1042,694.1 1044.4,692.6 1046.8,691.2 1049.3,689.8 1051.7,688.4 1054.1,687 1056.5,685.6 1059,684.3 1061.4,683 1063.8,681.7 1066.2,680.5 1068.7,679.3 1071.1,678 1073.5,676.9 1075.9,675.7 1078.4,674.5 1080.8,673.4 1083.2,672.3 1085.6,671.2 1088.1,670.1 1090.5,669.1 1092.9,668.1 1095.3,667 1097.8,666 1100.2,665 1102.6,664.1 1105.1,663.1 1107.5,662.2 1109.9,661.3 1112.3,660.3 1114.8,659.5 1117.2,658.6 1119.6,657.7 1122,656.8 1124.5,656 1126.9,655.2 1129.3,654.4 1131.7,653.6 1134.2,652.8 1136.6,652 1139,651.2 1141.4,650.5 1143.9,649.7 1146.3,649" fill="none" stroke="#000" stroke-width="3.7" stroke-linecap="round" stroke-linejoin="round"/>
<polyline points="1175.4,640.9 1177.8,640.3 1180.3,639.7 1182.7,639.1 1185.1,638.5 1187.5,637.9 1190,637.3 1192.4,636.8 1194.8,636.2 1197.2,635.6 1199.7,635.1 1202.1,634.6 1204.5,634 1206.9,633.5 1209.4,633 1211.8,632.5 1214.2,632 1216.6,631.5 1219.1,631 1221.5,630.5 1223.9,630 1226.4,629.5 1228.8,629 1231.2,628.6 1233.6,628.1 1236.1,627.7 1238.5,627.2 1240.9,626.8 1243.3,626.3 1245.8,625.9 1248.2,625.5 1250.6,625 1253,624.6 1255.5,624.2 1257.9,623.8 1260.3,623.4 1262.7,623 1265.2,622.6 1267.6,622.2 1270,621.8 1272.4,621.4 1274.9,621.1 1277.3,620.7 1279.7,620.3 1282.2,619.9 1284.6,619.6 1287,619.2 1289.4,618.9 1291.9,618.5 1294.3,618.2 1296.7,617.8 1299.1,617.5 1301.6,617.1 1304,616.8 1306.4,616.5 1308.8,616.2 1311.3,615.8 1313.7,615.5 1316.1,615.2 1318.5,614.9 1321,614.6 1323.4,614.3 1325.8,614 1328.2,613.7 1330.7,613.4 1333.1,613.1 1335.5,612.8 1337.9,612.5 1340.4,612.2 1342.8,611.9 1345.2,611.6 1347.7,611.3 1350.1,611.1 1352.5,610.8 1354.9,610.5 1357.4,610.3 1359.8,610 1362.2,609.7 1364.6,609.5 1367.1,609.2 1369.5,608.9 1371.9,608.7 1374.3,608.4 1376.8,608.2 1379.2,607.9 1381.6,607.7 1384,607.5 1386.5,607.2 1388.9,607 1391.3,606.7 1393.7,606.5 1396.2,606.3 1398.6,606 1401,605.8 1403.5,605.6 1405.9,605.4 1408.3,605.1 1410.7,604.9 1413.2,604.7 1415.6,604.5 1418,604.3 1420.4,604.1 1422.9,603.8 1425.3,603.6 1427.7,603.4 1430.1,603.2 1432.6,603 1435,602.8 1437.4,602.6 1439.8,602.4 1442.3,602.2 1444.7,602 1447.1,601.8 1449.5,601.6" fill="none" stroke="#000" stroke-width="3.7" stroke-linecap="round" stroke-linejoin="round"/>
<line x1="857.6" y1="537.5" x2="857.6" y2="995" stroke="#333" stroke-width="1.7" />
<line x1="857.6" y1="994.2" x2="1477.8" y2="994.2" stroke="#333" stroke-width="1.7" />
<line x1="847.6" y1="994.2" x2="857.6" y2="994.2" stroke="#333" stroke-width="1.5" />
<text x="841.8" y="1001.2" font-family='"Liberation Sans", "DejaVu Sans", sans-serif' font-size="25.6" text-anchor="end" fill="#333" >0</text>
<line x1="852.1" y1="956.2" x2="857.6" y2="956.2" stroke="#333" stroke-width="1.5" />
<line x1="847.6" y1="918.2" x2="857.6" y2="918.2" stroke="#333" stroke-width="1.5" />
<text x="841.8" y="925.2" font-family='"Liberation Sans", "DejaVu Sans", sans-serif' font-size="25.6" text-anchor="end" fill="#333" >10</text>
<line x1="852.1" y1="880.2" x2="857.6" y2="880.2" stroke="#333" stroke-width="1.5" />
<line x1="847.6" y1="842.2" x2="857.6" y2="842.2" stroke="#333" stroke-width="1.5" />
<text x="841.8" y="849.2" font-family='"Liberation Sans", "DejaVu Sans", sans-serif' font-size="25.6" text-anchor="end" fill="#333" >20</text>
<line x1="852.1" y1="804.2" x2="857.6" y2="804.2" stroke="#333" stroke-width="1.5" />
<line x1="847.6" y1="766.2" x2="857.6" y2="766.2" stroke="#333" stroke-width="1.5" />
<text x="841.8" y="773.2" font-family='"Liberation Sans", "DejaVu Sans", sans-serif' font-size="25.6" text-anchor="end" fill="#333" >30</text>
<line x1="852.1" y1="728.2" x2="857.6" y2="728.2" stroke="#333" stroke-width="1.5" />
<line x1="847.6" y1="690.2" x2="857.6" y2="690.2" stroke="#333" stroke-width="1.5" />
<text x="841.8" y="697.2" font-family='"Liberation Sans", "DejaVu Sans", sans-serif' font-size="25.6" text-anchor="end" fill="#333" >40</text>
<line x1="852.1" y1="652.2" x2="857.6" y2="652.2" stroke="#333" stroke-width="1.5" />
<line x1="847.6" y1="614.2" x2="857.6" y2="614.2" stroke="#333" stroke-width="1.5" />
<text x="841.8" y="621.2" font-family='"Liberation Sans", "DejaVu Sans", sans-serif' font-size="25.6" text-anchor="end" fill="#333" >50</text>
<line x1="852.1" y1="576.2" x2="857.6" y2="576.2" stroke="#333" stroke-width="1.5" />
<line x1="847.6" y1="538.2" x2="857.6" y2="538.2" stroke="#333" stroke-width="1.5" />
<text x="841.8" y="545.2" font-family='"Liberation Sans", "DejaVu Sans", sans-serif' font-size="25.6" text-anchor="end" fill="#333" >60</text>
<line x1="857.6" y1="994.2" x2="857.6" y2="1003.8" stroke="#333" stroke-width="1.5" />
<text x="857.6" y="1028" font-family='"Liberation Sans", "DejaVu Sans", sans-serif' font-size="25.5" text-anchor="middle" fill="#333" >0</text>
<line x1="918.2" y1="994.2" x2="918.2" y2="999.4" stroke="#333" stroke-width="1.5" />
<line x1="978.9" y1="994.2" x2="978.9" y2="1003.8" stroke="#333" stroke-width="1.5" />
<text x="945.9" y="1033.7" font-family='"Liberation Sans", "DejaVu Sans", sans-serif' font-size="24.8" fill="#333">5x10<tspan dy="-12.8" dx="0" font-size="15">-6</tspan></text>
<line x1="1039.5" y1="994.2" x2="1039.5" y2="999.4" stroke="#333" stroke-width="1.5" />
<line x1="1100.2" y1="994.2" x2="1100.2" y2="1003.8" stroke="#333" stroke-width="1.5" />
<text x="1067.2" y="1033.7" font-family='"Liberation Sans", "DejaVu Sans", sans-serif' font-size="24.8" fill="#333">1x10<tspan dy="-12.8" dx="0" font-size="15">-5</tspan></text>
<line x1="1160.8" y1="994.2" x2="1160.8" y2="999.4" stroke="#333" stroke-width="1.5" />
<line x1="1221.5" y1="994.2" x2="1221.5" y2="1003.8" stroke="#333" stroke-width="1.5" />
<text x="1188.5" y="1033.7" font-family='"Liberation Sans", "DejaVu Sans", sans-serif' font-size="24.8" fill="#333">1x10<tspan dy="-12.8" dx="0" font-size="15">-5</tspan></text>
<line x1="1282.2" y1="994.2" x2="1282.2" y2="999.4" stroke="#333" stroke-width="1.5" />
<line x1="1342.8" y1="994.2" x2="1342.8" y2="1003.8" stroke="#333" stroke-width="1.5" />
<text x="1309.8" y="1033.7" font-family='"Liberation Sans", "DejaVu Sans", sans-serif' font-size="24.8" fill="#333">2x10<tspan dy="-12.8" dx="0" font-size="15">-5</tspan></text>
<line x1="1403.5" y1="994.2" x2="1403.5" y2="999.4" stroke="#333" stroke-width="1.5" />
<line x1="1464.1" y1="994.2" x2="1464.1" y2="1003.8" stroke="#333" stroke-width="1.5" />
<text x="1431.1" y="1033.7" font-family='"Liberation Sans", "DejaVu Sans", sans-serif' font-size="24.8" fill="#333">2x10<tspan dy="-12.8" dx="0" font-size="15">-5</tspan></text>
<rect x="858.2" y="969" width="17.8" height="17.8" fill="#ff0000"/>
<rect x="867.7" y="938.2" width="17.8" height="17.8" fill="#00ff00"/>
<rect x="886.6" y="884.6" width="17.8" height="17.8" fill="#0000ff"/>
<rect x="924.5" y="799.9" width="17.8" height="17.8" fill="#00ffff"/>
<rect x="1000.3" y="710.2" width="17.8" height="17.8" fill="#ff00ff"/>
<rect x="1151.9" y="640.6" width="17.8" height="17.8" fill="#ff8000"/>
<rect x="1455.2" y="588.6" width="17.8" height="17.8" fill="#008080"/>
<text x="1167.5" y="1073.6" font-family='"Liberation Sans", "DejaVu Sans", sans-serif' font-size="24.6" text-anchor="middle" fill="#333" >Concentration (M)</text>
<text transform="translate(798.2 782) rotate(-90)" font-family='"Liberation Sans", "DejaVu Sans", sans-serif' font-size="24.6" text-anchor="middle" fill="#333" >Response (RU)</text>
</g>
<g id="panel-c-left">
<polygon points="152.9,1152.6 153.4,1150.6 153.9,1159.1 154.4,1158.5 154.9,1159 155.4,1159.9 155.9,1152.7 156.4,1159.9 156.9,1157.3 157.4,1147.5 157.9,1159.9 158.4,1159.4 158.9,1159.7 159.4,1158.1 159.9,1156.6 160.4,1159.2 160.9,1158.9 161.4,1159.8 161.9,1157 162.4,1160 162.9,1160.7 163.4,1154.6 163.9,1158.6 164.4,1158.8 164.9,1160.1 165.4,1158.6 165.9,1153.1 166.4,1159.7 166.9,1159.8 167.4,1156.8 167.9,1157.3 168.4,1159.6 168.9,1157.3 169.4,1147.5 169.9,1160.4 170.4,1158 170.9,1149.5 171.4,1156.7 171.9,1157 172.4,1154.1 172.9,1159.7 173.4,1158 173.9,1159 174.4,1156.5 174.9,1160.7 175.4,1160.6 175.9,1155.2 176.4,1157.8 176.9,1160 177.4,1156.4 177.9,1160 178.4,1157.1 178.9,1158.5 179.4,1158.5 179.9,1159.9 180.4,1157.7 180.9,1159.9 181.4,1150.8 181.9,1158 182.4,1158.8 182.9,1154.2 183.4,1160.6 183.9,1156.9 184.4,1157.8 184.9,1152.7 185.4,1157.1 185.9,1158 186.4,1156.2 186.9,1152.2 186.9,1172 187.3,1277.6 187.4,1303.3 187.8,1407.9 187.9,1391.9 188.1,1355.9 188.4,1309.9 188.5,1296.5 188.9,1259.5 189.4,1224.2 189.9,1197.1 190.4,1182.5 190.9,1176.4 191.4,1170.2 191.9,1164.6 192.4,1165 192.9,1162.1 193.4,1160.3 193.9,1159.5 194.4,1156.7 194.9,1155.9 195.4,1159.1 195.9,1160.1 196.4,1160.3 196.9,1158.8 197.4,1156.1 197.9,1154.1 198.4,1160.9 198.9,1156.1 199.4,1157.9 199.9,1160 200.4,1159.6 200.9,1159.7 201.4,1159.9 201.9,1153 202.4,1156.9 202.9,1160.3 203.4,1160.4 203.9,1158.6 204.4,1159.6 204.9,1150.6 205.4,1154.8 205.9,1154.8 206.4,1152.7 206.9,1159.4 207.4,1158.4 207.9,1158.7 208.4,1146 208.9,1156.1 209.4,1156.5 209.9,1155.6 210.4,1156.9 210.9,1157.6 211.4,1160.6 211.9,1158.2 211.9,1169 212.3,1304.6 212.4,1335.5 212.8,1465.2 212.9,1443.9 213.1,1397.1 213.4,1343.5 213.5,1328.7 213.9,1281.4 214.4,1237.4 214.9,1207.5 215.4,1192.6 215.9,1182.3 216.4,1168 216.9,1169 217.4,1164.9 217.9,1161.8 218.4,1162.1 218.9,1153.3 219.4,1161.5 219.9,1159.8 220.4,1157 220.9,1156.1 221.4,1159.2 221.9,1157.8 222.4,1161.1 222.9,1159.7 223.4,1160.5 223.9,1160.4 224.4,1154.8 224.9,1159.1 225.4,1160.4 225.9,1157.7 226.4,1159 226.9,1157.6 227.4,1159.5 227.9,1157.4 228.4,1152.3 228.9,1160.2 229.4,1157.6 229.9,1158.2 230.4,1154 230.9,1152.5 231.4,1157.4 231.9,1158.9 232.4,1160.3 232.9,1157.5 233.4,1156.5 233.9,1156.6 234.4,1160.2 234.9,1154.4 235.4,1159.7 235.9,1160.2 236.4,1157.6 236.9,1158.6 236.9,1167 237.3,1288.8 237.4,1315.6 237.8,1436.2 237.9,1418.1 238.1,1377.6 238.4,1327.1 238.5,1313.5 238.9,1269.2 239.4,1232.4 239.9,1202.1 240.4,1189.3 240.9,1177.3 241.4,1171.9 241.9,1166.2 242.4,1164.2 242.9,1160.3 243.4,1163.2 243.9,1158.8 244.4,1161.6 244.9,1159.4 245.4,1155.1 245.9,1160.3 246.4,1160.5 246.9,1160.1 247.4,1154.7 247.9,1158 248.4,1154 248.9,1158.3 249.4,1160.9 249.9,1156.4 250.4,1160.6 250.9,1157.6 251.4,1159.4 251.9,1158.6 252.4,1160.1 252.9,1160.7 253.4,1160.3 253.9,1159.3 254.4,1157.5 254.9,1160.1 255.4,1152.3 255.9,1160.2 256.4,1156 256.9,1156.3 257.4,1155.7 257.9,1153 258.4,1160.2 258.9,1160.3 259.4,1156.6 259.9,1158.7 260.4,1159 260.9,1153.7 261.4,1159.7 261.9,1160.2 261.9,1174.2 262.3,1282.4 262.4,1311.8 262.8,1422.9 262.9,1405.8 263.1,1367.1 263.4,1321 263.5,1306.7 263.9,1260.5 264.4,1228.5 264.9,1202.1 265.4,1187.4 265.9,1180.1 266.4,1164.9 266.9,1168.8 267.4,1166.2 267.9,1162.8 268.4,1163.5 268.9,1153.7 269.4,1160.1 269.9,1158.9 270.4,1160.9 270.9,1158.9 271.4,1156.5 271.9,1154.1 272.4,1160.6 272.9,1160.9 273.4,1157.2 273.9,1158 274.4,1158.7 274.9,1157 275.4,1156.4 275.9,1156 276.4,1158 276.9,1160.7 277.4,1157.5 277.9,1158.5 278.4,1160.4 278.9,1157.9 279.4,1155.7 279.9,1159.9 280.4,1159.4 280.9,1157.9 281.4,1153.2 281.9,1157.5 282.4,1160.4 282.9,1160.3 283.4,1154.9 283.9,1153.5 284.4,1159.3 284.9,1156 285.4,1157.5 285.9,1154.8 286.4,1158.7 286.9,1158.6 286.9,1167.8 287.3,1261.9 287.4,1287.9 287.8,1380.9 287.9,1367.1 288.1,1332.5 288.4,1295.6 288.5,1282.4 288.9,1248.7 289.4,1211.1 289.9,1196.6 290.4,1185 290.9,1172.9 291.4,1166.5 291.9,1166.7 292.4,1163.2 292.9,1157.5 293.4,1160.4 293.9,1159 294.4,1160.1 294.9,1157.9 295.4,1155.3 295.9,1161.2 296.4,1156.7 296.9,1155.9 297.4,1160.9 297.9,1157.5 298.4,1159.9 298.9,1158.7 299.4,1159.1 299.9,1159.7 300.4,1159 300.9,1159.6 301.4,1155.7 301.9,1154.6 302.4,1158.9 302.9,1156.4 303.4,1157 303.9,1158.1 304.4,1160.4 304.9,1149.2 305.4,1157.1 305.9,1158.3 306.4,1157.7 306.9,1159.4 307.4,1158.1 307.9,1156.4 308.4,1157.7 308.9,1148.6 309.4,1157.6 309.9,1158.3 310.4,1154.9 310.9,1158.2 311.4,1156.1 311.9,1154.6 311.9,1166.9 312.3,1252.4 312.4,1267 312.8,1355.2 312.9,1342.6 313.1,1311 313.4,1277.5 313.5,1267.7 313.9,1236.4 314.4,1209.5 314.9,1185.7 315.4,1175.8 315.9,1171.8 316.4,1167.6 316.9,1165.7 317.4,1164 317.9,1163.3 318.4,1158.2 318.9,1159.6 319.4,1161.5 319.9,1151.4 320.4,1154.2 320.9,1155.1 321.4,1158.4 321.9,1158.2 322.4,1156.1 322.9,1158.6 323.4,1160.2 323.9,1156.2 324.4,1158.2 324.9,1159.8 325.4,1157.8 325.9,1158.3 326.4,1153.9 326.9,1156.5 327.4,1160.4 327.9,1158.7 328.4,1159.8 328.9,1157.4 329.4,1159.7 329.9,1156.5 330.4,1158.5 330.9,1155.4 331.4,1157.6 331.9,1160.6 332.4,1153.2 332.9,1157.1 333.4,1157.6 333.9,1160.2 334.4,1158.6 334.9,1158.9 335.4,1159.3 335.9,1157 336.4,1155.4 336.9,1160.2 336.9,1168.1 337.3,1240.1 337.4,1261.5 337.8,1333.2 337.9,1322.1 338.1,1297.1 338.4,1264 338.5,1255 338.9,1227.3 339.4,1203.6 339.9,1186.5 340.4,1178.4 340.9,1170.8 341.4,1166.4 341.9,1160.7 342.4,1161.2 342.9,1150.9 343.4,1154.5 343.9,1159.3 344.4,1157.8 344.9,1160.1 345.4,1159.5 345.9,1158.2 346.4,1158.8 346.9,1158.9 347.4,1160.4 347.9,1156.9 348.4,1155.8 348.9,1160.5 349.4,1160.6 349.9,1160.1 350.4,1156.7 350.9,1156.6 351.4,1155.5 351.9,1160.3 352.4,1156.4 352.9,1158.5 353.4,1160.5 353.9,1158.9 354.4,1156.5 354.9,1157.6 355.4,1153.7 355.9,1158.6 356.4,1154.5 356.9,1155.7 357.4,1158.2 357.9,1159.2 358.4,1157.6 358.9,1159 359.4,1158.9 359.9,1160.6 360.4,1160.7 360.9,1156.6 361.4,1157.9 361.9,1158.9 361.9,1167.3 362.3,1234.1 362.4,1251.9 362.8,1320.7 362.9,1311.3 363.1,1287.3 363.4,1257 363.5,1249.3 363.9,1222.4 364.4,1200.2 364.9,1185.8 365.4,1178.5 365.9,1172.3 366.4,1162 366.9,1156 367.4,1164 367.9,1163.2 368.4,1153.4 368.9,1161.2 369.4,1161.6 369.9,1157.1 370.4,1158.1 370.9,1154.9 371.4,1160.2 371.9,1160.5 372.4,1156 372.9,1157.5 373.4,1156.7 373.9,1155.3 374.4,1155.2 374.9,1158.5 375.4,1160.7 375.9,1156 376.4,1159.7 376.9,1160.4 377.4,1160.3 377.9,1157.1 378.4,1159.3 378.9,1153.7 379.4,1149.3 379.9,1158.1 380.4,1156.5 380.9,1155.5 381.4,1158 381.9,1155.9 382.4,1157.4 382.9,1160.5 383.4,1154.3 383.9,1160.4 384.4,1158.7 384.9,1159.5 385.4,1154.1 385.9,1160.1 386.4,1159.7 386.9,1159.6 386.9,1166.9 387.3,1230.3 387.4,1246.3 387.8,1308.2 387.9,1296.8 388.1,1276.5 388.4,1250.6 388.5,1242.9 388.9,1217.5 389.4,1195.3 389.9,1182.3 390.4,1177.2 390.9,1169.7 391.4,1167.9 391.9,1163.7 392.4,1160.7 392.9,1161 393.4,1156.6 393.9,1160.6 394.4,1160.8 394.9,1159.6 395.4,1157.5 395.9,1159.9 396.4,1160 396.9,1159.8 397.4,1160.8 397.9,1156.1 398.4,1149.9 398.9,1154.1 399.4,1159.8 399.9,1159.3 400.4,1159.8 400.9,1157.7 401.4,1154.9 401.9,1154.4 402.4,1159 402.9,1155.8 403.4,1160.5 403.9,1152.2 404.4,1160.2 404.9,1157.2 405.4,1157.4 405.9,1159.3 406.4,1158.9 406.9,1153.9 407.4,1155.6 407.9,1158.5 408.4,1160.7 408.9,1156.1 409.4,1157 409.9,1160.5 410.4,1153.9 410.9,1156.9 411.4,1151.9 411.9,1147.5 411.9,1164.9 412.3,1231.1 412.4,1249 412.8,1314.7 412.9,1304.2 413.1,1280.8 413.4,1254.2 413.5,1245.1 413.9,1220.7 414.4,1199.5 414.9,1184.9 415.4,1176.2 415.9,1170.6 416.4,1161.9 416.9,1155.8 417.4,1161.3 417.9,1154.5 418.4,1160.7 418.9,1160.4 419.4,1157.4 419.9,1157.1 420.4,1158.1 420.9,1158 421.4,1156 421.9,1156.6 422.4,1156.6 422.9,1160 423.4,1157.8 423.9,1158.1 424.4,1157.8 424.9,1157.6 425.4,1156.9 425.9,1159.6 426.4,1160.8 426.9,1159.6 427.4,1155.9 427.9,1159.7 428.4,1158 428.9,1157.9 429.4,1159.6 429.9,1157.8 430.4,1147 430.9,1156.2 431.4,1159.6 431.9,1159.9 432.4,1155.5 432.9,1159.8 433.4,1158 433.9,1153.7 434.4,1156 434.9,1154.2 435.4,1159.4 435.9,1158.8 436.4,1151.1 436.9,1155.9 436.9,1164.6 437.3,1225.6 437.4,1239.7 437.8,1297.5 437.9,1286.3 438.1,1267.4 438.4,1242.8 438.5,1236.9 438.9,1214.8 439.4,1193.5 439.9,1183.1 440.4,1173.2 440.9,1168.9 441.4,1162.1 441.9,1162 442.4,1158.5 442.9,1161.9 443.4,1160.1 443.9,1155.7 444.4,1158.3 444.9,1157.3 445.4,1159.2 445.9,1159.3 446.4,1156.1 446.9,1157.6 447.4,1156.7 447.9,1160.2 448.4,1160.7 448.9,1159.1 449.4,1159.1 449.9,1155.3 450.4,1156.4 450.9,1160.2 451.4,1157.5 451.9,1158 452.4,1160.5 452.9,1160.3 453.4,1159.9 453.9,1154.1 454.4,1156.7 454.9,1155.8 455.4,1160.7 455.9,1158.7 456.4,1154.9 456.9,1159.3 457.4,1152.3 457.9,1158.4 458.4,1157.6 458.9,1154.1 459.4,1156.7 459.9,1152.8 460.4,1158.6 460.9,1157.4 461.4,1157.2 461.9,1160.1 461.9,1164.5 462.3,1220.2 462.4,1239.5 462.8,1298.5 462.9,1291.2 463.1,1270.2 463.4,1242.7 463.5,1234.5 463.9,1214.4 464.4,1196.5 464.9,1178.7 465.4,1175.2 465.9,1166.9 466.4,1166.7 466.9,1162.3 467.4,1156.9 467.9,1160.5 468.4,1157.7 468.9,1158.1 469.4,1159.3 469.9,1154.1 470.4,1151.4 470.9,1159.5 471.4,1158.9 471.9,1155.8 472.4,1148.2 472.9,1158.9 473.4,1158.4 473.9,1157 474.4,1151.5 474.9,1156.1 475.4,1136 475.9,1156.6 476.4,1154.1 476.9,1157.5 477.4,1150.8 477.9,1148.3 478.4,1154.8 478.9,1155.9 479.4,1157.8 479.9,1147.4 480.4,1146.9 480.9,1139.9 481.4,1155.5 481.9,1144.8 482.4,1156.7 482.9,1156.2 483.4,1150.4 483.9,1149.3 484.4,1140 484.9,1156.2 485.4,1156.9 485.9,1151.4 486.4,1152.5 486.9,1149.4 486.9,1160.9 487.3,1220.3 487.4,1233 487.8,1289.3 487.9,1279.8 488.1,1261.1 488.4,1236.6 488.5,1229.9 488.9,1208.9 489.4,1188.7 489.9,1179.7 490.4,1171.1 490.9,1167.3 491.4,1160.7 491.9,1158.6 492.4,1156.4 492.9,1161 493.4,1147.7 493.9,1124.8 494.4,1159.8 494.9,1152.1 495.4,1157.4 495.9,1152.7 496.4,1158.2 496.9,1157.4 497.4,1159.4 497.9,1152.8 498.4,1158.8 498.9,1157.2 499.4,1160 499.9,1159.2 500.4,1156.7 500.9,1152.6 501.4,1160.1 501.9,1153.5 502.4,1158.5 502.9,1158.3 503.4,1153.6 503.9,1158.8 504.4,1158 504.9,1155.6 505.4,1156.7 505.9,1159.7 506.4,1152.5 506.9,1159.9 507.4,1156.5 507.9,1158.3 508.4,1159.8 508.9,1153.8 509.4,1160.2 509.9,1157.9 510.4,1159.5 510.9,1158.4 511.4,1155.6 511.8,1154 511.9,1162.4 512.3,1217.3 512.4,1229.8 512.8,1285.6 512.9,1277.4 513.1,1258.3 513.4,1236.4 513.5,1229.5 513.9,1209.8 514.4,1189.3 514.9,1181.9 515.4,1167.9 515.9,1158.6 516.4,1163.9 516.9,1158.5 517.4,1161.2 517.9,1159.9 518.4,1161.1 518.9,1160.3 519.4,1161.2 519.9,1156.6 520.4,1158.2 520.9,1157.4 521.4,1158.2 521.9,1159.9 522.4,1155.1 522.9,1158 523.4,1157.1 523.9,1157.2 524.4,1157.8 524.9,1156.6 525.4,1159.1 525.9,1157.1 526.4,1160.6 526.9,1156.3 527.4,1156.6 527.9,1153.5 528.4,1159.9 528.9,1154.2 529.4,1158.6 529.9,1152.1 530.4,1160.4 530.9,1154.5 531.4,1150 531.9,1160.3 532.4,1156.7 532.9,1158.2 533.4,1154.3 533.9,1160.1 534.4,1156.5 534.9,1154.9 535.4,1158.1 535.9,1154.2 536.4,1154.8 536.8,1158.5 536.9,1160.3 537.3,1222 537.4,1235.8 537.8,1289.9 537.9,1281.6 538.1,1262.2 538.4,1236.7 538.5,1229.9 538.9,1212.2 539.4,1191.7 539.9,1180.3 540.4,1173.8 540.9,1166.8 541.4,1164.4 541.9,1160.2 542.4,1159.9 542.9,1162.8 543.4,1160 543.9,1156 544.4,1159.3 544.9,1160.8 545.4,1160.3 545.9,1157.7 546.4,1160.6 546.9,1159.9 547.4,1155.3 547.9,1158.7 548.4,1155.6 548.9,1152.1 549.4,1160.5 549.9,1156.1 550.4,1160.1 550.9,1157.3 551.4,1158.9 551.9,1155.4 552.4,1157.8 552.9,1160.4 553.4,1158.1 553.9,1155.3 554.4,1160.1 554.9,1158.3 555.4,1157.6 555.9,1158.5 556.4,1158.4 556.9,1158.5 557.4,1155.7 557.9,1160.7 558.4,1157.8 558.9,1156.7 559.4,1156.6 559.9,1155 560.4,1153.5 560.9,1157.4 561.4,1158.2 561.8,1156.1 561.9,1166.7 562.3,1216.8 562.4,1230 562.8,1282.4 562.9,1275.2 563.1,1254.6 563.4,1234.8 563.5,1225.6 563.9,1206.3 564.4,1189.4 564.9,1146.5 565.4,1169 565.9,1167.9 566.4,1163.7 566.9,1163 567.4,1159.4 567.9,1156.2 568.4,1161.9 568.9,1157.3 569.4,1160.6 569.9,1157.6 570.4,1158.2 570.9,1158.8 571.4,1146.6 571.9,1157.3 572.4,1160.8 572.9,1158.8 573.4,1158.4 573.9,1155 574.4,1148.9 574.9,1158.4 575.4,1156.7 575.9,1153.6 576.4,1160 576.9,1157.1 577.4,1156.4 577.9,1158.6 578.4,1156.7 578.9,1158.7 579.4,1160.7 579.9,1160.2 580.4,1160.2 580.9,1160.1 581.4,1155.3 581.9,1153.7 582.4,1154.5 582.9,1150.2 583.4,1160 583.9,1155.5 584.4,1158.1 584.9,1159.2 585.4,1159.7 585.9,1160.1 586.4,1157.1 586.8,1158 586.9,1163.3 587.3,1215 587.4,1221.7 587.8,1274.9 587.9,1267.7 588.1,1250.8 588.4,1230.4 588.5,1222.5 588.9,1202.9 589.4,1185.2 589.9,1179.2 590.4,1173 590.9,1161.8 591.4,1161.1 591.9,1157.4 592.4,1162.8 592.9,1160.2 593.4,1159.3 593.9,1149.4 594.4,1157.4 594.9,1158.2 595.4,1155.8 595.9,1159.3 596.4,1159 596.9,1159.2 597.4,1137 597.9,1159 598.4,1158.1 598.9,1160.8 599.4,1157.3 599.9,1152.4 600.4,1160.3 600.9,1158.9 601.4,1158.3 601.9,1157.8 602.4,1156.6 602.9,1159.6 603.4,1157.1 603.9,1155.1 604.4,1159.6 604.9,1159.2 605.4,1160.5 605.9,1158.6 606.4,1152.9 606.9,1148 607.4,1157.6 607.9,1159.2 608.4,1157.2 608.9,1157.1 609.4,1159.6 609.9,1149.4 610.4,1156.7 610.9,1157.5 611.4,1157.3 611.8,1156.8 611.9,1157.7 612.3,1208.9 612.4,1222.3 612.8,1268.4 612.9,1261.9 613.1,1245.9 613.4,1224.4 613.5,1220.7 613.9,1202.9 614.4,1187 614.9,1174.6 615.4,1172.7 615.9,1167.2 616.4,1164.5 616.9,1162 617.4,1158.4 617.9,1157.8 618.4,1160.5 618.9,1161 619.4,1158.7 619.9,1152 620.4,1158.5 620.9,1157.1 621.4,1160.7 621.9,1159.3 622.4,1158 622.9,1152.1 623.4,1159.8 623.9,1157.3 624.4,1157.3 624.9,1159.7 625.4,1158.8 625.9,1160.6 626.4,1155.3 626.9,1156.2 627.4,1159.3 627.9,1159 628.4,1159.8 628.9,1160.4 629.4,1158.4 629.9,1160.4 630.4,1159.5 630.9,1156.4 631.4,1154.2 631.9,1154.1 632.4,1159.1 632.9,1155.4 633.4,1156 633.9,1156.9 634.4,1154.6 634.9,1157.6 635.4,1158.9 635.9,1155.4 636.4,1156.5 636.8,1160 636.9,1160.9 637.3,1206.6 637.4,1215.9 637.8,1259.1 637.9,1251.9 638.1,1238 638.4,1219.3 638.5,1213.9 638.9,1197.1 639.4,1181 639.9,1175.1 640.4,1167.5 640.9,1162.5 641.4,1161.4 641.9,1158.2 642.4,1160.3 642.9,1160.2 643.4,1161.8 643.9,1153 644.4,1161.3 644.9,1160 645.4,1157.3 645.9,1160.5 646.4,1156.2 646.9,1160.7 647.4,1156.6 647.9,1156.8 648.4,1159.2 648.9,1159.3 649.4,1159.4 649.9,1155.8 650.4,1159 650.9,1158.1 651.4,1158 651.9,1158 652.4,1159.1 652.9,1156.5 653.4,1160.4 653.9,1160.3 654.4,1157.1 654.9,1157.7 655.4,1154.7 655.9,1155.6 656.4,1155.4 656.9,1159.2 657.4,1152.5 657.9,1150.4 658.4,1160.6 658.9,1156.9 659.4,1156 659.9,1160.4 660.4,1158.8 660.9,1156.2 661.4,1158.2 661.9,1152.9 662.4,1157.7 662.4,1175 661.9,1176.9 661.4,1175.8 660.9,1174.8 660.4,1175.6 659.9,1175 659.4,1174.7 658.9,1173.8 658.4,1180 657.9,1173.6 657.4,1175.3 656.9,1174.8 656.4,1175 655.9,1176 655.4,1175.8 654.9,1178.4 654.4,1175.7 653.9,1174.9 653.4,1176.6 652.9,1173.8 652.4,1174.4 651.9,1175.9 651.4,1174.5 650.9,1176.3 650.4,1181.4 649.9,1177 649.4,1176 648.9,1176.3 648.4,1175.7 647.9,1177.8 647.4,1178.3 646.9,1174.1 646.4,1174.2 645.9,1179.1 645.4,1180.4 644.9,1174.2 644.4,1175.2 643.9,1174.5 643.4,1177.5 642.9,1180.3 642.4,1177.4 641.9,1176.4 641.4,1178.8 640.9,1182.9 640.4,1185.5 639.9,1196.1 639.4,1197.9 638.9,1210.5 638.5,1225 638.4,1227.9 638.1,1244 637.9,1258.8 637.8,1263.8 637.4,1226 637.3,1218.1 636.9,1184.4 636.8,1178.9 636.4,1175.6 635.9,1180 635.4,1180 634.9,1181.1 634.4,1176.7 633.9,1176.8 633.4,1180.2 632.9,1177.7 632.4,1176.6 631.9,1179.7 631.4,1174.9 630.9,1174.3 630.4,1174.7 629.9,1175.1 629.4,1176.6 628.9,1179.9 628.4,1174.1 627.9,1177.6 627.4,1176.2 626.9,1173.9 626.4,1177.8 625.9,1174.4 625.4,1174.6 624.9,1178 624.4,1179.3 623.9,1174.5 623.4,1176.8 622.9,1178.5 622.4,1175 621.9,1174.4 621.4,1173.4 620.9,1178.6 620.4,1179.1 619.9,1174.2 619.4,1176.6 618.9,1176.2 618.4,1176.2 617.9,1175.7 617.4,1181.7 616.9,1180.5 616.4,1181.3 615.9,1185.5 615.4,1186.2 614.9,1190.5 614.4,1201.3 613.9,1216.9 613.5,1233.4 613.4,1237.1 613.1,1251.9 612.9,1267.4 612.8,1273.1 612.4,1232 612.3,1223 611.9,1182.3 611.8,1174.6 611.4,1178.3 610.9,1177.7 610.4,1180.2 609.9,1173.6 609.4,1176.5 608.9,1182 608.4,1174.1 607.9,1174.9 607.4,1178.8 606.9,1176.4 606.4,1179.6 605.9,1180.4 605.4,1177 604.9,1174.7 604.4,1173.9 603.9,1175.7 603.4,1173.3 602.9,1174.6 602.4,1176.3 601.9,1175 601.4,1173.8 600.9,1177.3 600.4,1175.7 599.9,1177 599.4,1180.1 598.9,1182.3 598.4,1175.5 597.9,1179.8 597.4,1175.1 596.9,1173.5 596.4,1174.6 595.9,1173.5 595.4,1175.2 594.9,1176 594.4,1174.1 593.9,1177.5 593.4,1179.5 592.9,1181.9 592.4,1176.9 591.9,1177.2 591.4,1183.6 590.9,1181.2 590.4,1185.7 589.9,1192.6 589.4,1202.4 588.9,1216.6 588.5,1234.6 588.4,1239.2 588.1,1258.1 587.9,1272.6 587.8,1279.6 587.4,1236.8 587.3,1223.9 586.9,1183 586.8,1176.9 586.4,1178.4 585.9,1180.4 585.4,1177 584.9,1175.1 584.4,1175.8 583.9,1176.4 583.4,1173.3 582.9,1175.6 582.4,1176 581.9,1179.4 581.4,1173.9 580.9,1174.7 580.4,1174.2 579.9,1174.9 579.4,1173.9 578.9,1174.8 578.4,1183.2 577.9,1177.6 577.4,1176.2 576.9,1173.4 576.4,1175.4 575.9,1179.2 575.4,1174.1 574.9,1175.1 574.4,1173.9 573.9,1173.7 573.4,1174.6 572.9,1180.5 572.4,1175.5 571.9,1175.6 571.4,1178.9 570.9,1176.9 570.4,1178.2 569.9,1175.7 569.4,1175.3 568.9,1176.6 568.4,1174.7 567.9,1182 567.4,1175.9 566.9,1180.8 566.4,1179.3 565.9,1184.3 565.4,1189.4 564.9,1195.9 564.4,1208.5 563.9,1221.7 563.5,1237.6 563.4,1244.3 563.1,1263.9 562.9,1280.5 562.8,1287.1 562.4,1241.6 562.3,1229.3 561.9,1179.2 561.8,1176.5 561.4,1175.8 560.9,1173.6 560.4,1175.2 559.9,1174.2 559.4,1176.4 558.9,1174.5 558.4,1180.2 557.9,1176.8 557.4,1173.9 556.9,1173.9 556.4,1173.7 555.9,1177 555.4,1173.5 554.9,1176.2 554.4,1173.4 553.9,1177.4 553.4,1175.5 552.9,1178.9 552.4,1177.8 551.9,1174.1 551.4,1178.1 550.9,1176 550.4,1175 549.9,1176.9 549.4,1175.3 548.9,1175.8 548.4,1175.4 547.9,1176.2 547.4,1177.7 546.9,1177.1 546.4,1177.3 545.9,1176.5 545.4,1174.1 544.9,1177.9 544.4,1183.7 543.9,1174.6 543.4,1179.1 542.9,1175.4 542.4,1180 541.9,1185.2 541.4,1183.8 540.9,1188.8 540.4,1189.9 539.9,1196.5 539.4,1205.1 538.9,1230.2 538.5,1241.9 538.4,1247.3 538.1,1269.4 537.9,1286.9 537.8,1294 537.4,1246.8 537.3,1231.4 536.9,1182.6 536.8,1174.6 536.4,1175.5 535.9,1187.1 535.4,1175.1 534.9,1175.3 534.4,1174.8 533.9,1178.3 533.4,1176.1 532.9,1173.8 532.4,1176.7 531.9,1176.3 531.4,1177.7 530.9,1178 530.4,1175.9 529.9,1176.6 529.4,1178.4 528.9,1180.5 528.4,1176.5 527.9,1176.8 527.4,1174 526.9,1177.7 526.4,1182.6 525.9,1179.3 525.4,1181.8 524.9,1177.2 524.4,1178.3 523.9,1175.8 523.4,1177.6 522.9,1175 522.4,1173.8 521.9,1173.7 521.4,1174.9 520.9,1173.9 520.4,1180.7 519.9,1177.6 519.4,1175.7 518.9,1179 518.4,1174.7 517.9,1177.4 517.4,1181.6 516.9,1179 516.4,1181.3 515.9,1188.1 515.4,1193.1 514.9,1197.3 514.4,1209.7 513.9,1222.1 513.5,1238.4 513.4,1244.3 513.1,1267 512.9,1282.2 512.8,1290.3 512.4,1240.3 512.3,1231.4 511.9,1182.3 511.8,1175.9 511.4,1173.8 510.9,1173.3 510.4,1181.2 509.9,1178.3 509.4,1174.3 508.9,1176.2 508.4,1174.7 507.9,1176.2 507.4,1178.8 506.9,1175.2 506.4,1175.8 505.9,1175.6 505.4,1175.3 504.9,1179.6 504.4,1184.3 503.9,1178.1 503.4,1173.7 502.9,1179.4 502.4,1181.7 501.9,1179.6 501.4,1175.9 500.9,1177.2 500.4,1175 499.9,1175.6 499.4,1175.1 498.9,1176.8 498.4,1174.9 497.9,1179 497.4,1183.3 496.9,1180.3 496.4,1178.5 495.9,1180.8 495.4,1178.6 494.9,1189.4 494.4,1178.3 493.9,1181.1 493.4,1178.6 492.9,1178 492.4,1178 491.9,1179.9 491.4,1184.1 490.9,1188.7 490.4,1192.8 489.9,1203.1 489.4,1210.9 488.9,1232.9 488.5,1244.2 488.4,1249.2 488.1,1270.2 487.9,1288 487.8,1296.4 487.4,1245.9 487.3,1232.9 486.9,1187.8 486.9,1180.4 486.4,1178.2 485.9,1185.5 485.4,1189.1 484.9,1181.3 484.4,1177.1 483.9,1184.1 483.4,1188.1 482.9,1186.2 482.4,1179.4 481.9,1186.3 481.4,1177 480.9,1183.6 480.4,1177.2 479.9,1177.5 479.4,1179.6 478.9,1190 478.4,1178.8 477.9,1190.3 477.4,1181.8 476.9,1182 476.4,1178.8 475.9,1177.7 475.4,1180.9 474.9,1180.5 474.4,1177.1 473.9,1181.2 473.4,1175.1 472.9,1176.1 472.4,1180 471.9,1177.7 471.4,1181 470.9,1187.5 470.4,1186.7 469.9,1179.9 469.4,1179.9 468.9,1188.4 468.4,1176.8 467.9,1177.2 467.4,1180.8 466.9,1188.4 466.4,1184.3 465.9,1192.3 465.4,1195 464.9,1197.9 464.4,1211.4 463.9,1228.8 463.5,1249.3 463.4,1254.8 463.1,1278.3 462.9,1296.5 462.8,1304.4 462.4,1250.5 462.3,1237.1 461.9,1183 461.9,1180.4 461.4,1174.8 460.9,1175.7 460.4,1176.4 459.9,1174.2 459.4,1176.2 458.9,1179.4 458.4,1176.7 457.9,1178 457.4,1180.1 456.9,1173.8 456.4,1175.7 455.9,1175 455.4,1177.4 454.9,1176.8 454.4,1175.1 453.9,1173.4 453.4,1175.8 452.9,1183.8 452.4,1175.9 451.9,1173.6 451.4,1177.2 450.9,1180.3 450.4,1176.9 449.9,1176.9 449.4,1174.6 448.9,1173.3 448.4,1179 447.9,1180.9 447.4,1174.3 446.9,1174.6 446.4,1177.3 445.9,1175.7 445.4,1175.4 444.9,1179.8 444.4,1178.4 443.9,1175.8 443.4,1176.8 442.9,1178.1 442.4,1177.5 441.9,1178.9 441.4,1181.4 440.9,1184.4 440.4,1192.5 439.9,1202.2 439.4,1206.9 438.9,1227.8 438.5,1249.7 438.4,1251.9 438.1,1274.4 437.9,1293.4 437.8,1301.5 437.4,1251.8 437.3,1238.4 436.9,1180.8 436.9,1174.2 436.4,1177.5 435.9,1177.5 435.4,1178.3 434.9,1173.6 434.4,1174.2 433.9,1179.8 433.4,1178.2 432.9,1176.4 432.4,1178.2 431.9,1174.5 431.4,1181.4 430.9,1178.1 430.4,1174.7 429.9,1173.8 429.4,1176 428.9,1176.5 428.4,1179.6 427.9,1174.5 427.4,1184.7 426.9,1177.7 426.4,1176.9 425.9,1176.9 425.4,1178.7 424.9,1177 424.4,1184.7 423.9,1174.5 423.4,1175.7 422.9,1175.2 422.4,1175.6 421.9,1175.3 421.4,1179.3 420.9,1178.2 420.4,1175.5 419.9,1176.6 419.4,1177.1 418.9,1175.5 418.4,1179.4 417.9,1179.1 417.4,1183.4 416.9,1179.7 416.4,1185.3 415.9,1184 415.4,1190.8 414.9,1201.6 414.4,1212.3 413.9,1231.4 413.5,1259.5 413.4,1262 413.1,1288.8 412.9,1310.1 412.8,1319 412.4,1258.8 412.3,1246.8 411.9,1181.8 411.9,1175.2 411.4,1178.7 410.9,1173.7 410.4,1177 409.9,1177.6 409.4,1175.9 408.9,1178.4 408.4,1176.1 407.9,1173.8 407.4,1173.3 406.9,1175.1 406.4,1175.4 405.9,1174.4 405.4,1180.2 404.9,1181.6 404.4,1178.2 403.9,1175.3 403.4,1181.9 402.9,1174.2 402.4,1181.8 401.9,1174.9 401.4,1175.4 400.9,1181.6 400.4,1178.3 399.9,1177.4 399.4,1179 398.9,1178.8 398.4,1174.2 397.9,1178.1 397.4,1179.1 396.9,1177.9 396.4,1180.8 395.9,1178.5 395.4,1175.3 394.9,1174.8 394.4,1175.9 393.9,1181 393.4,1175.4 392.9,1176.1 392.4,1180.9 391.9,1180.4 391.4,1183.3 390.9,1191.4 390.4,1191.3 389.9,1198.3 389.4,1212 388.9,1230.6 388.5,1251.3 388.4,1258.2 388.1,1285.2 387.9,1304 387.8,1312.3 387.4,1253.8 387.3,1242.2 386.9,1186 386.9,1176 386.4,1174.4 385.9,1181.9 385.4,1176.4 384.9,1176 384.4,1178.6 383.9,1175.2 383.4,1175 382.9,1173.8 382.4,1173.9 381.9,1189.5 381.4,1176.7 380.9,1174.8 380.4,1179.6 379.9,1178.8 379.4,1181.3 378.9,1177.4 378.4,1173.3 377.9,1179.1 377.4,1183.9 376.9,1174.3 376.4,1175.7 375.9,1178 375.4,1177.2 374.9,1178.6 374.4,1174.5 373.9,1179.5 373.4,1174.6 372.9,1174.1 372.4,1175.1 371.9,1176 371.4,1178.8 370.9,1183.2 370.4,1175.1 369.9,1174.4 369.4,1176.5 368.9,1175.2 368.4,1177.9 367.9,1176.3 367.4,1178.8 366.9,1179.6 366.4,1182.2 365.9,1187.5 365.4,1197.1 364.9,1200.7 364.4,1215.1 363.9,1234.6 363.5,1261.9 363.4,1266.2 363.1,1293.8 362.9,1315.6 362.8,1326.4 362.4,1261.2 362.3,1247.4 361.9,1182.3 361.9,1177.1 361.4,1178.2 360.9,1179.2 360.4,1174.2 359.9,1179.5 359.4,1176 358.9,1174.7 358.4,1174.7 357.9,1180.8 357.4,1179.1 356.9,1176.5 356.4,1180.7 355.9,1174.3 355.4,1175.1 354.9,1180.5 354.4,1181 353.9,1177.1 353.4,1176.7 352.9,1175.5 352.4,1174.6 351.9,1179.7 351.4,1174.6 350.9,1174.6 350.4,1176.1 349.9,1175.3 349.4,1179.1 348.9,1176.9 348.4,1179.7 347.9,1178.2 347.4,1180.9 346.9,1175.8 346.4,1179.7 345.9,1177.8 345.4,1177.5 344.9,1176.6 344.4,1176.1 343.9,1175.2 343.4,1182.5 342.9,1176.9 342.4,1182 341.9,1185.7 341.4,1185.1 340.9,1186.7 340.4,1192.5 339.9,1202.7 339.4,1219.8 338.9,1240.3 338.5,1267.9 338.4,1275.9 338.1,1304.5 337.9,1328.1 337.8,1339 337.4,1270 337.3,1252.5 336.9,1183.2 336.9,1181.6 336.4,1174.8 335.9,1175.5 335.4,1178.8 334.9,1175.3 334.4,1174.5 333.9,1178.4 333.4,1173.2 332.9,1176.5 332.4,1176.4 331.9,1175.7 331.4,1177.1 330.9,1174.7 330.4,1174 329.9,1173.3 329.4,1176.7 328.9,1177.5 328.4,1178.4 327.9,1175.4 327.4,1180 326.9,1176.3 326.4,1175.6 325.9,1182 325.4,1181.1 324.9,1178.2 324.4,1177.2 323.9,1174.2 323.4,1173.7 322.9,1175.3 322.4,1175.7 321.9,1174.6 321.4,1174.3 320.9,1175.2 320.4,1181.5 319.9,1176.8 319.4,1178.4 318.9,1175.6 318.4,1179.6 317.9,1182.3 317.4,1180.7 316.9,1180.5 316.4,1185.6 315.9,1187.1 315.4,1197.9 314.9,1206.7 314.4,1223.8 313.9,1250.3 313.5,1277.5 313.4,1286.8 313.1,1321 312.9,1348.4 312.8,1359.8 312.4,1282.1 312.3,1264.3 311.9,1184.7 311.9,1177.8 311.4,1175.6 310.9,1173.6 310.4,1173.3 309.9,1179.2 309.4,1175.4 308.9,1174.3 308.4,1174.2 307.9,1178.3 307.4,1174.7 306.9,1176.1 306.4,1178.5 305.9,1181.5 305.4,1179.7 304.9,1177.9 304.4,1176.5 303.9,1175.5 303.4,1181.3 302.9,1179.4 302.4,1180.5 301.9,1179.7 301.4,1174.1 300.9,1174.8 300.4,1178.5 299.9,1175 299.4,1174.3 298.9,1175.4 298.4,1176.1 297.9,1179.8 297.4,1176.2 296.9,1181 296.4,1176.6 295.9,1175.8 295.4,1175.9 294.9,1175.3 294.4,1176.5 293.9,1181.5 293.4,1176.4 292.9,1177.9 292.4,1184.7 291.9,1188.8 291.4,1186.5 290.9,1193.9 290.4,1201.1 289.9,1216.1 289.4,1229.8 288.9,1260.1 288.5,1292.9 288.4,1303 288.1,1343.5 287.9,1373.3 287.8,1387.2 287.4,1298 287.3,1275.8 286.9,1185.3 286.9,1178.6 286.4,1173.2 285.9,1177 285.4,1181.9 284.9,1173.7 284.4,1173.7 283.9,1175.4 283.4,1176.9 282.9,1174 282.4,1173.8 281.9,1176.2 281.4,1174.3 280.9,1178.7 280.4,1174.9 279.9,1175.9 279.4,1187.2 278.9,1174.6 278.4,1173.7 277.9,1176.2 277.4,1175 276.9,1173.5 276.4,1175.5 275.9,1178.9 275.4,1176.5 274.9,1173.9 274.4,1180.6 273.9,1174.5 273.4,1180.1 272.9,1179.6 272.4,1173.7 271.9,1175.2 271.4,1174.4 270.9,1175.3 270.4,1179.7 269.9,1176.3 269.4,1176.4 268.9,1177.5 268.4,1179.8 267.9,1188.1 267.4,1183.5 266.9,1184.4 266.4,1188.3 265.9,1202.2 265.4,1204.2 264.9,1217.5 264.4,1244.7 263.9,1276.9 263.5,1316.9 263.4,1328.8 263.1,1374.4 262.9,1412 262.8,1428.9 262.4,1323.2 262.3,1296.1 261.9,1187.4 261.9,1179.4 261.4,1181.7 260.9,1173.3 260.4,1174.3 259.9,1178.7 259.4,1174.1 258.9,1176.1 258.4,1173.8 257.9,1179.7 257.4,1176.8 256.9,1177.3 256.4,1177.2 255.9,1173.8 255.4,1174.5 254.9,1174.3 254.4,1175.9 253.9,1187.7 253.4,1176.5 252.9,1174.5 252.4,1175.8 251.9,1176.4 251.4,1173.5 250.9,1177.4 250.4,1177 249.9,1173.9 249.4,1178.3 248.9,1181.4 248.4,1173.4 247.9,1179.1 247.4,1175.7 246.9,1177.3 246.4,1175 245.9,1177 245.4,1176.8 244.9,1175.9 244.4,1178.1 243.9,1176 243.4,1177.4 242.9,1179.5 242.4,1187.1 241.9,1184.3 241.4,1190.2 240.9,1194.3 240.4,1210.5 239.9,1221.6 239.4,1245.5 238.9,1282.9 238.5,1323.5 238.4,1338.1 238.1,1384.8 237.9,1424 237.8,1440.2 237.4,1328.1 237.3,1301.8 236.9,1197.7 236.9,1178.7 236.4,1176.4 235.9,1176.6 235.4,1179.1 234.9,1181.4 234.4,1179.8 233.9,1174.9 233.4,1174.8 232.9,1176.1 232.4,1174.8 231.9,1182 231.4,1173.5 230.9,1173.3 230.4,1173.6 229.9,1173.5 229.4,1173.7 228.9,1177.8 228.4,1174.9 227.9,1175.9 227.4,1175.4 226.9,1174.9 226.4,1184.6 225.9,1178.7 225.4,1177.5 224.9,1176.7 224.4,1174.3 223.9,1183 223.4,1176.9 222.9,1178.4 222.4,1174 221.9,1176.3 221.4,1179.4 220.9,1174.6 220.4,1174.6 219.9,1177.1 219.4,1175.4 218.9,1179.6 218.4,1179.5 217.9,1180.2 217.4,1184.8 216.9,1185.6 216.4,1189.3 215.9,1196.9 215.4,1215.3 214.9,1226.6 214.4,1254.6 213.9,1292.1 213.5,1341.9 213.4,1355.7 213.1,1407.6 212.9,1451.3 212.8,1468.6 212.4,1344.3 212.3,1315.4 211.9,1197.4 211.9,1177.7 211.4,1178.4 210.9,1182.1 210.4,1174.3 209.9,1173.4 209.4,1178.2 208.9,1175.4 208.4,1173.5 207.9,1180.2 207.4,1175.9 206.9,1173.7 206.4,1177.8 205.9,1180.6 205.4,1175.2 204.9,1177.8 204.4,1174.7 203.9,1181.8 203.4,1176.4 202.9,1175.4 202.4,1176.1 201.9,1174.5 201.4,1175.2 200.9,1179.8 200.4,1174.8 199.9,1179.1 199.4,1181.9 198.9,1179.3 198.4,1177.4 197.9,1176.1 197.4,1179.2 196.9,1179.5 196.4,1177 195.9,1179.4 195.4,1174 194.9,1174.5 194.4,1176 193.9,1183.6 193.4,1185.6 192.9,1177.9 192.4,1179.7 191.9,1184 191.4,1188.5 190.9,1191.2 190.4,1201.8 189.9,1217.9 189.4,1238.5 188.9,1272.4 188.5,1308.6 188.4,1321.5 188.1,1365.5 187.9,1397.4 187.8,1413.3 187.4,1313.9 187.3,1289.8 186.9,1188.7 186.9,1173.8 186.4,1175 185.9,1175.6 185.4,1179 184.9,1174.8 184.4,1176.5 183.9,1175.2 183.4,1175 182.9,1175.6 182.4,1173.2 181.9,1176.5 181.4,1177.3 180.9,1186 180.4,1174.3 179.9,1174.6 179.4,1177.1 178.9,1178.7 178.4,1173.6 177.9,1183.1 177.4,1188.5 176.9,1174.5 176.4,1175.6 175.9,1183.6 175.4,1175.9 174.9,1177.2 174.4,1177.7 173.9,1173.6 173.4,1175.8 172.9,1173.3 172.4,1177.8 171.9,1173.8 171.4,1174.9 170.9,1176.4 170.4,1180.1 169.9,1174.5 169.4,1176.5 168.9,1176.1 168.4,1185.3 167.9,1176.7 167.4,1173.9 166.9,1175.2 166.4,1180.8 165.9,1178 165.4,1180.3 164.9,1175 164.4,1174.2 163.9,1177.1 163.4,1175.4 162.9,1180.8 162.4,1181.2 161.9,1173.9 161.4,1177 160.9,1174.1 160.4,1176 159.9,1173.2 159.4,1175.9 158.9,1175.6 158.4,1174.3 157.9,1178.8 157.4,1181.3 156.9,1174.3 156.4,1173.7 155.9,1174.7 155.4,1177.6 154.9,1175.5 154.4,1177.3 153.9,1179.5 153.4,1182.7 152.9,1173.6" fill="#000" stroke="#000" stroke-width="0.9" stroke-linejoin="bevel"/>
<line x1="152.2" y1="1112.8" x2="152.2" y2="1480.5" stroke="#2b2b2b" stroke-width="1.9" />
<line x1="152.2" y1="1479.6" x2="688.8" y2="1479.6" stroke="#2b2b2b" stroke-width="1.9" />
<line x1="138" y1="1167.3" x2="152.2" y2="1167.3" stroke="#2b2b2b" stroke-width="1.8" />
<line x1="143.6" y1="1221.9" x2="152.2" y2="1221.9" stroke="#2b2b2b" stroke-width="1.8" />
<line x1="138" y1="1276.5" x2="152.2" y2="1276.5" stroke="#2b2b2b" stroke-width="1.8" />
<line x1="143.6" y1="1331.1" x2="152.2" y2="1331.1" stroke="#2b2b2b" stroke-width="1.8" />
<line x1="138" y1="1385.7" x2="152.2" y2="1385.7" stroke="#2b2b2b" stroke-width="1.8" />
<line x1="143.6" y1="1440.3" x2="152.2" y2="1440.3" stroke="#2b2b2b" stroke-width="1.8" />
<text transform="translate(135.2 1176.6) scale(0.935 1)" font-family='"Liberation Sans", "DejaVu Sans", sans-serif' font-size="28.5" text-anchor="end" fill="#1a1a1a" >0</text>
<text transform="translate(135.2 1285.8) scale(0.935 1)" font-family='"Liberation Sans", "DejaVu Sans", sans-serif' font-size="28.5" text-anchor="end" fill="#1a1a1a" >-0.05</text>
<text transform="translate(135.2 1395) scale(0.935 1)" font-family='"Liberation Sans", "DejaVu Sans", sans-serif' font-size="28.5" text-anchor="end" fill="#1a1a1a" >-0.1</text>
<line x1="152.2" y1="1479.6" x2="152.2" y2="1493.6" stroke="#2b2b2b" stroke-width="1.8" />
<text transform="translate(152.5 1521.2) scale(0.89 1)" font-family='"Liberation Sans", "DejaVu Sans", sans-serif' font-size="28.5" text-anchor="middle" fill="#1a1a1a" >0</text>
<line x1="177.2" y1="1479.6" x2="177.2" y2="1488.2" stroke="#2b2b2b" stroke-width="1.8" />
<line x1="202.2" y1="1479.6" x2="202.2" y2="1493.6" stroke="#2b2b2b" stroke-width="1.8" />
<text transform="translate(202.5 1521.2) scale(0.89 1)" font-family='"Liberation Sans", "DejaVu Sans", sans-serif' font-size="28.5" text-anchor="middle" fill="#1a1a1a" >5</text>
<line x1="227.2" y1="1479.6" x2="227.2" y2="1488.2" stroke="#2b2b2b" stroke-width="1.8" />
<line x1="252.2" y1="1479.6" x2="252.2" y2="1493.6" stroke="#2b2b2b" stroke-width="1.8" />
<text transform="translate(252.5 1521.2) scale(0.89 1)" font-family='"Liberation Sans", "DejaVu Sans", sans-serif' font-size="28.5" text-anchor="middle" fill="#1a1a1a" >10</text>
<line x1="277.2" y1="1479.6" x2="277.2" y2="1488.2" stroke="#2b2b2b" stroke-width="1.8" />
<line x1="302.2" y1="1479.6" x2="302.2" y2="1493.6" stroke="#2b2b2b" stroke-width="1.8" />
<text transform="translate(302.5 1521.2) scale(0.89 1)" font-family='"Liberation Sans", "DejaVu Sans", sans-serif' font-size="28.5" text-anchor="middle" fill="#1a1a1a" >15</text>
<line x1="327.2" y1="1479.6" x2="327.2" y2="1488.2" stroke="#2b2b2b" stroke-width="1.8" />
<line x1="352.2" y1="1479.6" x2="352.2" y2="1493.6" stroke="#2b2b2b" stroke-width="1.8" />
<text transform="translate(352.5 1521.2) scale(0.89 1)" font-family='"Liberation Sans", "DejaVu Sans", sans-serif' font-size="28.5" text-anchor="middle" fill="#1a1a1a" >20</text>
<line x1="377.2" y1="1479.6" x2="377.2" y2="1488.2" stroke="#2b2b2b" stroke-width="1.8" />
<line x1="402.2" y1="1479.6" x2="402.2" y2="1493.6" stroke="#2b2b2b" stroke-width="1.8" />
<text transform="translate(402.5 1521.2) scale(0.89 1)" font-family='"Liberation Sans", "DejaVu Sans", sans-serif' font-size="28.5" text-anchor="middle" fill="#1a1a1a" >25</text>
<line x1="427.2" y1="1479.6" x2="427.2" y2="1488.2" stroke="#2b2b2b" stroke-width="1.8" />
<line x1="452.2" y1="1479.6" x2="452.2" y2="1493.6" stroke="#2b2b2b" stroke-width="1.8" />
<text transform="translate(452.5 1521.2) scale(0.89 1)" font-family='"Liberation Sans", "DejaVu Sans", sans-serif' font-size="28.5" text-anchor="middle" fill="#1a1a1a" >30</text>
<line x1="477.2" y1="1479.6" x2="477.2" y2="1488.2" stroke="#2b2b2b" stroke-width="1.8" />
<line x1="502.2" y1="1479.6" x2="502.2" y2="1493.6" stroke="#2b2b2b" stroke-width="1.8" />
<text transform="translate(502.5 1521.2) scale(0.89 1)" font-family='"Liberation Sans", "DejaVu Sans", sans-serif' font-size="28.5" text-anchor="middle" fill="#1a1a1a" >35</text>
<line x1="527.2" y1="1479.6" x2="527.2" y2="1488.2" stroke="#2b2b2b" stroke-width="1.8" />
<line x1="552.2" y1="1479.6" x2="552.2" y2="1493.6" stroke="#2b2b2b" stroke-width="1.8" />
<text transform="translate(552.5 1521.2) scale(0.89 1)" font-family='"Liberation Sans", "DejaVu Sans", sans-serif' font-size="28.5" text-anchor="middle" fill="#1a1a1a" >40</text>
<line x1="577.2" y1="1479.6" x2="577.2" y2="1488.2" stroke="#2b2b2b" stroke-width="1.8" />
<line x1="602.2" y1="1479.6" x2="602.2" y2="1493.6" stroke="#2b2b2b" stroke-width="1.8" />
<text transform="translate(602.5 1521.2) scale(0.89 1)" font-family='"Liberation Sans", "DejaVu Sans", sans-serif' font-size="28.5" text-anchor="middle" fill="#1a1a1a" >45</text>
<line x1="627.2" y1="1479.6" x2="627.2" y2="1488.2" stroke="#2b2b2b" stroke-width="1.8" />
<line x1="652.2" y1="1479.6" x2="652.2" y2="1493.6" stroke="#2b2b2b" stroke-width="1.8" />
<text transform="translate(652.5 1521.2) scale(0.89 1)" font-family='"Liberation Sans", "DejaVu Sans", sans-serif' font-size="28.5" text-anchor="middle" fill="#1a1a1a" >50</text>
<line x1="677.2" y1="1479.6" x2="677.2" y2="1488.2" stroke="#2b2b2b" stroke-width="1.8" />
<text transform="translate(389.3 1558.8) scale(0.93 1)" font-family='"Liberation Sans", "DejaVu Sans", sans-serif' font-size="28.5" text-anchor="middle" fill="#1a1a1a" >Time (min)</text>
<text transform="translate(46.4 1308.2) rotate(-90) scale(0.9 1)" font-family='"Liberation Sans", "DejaVu Sans", sans-serif' font-size="28.5" text-anchor="middle" fill="#1a1a1a" >DP (µcal/s)</text>
<text x="-2.6" y="1144.4" font-family='"DejaVu Sans", "Liberation Sans", sans-serif' font-size="60" text-anchor="start" fill="#000" stroke="#000" stroke-width="0.8">c</text>
</g>
<g id="panel-c-right">
<polyline points="874.4,1464.2 898.4,1453.2 923.7,1431 948.9,1407.2 974.6,1369.5 1000.6,1328 1027,1292.3 1053.4,1255.4 1079.8,1228.2 1106.8,1204.1 1133.7,1188.1 1161.1,1175.7 1188.6,1166.1 1216.6,1157.8 1244.7,1151 1272.9,1146.2 1301.5,1142.4 1330.3,1139.8 1359.3,1137.6 1388.6,1136.2" fill="none" stroke="#000" stroke-width="3.0" stroke-linejoin="round" stroke-linecap="butt"/>
<circle cx="923.7" cy="1425.6" r="4.6" fill="#000"/>
<circle cx="948.9" cy="1406.3" r="4.6" fill="#000"/>
<circle cx="974.6" cy="1376.3" r="4.6" fill="#000"/>
<circle cx="1000.6" cy="1323.9" r="4.6" fill="#000"/>
<circle cx="1027" cy="1291.7" r="4.6" fill="#000"/>
<circle cx="1053.4" cy="1253.5" r="4.6" fill="#000"/>
<circle cx="1079.8" cy="1231.4" r="4.6" fill="#000"/>
<circle cx="1106.8" cy="1200.7" r="4.6" fill="#000"/>
<circle cx="1133.7" cy="1188.1" r="4.6" fill="#000"/>
<circle cx="1161.1" cy="1176.2" r="4.6" fill="#000"/>
<circle cx="1188.6" cy="1165.4" r="4.6" fill="#000"/>
<circle cx="1216.6" cy="1159.3" r="4.6" fill="#000"/>
<circle cx="1244.7" cy="1151.4" r="4.6" fill="#000"/>
<circle cx="1272.9" cy="1148.4" r="4.6" fill="#000"/>
<circle cx="1301.5" cy="1146.2" r="4.6" fill="#000"/>
<circle cx="1330.3" cy="1136.8" r="4.6" fill="#000"/>
<circle cx="1359.3" cy="1133.2" r="4.6" fill="#000"/>
<circle cx="1388.6" cy="1135.8" r="4.6" fill="#000"/>
<line x1="866.5" y1="1115.6" x2="866.5" y2="1483.1" stroke="#2b2b2b" stroke-width="1.9" />
<line x1="866.5" y1="1482.2" x2="1415.6" y2="1482.2" stroke="#2b2b2b" stroke-width="1.9" />
<line x1="852.1" y1="1132.4" x2="866.5" y2="1132.4" stroke="#2b2b2b" stroke-width="1.8" />
<line x1="857.7" y1="1174.8" x2="866.5" y2="1174.8" stroke="#2b2b2b" stroke-width="1.8" />
<line x1="852.1" y1="1217.2" x2="866.5" y2="1217.2" stroke="#2b2b2b" stroke-width="1.8" />
<line x1="857.7" y1="1259.5" x2="866.5" y2="1259.5" stroke="#2b2b2b" stroke-width="1.8" />
<line x1="852.1" y1="1301.9" x2="866.5" y2="1301.9" stroke="#2b2b2b" stroke-width="1.8" />
<line x1="857.7" y1="1344.3" x2="866.5" y2="1344.3" stroke="#2b2b2b" stroke-width="1.8" />
<line x1="852.1" y1="1386.7" x2="866.5" y2="1386.7" stroke="#2b2b2b" stroke-width="1.8" />
<line x1="857.7" y1="1429" x2="866.5" y2="1429" stroke="#2b2b2b" stroke-width="1.8" />
<line x1="852.1" y1="1471.4" x2="866.5" y2="1471.4" stroke="#2b2b2b" stroke-width="1.8" />
<text transform="translate(849.4 1142) scale(0.935 1)" font-family='"Liberation Sans", "DejaVu Sans", sans-serif' font-size="28.5" text-anchor="end" fill="#1a1a1a" >-0.5</text>
<text transform="translate(849.4 1226.8) scale(0.935 1)" font-family='"Liberation Sans", "DejaVu Sans", sans-serif' font-size="28.5" text-anchor="end" fill="#1a1a1a" >-1</text>
<text transform="translate(849.4 1311.5) scale(0.935 1)" font-family='"Liberation Sans", "DejaVu Sans", sans-serif' font-size="28.5" text-anchor="end" fill="#1a1a1a" >-1.5</text>
<text transform="translate(849.4 1396.2) scale(0.935 1)" font-family='"Liberation Sans", "DejaVu Sans", sans-serif' font-size="28.5" text-anchor="end" fill="#1a1a1a" >-2</text>
<text transform="translate(849.4 1481) scale(0.935 1)" font-family='"Liberation Sans", "DejaVu Sans", sans-serif' font-size="28.5" text-anchor="end" fill="#1a1a1a" >-2.5</text>
<line x1="866.5" y1="1482.2" x2="866.5" y2="1495.6" stroke="#2b2b2b" stroke-width="1.8" />
<line x1="900.6" y1="1482.2" x2="900.6" y2="1490.2" stroke="#2b2b2b" stroke-width="1.8" />
<line x1="934.7" y1="1482.2" x2="934.7" y2="1495.6" stroke="#2b2b2b" stroke-width="1.8" />
<line x1="968.8" y1="1482.2" x2="968.8" y2="1490.2" stroke="#2b2b2b" stroke-width="1.8" />
<line x1="1002.9" y1="1482.2" x2="1002.9" y2="1495.6" stroke="#2b2b2b" stroke-width="1.8" />
<line x1="1037" y1="1482.2" x2="1037" y2="1490.2" stroke="#2b2b2b" stroke-width="1.8" />
<line x1="1071.1" y1="1482.2" x2="1071.1" y2="1495.6" stroke="#2b2b2b" stroke-width="1.8" />
<line x1="1105.2" y1="1482.2" x2="1105.2" y2="1490.2" stroke="#2b2b2b" stroke-width="1.8" />
<line x1="1139.3" y1="1482.2" x2="1139.3" y2="1495.6" stroke="#2b2b2b" stroke-width="1.8" />
<line x1="1173.4" y1="1482.2" x2="1173.4" y2="1490.2" stroke="#2b2b2b" stroke-width="1.8" />
<line x1="1207.5" y1="1482.2" x2="1207.5" y2="1495.6" stroke="#2b2b2b" stroke-width="1.8" />
<line x1="1241.6" y1="1482.2" x2="1241.6" y2="1490.2" stroke="#2b2b2b" stroke-width="1.8" />
<line x1="1275.7" y1="1482.2" x2="1275.7" y2="1495.6" stroke="#2b2b2b" stroke-width="1.8" />
<line x1="1309.8" y1="1482.2" x2="1309.8" y2="1490.2" stroke="#2b2b2b" stroke-width="1.8" />
<line x1="1343.9" y1="1482.2" x2="1343.9" y2="1495.6" stroke="#2b2b2b" stroke-width="1.8" />
<line x1="1378" y1="1482.2" x2="1378" y2="1490.2" stroke="#2b2b2b" stroke-width="1.8" />
<line x1="1412.1" y1="1482.2" x2="1412.1" y2="1495.6" stroke="#2b2b2b" stroke-width="1.8" />
<text transform="translate(866.7 1523.6) scale(0.875 1)" font-family='"Liberation Sans", "DejaVu Sans", sans-serif' font-size="28.5" text-anchor="middle" fill="#1a1a1a" >0</text>
<text transform="translate(934.9 1523.6) scale(0.875 1)" font-family='"Liberation Sans", "DejaVu Sans", sans-serif' font-size="28.5" text-anchor="middle" fill="#1a1a1a" >0.2</text>
<text transform="translate(1003.1 1523.6) scale(0.875 1)" font-family='"Liberation Sans", "DejaVu Sans", sans-serif' font-size="28.5" text-anchor="middle" fill="#1a1a1a" >0.4</text>
<text transform="translate(1071.3 1523.6) scale(0.875 1)" font-family='"Liberation Sans", "DejaVu Sans", sans-serif' font-size="28.5" text-anchor="middle" fill="#1a1a1a" >0.6</text>
<text transform="translate(1139.5 1523.6) scale(0.875 1)" font-family='"Liberation Sans", "DejaVu Sans", sans-serif' font-size="28.5" text-anchor="middle" fill="#1a1a1a" >0.8</text>
<text transform="translate(1207.7 1523.6) scale(0.875 1)" font-family='"Liberation Sans", "DejaVu Sans", sans-serif' font-size="28.5" text-anchor="middle" fill="#1a1a1a" >1</text>
<text transform="translate(1275.9 1523.6) scale(0.875 1)" font-family='"Liberation Sans", "DejaVu Sans", sans-serif' font-size="28.5" text-anchor="middle" fill="#1a1a1a" >1.2</text>
<text transform="translate(1344.1 1523.6) scale(0.875 1)" font-family='"Liberation Sans", "DejaVu Sans", sans-serif' font-size="28.5" text-anchor="middle" fill="#1a1a1a" >1.4</text>
<text transform="translate(1412.3 1523.6) scale(0.875 1)" font-family='"Liberation Sans", "DejaVu Sans", sans-serif' font-size="28.5" text-anchor="middle" fill="#1a1a1a" >1.6</text>
<text transform="translate(1119.3 1560.6) scale(0.965 1)" font-family='"Liberation Sans", "DejaVu Sans", sans-serif' font-size="28.5" text-anchor="middle" fill="#1a1a1a" >Molar Ratio</text>
<text transform="translate(776.4 1311) rotate(-90) scale(0.955 1)" font-family='"Liberation Sans", "DejaVu Sans", sans-serif' font-size="28.5" text-anchor="middle" fill="#1a1a1a" >ΔH (kcal/mol)</text>
</g>
</svg>
</body>
</html>
